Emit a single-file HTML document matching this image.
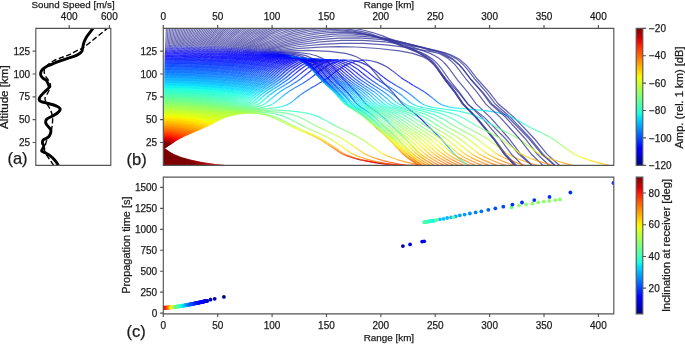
<!DOCTYPE html><html><head><meta charset="utf-8"><style>html,body{margin:0;padding:0;background:#fff;width:685px;height:345px;overflow:hidden}</style></head><body><svg xmlns="http://www.w3.org/2000/svg" width="685" height="345" viewBox="0 0 685 345" style="display:block;will-change:transform;font-family:'Liberation Sans',sans-serif" fill="#1c1c1c"><defs><clipPath id="ca"><rect x="35.8" y="28.3" width="75.0" height="137.0"/></clipPath><clipPath id="cb"><rect x="163.3" y="28.3" width="450.5" height="137.0"/></clipPath><clipPath id="cc"><rect x="163.3" y="177.1" width="450.5" height="136.8"/></clipPath><linearGradient id="gj" x1="0" y1="0" x2="0" y2="1"><stop offset="0.000" stop-color="#800000"/><stop offset="0.025" stop-color="#9c0000"/><stop offset="0.050" stop-color="#b90000"/><stop offset="0.075" stop-color="#d60000"/><stop offset="0.100" stop-color="#f30900"/><stop offset="0.125" stop-color="#ff2100"/><stop offset="0.150" stop-color="#ff3900"/><stop offset="0.175" stop-color="#ff5000"/><stop offset="0.200" stop-color="#ff6800"/><stop offset="0.225" stop-color="#ff8000"/><stop offset="0.250" stop-color="#ff9700"/><stop offset="0.275" stop-color="#ffaf00"/><stop offset="0.300" stop-color="#ffc600"/><stop offset="0.325" stop-color="#ffde00"/><stop offset="0.350" stop-color="#f7f600"/><stop offset="0.375" stop-color="#e2ff15"/><stop offset="0.400" stop-color="#ceff29"/><stop offset="0.425" stop-color="#b9ff3e"/><stop offset="0.450" stop-color="#a5ff52"/><stop offset="0.475" stop-color="#90ff67"/><stop offset="0.500" stop-color="#7bff7b"/><stop offset="0.525" stop-color="#67ff90"/><stop offset="0.550" stop-color="#52ffa5"/><stop offset="0.575" stop-color="#3effb9"/><stop offset="0.600" stop-color="#29ffce"/><stop offset="0.625" stop-color="#15ffe2"/><stop offset="0.650" stop-color="#00e5f7"/><stop offset="0.675" stop-color="#00ccff"/><stop offset="0.700" stop-color="#00b3ff"/><stop offset="0.725" stop-color="#0099ff"/><stop offset="0.750" stop-color="#0080ff"/><stop offset="0.775" stop-color="#0066ff"/><stop offset="0.800" stop-color="#004cff"/><stop offset="0.825" stop-color="#0033ff"/><stop offset="0.850" stop-color="#001aff"/><stop offset="0.875" stop-color="#0000ff"/><stop offset="0.900" stop-color="#0000f3"/><stop offset="0.925" stop-color="#0000d6"/><stop offset="0.950" stop-color="#0000b9"/><stop offset="0.975" stop-color="#00009c"/><stop offset="1.000" stop-color="#000080"/></linearGradient><filter id="bl" x="-20%" y="-20%" width="140%" height="140%"><feGaussianBlur stdDeviation="5"/></filter><mask id="md" maskUnits="userSpaceOnUse" x="0" y="0" width="685" height="345"><path d="M160,55L288,55L305,63L285,80L265,100L255,112L245,118L160,165Z" fill="#fff" filter="url(#bl)"/></mask><mask id="mt" maskUnits="userSpaceOnUse" x="0" y="0" width="685" height="345"><rect width="685" height="345" fill="#fff"/><path d="M150,15L330,15L322,47L160,49Z" fill="#e6e6e6" filter="url(#bl2)"/></mask><filter id="bl2" x="-20%" y="-50%" width="140%" height="200%"><feGaussianBlur stdDeviation="3"/></filter><g id="R"><path stroke="#38389c" d="M292.2,52.2 301.3,52.8 309.7,54.0 316.3,55.7 321.8,58.1 326.8,61.3 331.8,65.6 343.6,79.3M274.3,49.5 297.6,44.9 320.2,41.9 341.7,40.4 362.6,40.3 385.1,41.9 408.8,45.1 436.2,50.6 445.0,52.8 451.9,55.2 459.3,59.2 466.0,64.9 469.9,69.3 477.8,79.5 489.6,92.7 498.2,103.8 514.1,117.4 534.2,138.5 547.2,154.4 559.7,165.5M263.3,48.2 286.8,40.6 307.4,35.6 317.1,33.9 326.6,32.8 335.6,32.3 344.4,32.3 353.4,32.9 362.9,34.0 382.9,38.0 406.2,44.7 430.1,53.4 434.8,55.7 438.6,58.0 442.2,60.9 445.8,64.5 449.6,69.2 457.2,79.6 468.0,92.7 476.0,103.9 490.3,117.4 508.9,138.5 520.8,154.3 532.2,165.5M253.6,47.5 275.7,38.0 294.2,31.7 302.5,29.7 310.9,28.2 319.7,27.2 328.7,26.7 337.8,26.8 347.0,27.5 356.1,28.7 364.9,30.5 373.3,32.8 382.6,35.9 403.5,44.5 416.7,50.8 424.2,54.8 429.2,58.2 433.7,62.5 437.8,67.5 445.8,79.3 455.6,92.2 463.4,103.9 476.4,117.4 493.4,138.5 504.5,154.4 514.8,165.5M245.0,47.2 258.0,39.9 269.4,34.1 279.3,29.9 289.1,26.6M237.5,46.7 256.3,34.5 271.2,26.6M230.8,46.2 245.7,34.6 257.8,26.6M224.0,46.1 236.5,34.6 246.7,26.5M217.7,45.9 228.3,34.6 236.9,26.5M211.8,45.6 220.8,34.5 228.0,26.4M206.0,45.4 213.6,34.6 219.7,26.5M200.4,45.4 212.0,26.5M195.0,45.3 204.6,26.6M189.8,45.0 197.6,26.5M184.6,45.1 190.8,26.6M179.5,45.0 184.2,26.6M174.5,44.9 177.7,26.6M169.5,44.9 171.3,26.4"/><path stroke="#2c2caa" d="M287.2,52.1 292.2,52.2M343.6,79.3 346.2,82.0M271.1,50.2 274.3,49.5M260.5,49.2 263.3,48.2M251.4,48.6 253.6,47.5M243.1,48.3 245.0,47.2M235.8,48.0 237.5,46.7M229.3,47.4 230.8,46.2M222.8,47.2 224.0,46.1M216.6,47.1 217.7,45.9M210.8,46.9 211.8,45.6M205.2,46.7 206.0,45.4M199.8,46.5 200.4,45.4M194.5,46.5 195.0,45.3M189.3,46.5 189.8,45.0M184.2,46.3 184.6,45.1M179.2,46.2 179.5,45.0M174.3,46.2 174.5,44.9M169.4,46.2 169.5,44.9"/><path stroke="#2020bb" d="M282.2,52.3 287.2,52.1M346.2,82.0 348.9,84.9M267.5,51.0 271.1,50.2M257.5,50.3 260.5,49.2M248.8,49.9 251.4,48.6M240.8,49.6 243.1,48.3M233.8,49.3 235.8,48.0M227.7,48.7 229.3,47.4M221.1,48.8 222.8,47.2M215.2,48.6 216.6,47.1M209.7,48.3 210.8,46.9M204.2,48.2 205.2,46.7M198.9,48.1 199.8,46.5M193.7,48.0 194.5,46.5M188.7,47.9 189.3,46.5M183.8,47.8 184.2,46.3M178.9,47.7 179.2,46.2M174.1,47.7 174.3,46.2M169.3,47.7 169.4,46.2"/><path stroke="#1414ce" d="M276.8,52.7 282.2,52.3M348.9,84.9 351.7,87.7M263.4,52.1 267.5,51.0M254.1,51.6 257.5,50.3M245.8,51.4 248.8,49.9M238.2,51.2 240.8,49.6M231.5,51.0 233.8,49.3M225.5,50.5 227.7,48.7M219.3,50.6 221.1,48.8M213.5,50.5 215.2,48.6M208.2,50.2 209.7,48.3M203.0,50.1 204.2,48.2M197.8,50.0 198.9,48.1M192.9,49.8 193.7,48.0M187.9,49.9 188.7,47.9M183.1,49.8 183.8,47.8M178.4,49.8 178.9,47.7M173.8,49.6 174.1,47.7M169.1,49.6 169.3,47.7"/><path stroke="#0808e3" d="M341.4,61.0 349.5,64.1 357.3,68.9M290.6,55.9 298.4,58.7 305.4,63.2M270.7,53.5 276.8,52.7M351.7,87.7 354.8,90.7M258.5,53.5 263.4,52.1M249.9,53.3 254.1,51.6M242.2,53.2 245.8,51.4M235.0,53.2 238.2,51.2M228.7,53.0 231.5,51.0M223.1,52.6 225.5,50.5M217.2,52.7 219.3,50.6M211.6,52.7 213.5,50.5M206.6,52.4 208.2,50.2M201.5,52.3 203.0,50.1M196.5,52.3 197.8,50.0M191.8,52.2 192.9,49.8M187.1,52.1 187.9,49.9M182.4,52.1 183.1,49.8M177.9,52.0 178.4,49.8M173.4,51.9 173.8,49.6M168.9,51.9 169.1,49.6"/><path stroke="#0000fb" d="M307.8,67.9 312.5,64.9 317.5,62.6 322.5,60.9 327.4,59.9M337.7,60.2 341.4,61.0M357.3,68.9 362.5,73.2M298.6,62.5 305.6,59.9M323.7,60.3 332.0,63.7 340.0,69.0M317.1,61.4 323.2,64.8M306.8,59.6 312.3,62.3 317.8,66.1M281.3,54.9 290.6,55.9M305.4,63.2 310.7,67.9M261.1,55.7 270.7,53.5M354.8,90.7 357.5,93.7M251.4,56.2 258.5,53.5M244.5,55.9 249.9,53.3M237.7,55.8 242.2,53.2M231.2,55.9 235.0,53.2M225.4,55.7 228.7,53.0M220.1,55.3 223.1,52.6M214.6,55.4 217.2,52.7M209.4,55.4 211.6,52.7M204.6,55.1 206.6,52.4M199.8,55.0 201.5,52.3M195.1,54.9 196.5,52.3M190.5,54.8 191.8,52.2M186.0,54.8 187.1,52.1M181.7,54.6 182.4,52.1M177.3,54.7 177.9,52.0M172.9,54.7 173.4,51.9M168.7,54.5 168.9,51.9"/><path stroke="#0003ff" d="M302.9,71.7 307.8,67.9M327.4,59.9 329.7,59.7M335.8,59.9 337.7,60.2M362.5,73.2 366.5,76.5M290.1,67.5 298.6,62.5M305.6,59.9 310.8,59.0M320.5,59.5 323.7,60.3M340.0,69.0 344.7,73.1M280.8,65.1 285.2,62.4 289.6,60.4 294.1,59.0 298.5,58.2M311.3,59.2 317.1,61.4M323.2,64.8 330.8,70.8M273.0,63.2 280.9,59.2 288.9,57.3M302.6,58.2 306.8,59.6M317.8,66.1 323.5,71.2M265.0,62.3 269.5,59.7 274.0,57.9 278.7,56.7 283.6,56.1M297.9,58.3 302.0,60.1 306.1,62.6 313.9,69.0M257.8,61.5 262.9,58.5 268.6,56.4 274.7,55.2 281.3,54.9M310.7,67.9 314.2,71.6M251.4,60.7 255.9,57.9 261.1,55.7M357.5,93.7 360.0,96.8M244.7,60.4 251.4,56.2M238.7,59.8 244.5,55.9M232.9,59.5 237.7,55.8M227.3,59.3 231.2,55.9M221.9,59.1 225.4,55.7M217.1,58.5 220.1,55.3M212.0,58.5 214.6,55.4M207.1,58.5 209.4,55.4M202.6,58.3 204.6,55.1M198.1,58.0 199.8,55.0M193.6,58.0 195.1,54.9M189.3,57.9 190.5,54.8M185.0,57.7 186.0,54.8M180.8,57.8 181.7,54.6M176.6,57.7 177.3,54.7M172.5,57.5 172.9,54.7M168.4,57.6 168.7,54.5"/><path stroke="#0018ff" d="M299.3,74.6 302.9,71.7M329.7,59.7 331.1,59.7M334.9,59.8 335.8,59.9M366.5,76.5 369.9,79.1M285.4,71.3 290.1,67.5M310.8,59.0 313.1,58.9M318.7,59.2 320.5,59.5M344.7,73.1 348.6,76.5M275.5,69.1 280.8,65.1M298.5,58.2 301.4,58.0M308.9,58.7 311.3,59.2M330.8,70.8 334.8,74.5M267.4,67.3 273.0,63.2M288.9,57.3 292.8,57.1M300.4,57.7 302.6,58.2M323.5,71.2 327.1,74.8M259.8,66.3 265.0,62.3M283.6,56.1 287.1,56.1M295.1,57.4 297.9,58.3M313.9,69.0 317.9,73.2M252.8,65.5 257.8,61.5M314.2,71.6 316.9,74.8M246.5,64.6 251.4,60.7M360.0,96.8 362.3,99.7M240.5,64.1 244.7,60.4M234.8,63.5 238.7,59.8M229.4,63.1 232.9,59.5M224.1,62.8 227.3,59.3M219.1,62.5 221.9,59.1M214.4,62.0 217.1,58.5M209.7,61.9 212.0,58.5M205.1,61.8 207.1,58.5M200.7,61.5 202.6,58.3M196.5,61.3 198.1,58.0M192.2,61.3 193.6,58.0M188.1,61.1 189.3,57.9M184.1,61.0 185.0,57.7M180.0,60.9 180.8,57.8M176.1,60.8 176.6,57.7M172.1,60.7 172.5,57.5M168.2,60.8 168.4,57.6"/><path stroke="#002eff" d="M296.1,77.3 299.3,74.6M331.1,59.7 331.9,59.6M334.1,59.7 334.9,59.8M369.9,79.1 373.7,81.7M282.2,74.2 285.4,71.3M313.1,58.9 314.3,58.9M317.7,59.1 318.7,59.2M348.6,76.5 351.8,79.2M271.9,72.4 275.5,69.1M301.4,58.0 303.1,58.1M307.5,58.4 308.9,58.7M334.8,74.5 338.2,77.7M263.6,70.8 267.4,67.3M292.8,57.1 294.6,57.1M299.1,57.5 300.4,57.7M327.1,74.8 330.3,78.0M255.9,69.9 259.8,66.3M287.1,56.1 288.6,56.2M293.7,57.0 295.1,57.4M317.9,73.2 321.2,76.7M249.1,69.0 252.8,65.5M316.9,74.8 319.4,77.6M243.0,68.2 246.5,64.6M362.3,99.7 364.5,102.5M237.2,67.6 240.5,64.1M231.7,67.0 234.8,63.5M226.5,66.6 229.4,63.1M221.5,66.2 224.1,62.8M216.7,65.9 219.1,62.5M212.2,65.4 214.4,62.0M207.7,65.3 209.7,61.9M203.3,65.1 205.1,61.8M199.2,64.8 200.7,61.5M195.1,64.6 196.5,61.3M191.0,64.5 192.2,61.3M187.1,64.4 188.1,61.1M183.2,64.2 184.1,61.0M179.3,64.1 180.0,60.9M175.5,64.1 176.1,60.8M171.7,64.0 172.1,60.7M168.0,63.9 168.2,60.8"/><path stroke="#0044ff" d="M293.2,79.5 296.1,77.3M331.9,59.6 332.3,59.6M333.7,59.7 334.1,59.7M373.7,81.7 378.3,84.7M279.0,77.0 282.2,74.2M314.3,58.9 314.9,58.9M316.9,59.0 317.7,59.1M351.8,79.2 355.6,82.0M268.8,75.3 271.9,72.4M303.1,58.1 304.0,58.1M306.7,58.3 307.5,58.4M338.2,77.7 341.4,80.4M260.6,73.8 263.6,70.8M294.6,57.1 295.4,57.1M298.3,57.4 299.1,57.5M330.3,78.0 333.3,80.6M253.0,72.9 255.9,69.9M288.6,56.2 289.8,56.3M292.6,56.8 293.7,57.0M321.2,76.7 324.0,79.5M246.3,72.2 249.1,69.0M319.4,77.6 321.7,80.0M240.2,71.5 243.0,68.2M364.5,102.5 366.7,104.7M234.5,70.8 237.2,67.6M229.2,70.3 231.7,67.0M224.1,69.9 226.5,66.6M219.3,69.5 221.5,66.2M214.7,69.1 216.7,65.9M210.4,68.6 212.2,65.4M206.0,68.5 207.7,65.3M201.8,68.3 203.3,65.1M197.8,68.0 199.2,64.8M193.9,67.8 195.1,64.6M190.0,67.6 191.0,64.5M186.2,67.5 187.1,64.4M182.4,67.4 183.2,64.2M178.7,67.3 179.3,64.1M175.1,67.2 175.5,64.1M171.4,67.1 171.7,64.0M167.8,67.1 168.0,63.9"/><path stroke="#005aff" d="M289.7,81.9 293.2,79.5M332.3,59.6 332.5,59.7M333.5,59.7 333.7,59.7M378.3,84.7 382.6,87.4M276.3,79.2 279.0,77.0M314.9,58.9 315.3,58.9M316.5,59.0 316.9,59.0M355.6,82.0 359.9,85.0M266.1,77.8 268.8,75.3M304.0,58.1 304.6,58.1M306.3,58.3 306.7,58.3M341.4,80.4 345.3,83.4M257.8,76.6 260.6,73.8M295.4,57.1 296.1,57.2M297.6,57.3 298.3,57.4M333.3,80.6 337.0,83.7M250.5,75.7 253.0,72.9M289.8,56.3 290.4,56.4M292.2,56.7 292.6,56.8M324.0,79.5 327.4,82.6M243.8,75.0 246.3,72.2M321.7,80.0 324.5,82.7M237.9,74.3 240.2,71.5M366.7,104.7 369.6,107.0M232.3,73.8 234.5,70.8M227.1,73.2 229.2,70.3M222.1,72.9 224.1,69.9M217.5,72.4 219.3,69.5M213.0,72.1 214.7,69.1M208.7,71.7 210.4,68.6M204.5,71.5 206.0,68.5M200.5,71.4 201.8,68.3M196.6,71.1 197.8,68.0M192.8,70.8 193.9,67.8M189.0,70.7 190.0,67.6M185.4,70.5 186.2,67.5M181.7,70.4 182.4,67.4M178.2,70.3 178.7,67.3M174.6,70.3 175.1,67.2M171.1,70.3 171.4,67.1M167.6,70.2 167.8,67.1"/><path stroke="#006fff" d="M285.7,84.4 289.7,81.9M332.5,59.7 332.7,59.7M333.3,59.7 333.5,59.7M382.6,87.4 388.5,91.0M273.1,81.5 276.3,79.2M315.3,58.9 315.5,58.9M316.3,59.0 316.5,59.0M359.9,85.0 364.0,87.8M263.5,80.0 266.1,77.8M304.6,58.1 304.8,58.1M305.8,58.2 306.3,58.3M345.3,83.4 349.2,86.3M255.3,79.0 257.8,76.6M296.1,57.2 296.3,57.2M297.4,57.3 297.6,57.3M337.0,83.7 340.6,86.6M248.1,78.2 250.5,75.7M290.4,56.4 290.6,56.5M291.7,56.6 292.2,56.7M327.4,82.6 330.9,85.7M241.6,77.6 243.8,75.0M324.5,82.7 327.1,85.3M235.7,77.0 237.9,74.3M369.6,107.0 373.2,109.6M230.2,76.5 232.3,73.8M225.2,76.0 227.1,73.2M220.4,75.6 222.1,72.9M215.8,75.3 217.5,72.4M211.4,75.0 213.0,72.1M207.3,74.5 208.7,71.7M203.2,74.4 204.5,71.5M199.3,74.2 200.5,71.4M195.5,73.9 196.6,71.1M191.8,73.7 192.8,70.8M188.2,73.6 189.0,70.7M184.6,73.4 185.4,70.5M181.1,73.3 181.7,70.4M177.7,73.2 178.2,70.3M174.3,73.1 174.6,70.3M170.9,73.1 171.1,70.3M167.5,73.0 167.6,70.2"/><path stroke="#0085ff" d="M282.1,86.7 285.7,84.4M332.7,59.7 332.9,59.7M333.1,59.7 333.3,59.7M388.5,91.0 393.3,94.5M269.5,84.1 273.1,81.5M315.5,58.9 315.7,58.9M364.0,87.8 369.3,91.4M260.4,82.4 263.5,80.0M304.8,58.1 305.0,58.2M305.6,58.2 305.8,58.2M349.2,86.3 353.7,89.5M252.6,81.3 255.3,79.0M296.3,57.2 296.5,57.2M297.2,57.3 297.4,57.3M340.6,86.6 344.8,89.9M245.7,80.5 248.1,78.2M290.6,56.5 290.9,56.5M291.5,56.6 291.7,56.6M330.9,85.7 334.6,88.8M239.3,79.9 241.6,77.6M327.1,85.3 329.8,87.8M233.6,79.4 235.7,77.0M373.2,109.6 377.6,112.6M228.3,78.9 230.2,76.5M223.4,78.4 225.2,76.0M218.6,78.2 220.4,75.6M214.2,77.8 215.8,75.3M209.9,77.6 211.4,75.0M206.0,77.1 207.3,74.5M202.0,77.0 203.2,74.4M198.2,76.8 199.3,74.2M194.5,76.6 195.5,73.9M190.9,76.4 191.8,73.7M187.4,76.2 188.2,73.6M184.0,76.1 184.6,73.4M180.6,76.0 181.1,73.3M177.2,75.9 177.7,73.2M173.9,75.8 174.3,73.1M170.6,75.8 170.9,73.1M167.4,75.7 167.5,73.0"/><path stroke="#009bff" d="M277.7,89.3 282.1,86.7M393.3,94.5 397.2,97.8M266.3,86.3 269.5,84.1M315.7,58.9 315.9,58.9M316.1,58.9 316.3,59.0M369.3,91.4 373.7,94.9M257.1,84.9 260.4,82.4M305.0,58.2 305.2,58.2M353.7,89.5 358.2,93.1M249.8,83.7 252.6,81.3M296.5,57.2 296.8,57.2M297.0,57.3 297.2,57.3M344.8,89.9 348.8,93.3M243.0,82.9 245.7,80.5M290.9,56.5 291.1,56.5M334.6,88.8 338.5,92.3M236.9,82.3 239.3,79.9M329.8,87.8 332.8,90.5M231.4,81.7 233.6,79.4M377.6,112.6 381.8,116.0M226.3,81.2 228.3,78.9M221.6,80.8 223.4,78.4M216.9,80.5 218.6,78.2M212.7,80.2 214.2,77.8M208.5,79.9 209.9,77.6M204.6,79.6 206.0,77.1M200.8,79.4 202.0,77.0M197.1,79.2 198.2,76.8M193.5,79.1 194.5,76.6M190.1,78.8 190.9,76.4M186.7,78.8 187.4,76.2M183.3,78.7 184.0,76.1M180.0,78.6 180.6,76.0M176.8,78.4 177.2,75.9M173.6,78.4 173.9,75.8M170.4,78.3 170.6,75.8M167.2,78.4 167.4,75.7"/><path stroke="#00b0ff" d="M273.1,92.4 277.7,89.3M397.2,97.8 400.5,100.6M262.6,88.7 266.3,86.3M373.7,94.9 377.3,98.1M254.0,87.2 257.1,84.9M305.4,58.2 305.6,58.2M358.2,93.1 361.9,96.5M246.8,86.0 249.8,83.7M348.8,93.3 352.1,96.6M240.2,85.4 243.0,82.9M291.3,56.6 291.5,56.6M338.5,92.3 341.8,95.7M234.3,84.8 236.9,82.3M332.8,90.5 335.6,93.4M229.1,84.2 231.4,81.7M381.8,116.0 385.4,119.3M224.2,83.6 226.3,81.2M219.6,83.2 221.6,80.8M215.2,82.9 216.9,80.5M211.0,82.6 212.7,80.2M207.0,82.3 208.5,79.9M203.3,81.9 204.6,79.6M199.6,81.8 200.8,79.4M196.0,81.7 197.1,79.2M192.6,81.4 193.5,79.1M189.2,81.3 190.1,78.8M185.9,81.2 186.7,78.8M182.7,81.0 183.3,78.7M179.5,81.0 180.0,78.6M176.3,80.9 176.8,78.4M173.3,80.8 173.6,78.4M170.2,80.8 170.4,78.3M167.1,80.8 167.2,78.4"/><path stroke="#00c6ff" d="M269.3,95.3 273.1,92.4M400.5,100.6 403.3,103.0M258.4,91.7 262.6,88.7M377.3,98.1 380.4,101.0M250.5,89.7 254.0,87.2M361.9,96.5 365.0,99.5M243.9,88.3 246.8,86.0M352.1,96.6 355.1,99.7M237.6,87.6 240.2,85.4M341.8,95.7 344.6,98.8M231.9,87.1 234.3,84.8M335.6,93.4 338.1,96.2M226.9,86.4 229.1,84.2M385.4,119.3 388.3,122.2M222.0,86.0 224.2,83.6M217.6,85.6 219.6,83.2M213.3,85.3 215.2,82.9M209.4,84.9 211.0,82.6M205.5,84.8 207.0,82.3M201.9,84.4 203.3,81.9M198.3,84.2 199.6,81.8M194.8,84.1 196.0,81.7M191.5,83.9 192.6,81.4M188.3,83.7 189.2,81.3M185.1,83.6 185.9,81.2M182.0,83.4 182.7,81.0M178.9,83.4 179.5,81.0M175.9,83.2 176.3,80.9M172.9,83.3 173.3,80.8M169.9,83.2 170.2,80.8M167.0,83.1 167.1,80.8"/><path stroke="#00dcff" d="M266.0,98.1 269.3,95.3M403.3,103.0 406.2,104.7M254.8,94.5 258.4,91.7M315.9,58.9 316.1,58.9M380.4,101.0 383.2,103.3M246.9,92.5 250.5,89.7M305.2,58.2 305.4,58.2M365.0,99.5 367.9,102.3M240.4,91.1 243.9,88.3M355.1,99.7 357.7,102.4M234.6,90.1 237.6,87.6M291.1,56.5 291.3,56.6M344.6,98.8 347.3,101.8M229.3,89.4 231.9,87.1M338.1,96.2 340.4,98.9M224.5,88.8 226.9,86.4M388.3,122.2 391.1,125.0M219.8,88.4 222.0,86.0M215.6,87.9 217.6,85.6M211.5,87.7 213.3,85.3M207.6,87.3 209.4,84.9M204.0,87.1 205.5,84.8M200.5,86.8 201.9,84.4M197.0,86.6 198.3,84.2M193.7,86.4 194.8,84.1M190.5,86.2 191.5,83.9M187.4,86.1 188.3,83.7M184.3,86.0 185.1,83.6M181.3,85.9 182.0,83.4M178.4,85.7 178.9,83.4M175.4,85.7 175.9,83.2M172.6,85.6 172.9,83.3M169.7,85.5 169.9,83.2M166.9,85.5 167.0,83.1"/><path stroke="#0af1ed" d="M263.1,100.6 266.0,98.1M332.9,59.7 333.1,59.7M406.2,104.7 409.5,106.1M251.7,97.2 254.8,94.5M383.2,103.3 386.0,105.0M243.8,95.3 246.9,92.5M367.9,102.3 370.6,104.3M237.5,93.7 240.4,91.1M357.7,102.4 360.3,104.5M231.7,92.8 234.6,90.1M347.3,101.8 349.8,104.1M226.6,92.1 229.3,89.4M340.4,98.9 342.5,101.4M221.9,91.4 224.5,88.8M391.1,125.0 393.9,127.7M217.5,90.9 219.8,88.4M213.5,90.4 215.6,87.9M209.6,90.0 211.5,87.7M205.9,89.8 207.6,87.3M202.4,89.5 204.0,87.1M199.0,89.2 200.5,86.8M195.8,88.9 197.0,86.6M192.6,88.8 193.7,86.4M189.5,88.7 190.5,86.2M186.5,88.5 187.4,86.1M183.5,88.3 184.3,86.0M180.6,88.2 181.3,85.9M177.8,88.1 178.4,85.7M175.0,88.1 175.4,85.7M172.2,88.0 172.6,85.6M169.5,87.9 169.7,85.5M166.7,87.9 166.9,85.5"/><path stroke="#1bffdc" d="M260.6,102.7 263.1,100.6M409.5,106.1 414.3,107.5M248.9,99.9 251.7,97.2M386.0,105.0 389.9,106.8M241.0,97.9 243.8,95.3M370.6,104.3 373.9,106.2M234.7,96.5 237.5,93.7M360.3,104.5 363.8,106.6M229.2,95.4 231.7,92.8M349.8,104.1 353.0,106.4M224.2,94.6 226.6,92.1M342.5,101.4 344.6,103.6M219.7,93.9 221.9,91.4M393.9,127.7 396.9,130.5M215.5,93.4 217.5,90.9M211.5,93.0 213.5,90.4M207.8,92.5 209.6,90.0M204.2,92.2 205.9,89.8M200.8,92.0 202.4,89.5M197.6,91.5 199.0,89.2M194.5,91.3 195.8,88.9M191.4,91.2 192.6,88.8M188.5,91.0 189.5,88.7M185.6,90.9 186.5,88.5M182.7,90.7 183.5,88.3M180.0,90.6 180.6,88.2M177.2,90.5 177.8,88.1M174.5,90.5 175.0,88.1M171.9,90.3 172.2,88.0M169.2,90.3 169.5,87.9M166.6,90.3 166.7,87.9"/><path stroke="#2dffca" d="M306.8,113.1 314.2,115.1 321.0,117.9M258.1,104.3 260.6,102.7M414.3,107.5 435.9,112.2 441.9,113.9 447.0,116.0M246.4,102.2 248.9,99.9M389.9,106.8 397.0,109.1M238.5,100.4 241.0,97.9M373.9,106.2 379.3,108.5M232.2,99.1 234.7,96.5M363.8,106.6 369.4,109.3M226.8,98.0 229.2,95.4M353.0,106.4 358.1,109.2M221.9,97.2 224.2,94.6M344.6,103.6 346.8,105.4M217.6,96.5 219.7,93.9M396.9,130.5 400.1,133.4M213.5,95.9 215.5,93.4M209.7,95.4 211.5,93.0M206.1,95.1 207.8,92.5M202.7,94.6 204.2,92.2M199.4,94.4 200.8,92.0M196.3,94.0 197.6,91.5M193.3,93.8 194.5,91.3M190.3,93.6 191.4,91.2M187.5,93.4 188.5,91.0M184.7,93.2 185.6,90.9M182.0,93.1 182.7,90.7M179.3,92.9 180.0,90.6M176.7,92.9 177.2,90.5M174.1,92.7 174.5,90.5M171.5,92.7 171.9,90.3M169.0,92.6 169.2,90.3M166.5,92.6 166.6,90.3"/><path stroke="#3effb9" d="M289.0,110.8 298.6,111.8 306.8,113.1M321.0,117.9 327.5,121.5M255.6,105.5 258.1,104.3M447.0,116.0 455.1,120.3M244.1,103.8 246.4,102.2M397.0,109.1 409.0,112.9 416.3,116.1M236.1,102.6 238.5,100.4M379.3,108.5 391.3,113.3M230.0,101.4 232.2,99.1M369.4,109.3 378.2,113.6M224.6,100.5 226.8,98.0M358.1,109.2 365.5,113.3M219.8,99.7 221.9,97.2M346.8,105.4 349.5,107.3M215.6,99.0 217.6,96.5M400.1,133.4 403.1,136.3M211.6,98.5 213.5,95.9M207.9,98.0 209.7,95.4M204.4,97.5 206.1,95.1M201.2,97.1 202.7,94.6M198.0,96.8 199.4,94.4M195.0,96.4 196.3,94.0M192.1,96.2 193.3,93.8M189.3,96.1 190.3,93.6M186.6,95.8 187.5,93.4M183.9,95.6 184.7,93.2M181.3,95.5 182.0,93.1M178.7,95.4 179.3,92.9M176.2,95.2 176.7,92.9M173.7,95.2 174.1,92.7M171.2,95.1 171.5,92.7M168.8,95.1 169.0,92.6M166.3,95.1 166.5,92.6"/><path stroke="#50ffa7" d="M277.6,110.2 289.0,110.8M327.5,121.5 332.8,124.4M252.4,106.6 255.6,105.5M455.1,120.3 460.1,123.4M241.6,105.3 244.1,103.8M416.3,116.1 423.2,120.2M233.9,104.3 236.1,102.6M391.3,113.3 400.3,118.4M227.8,103.4 230.0,101.4M378.2,113.6 385.4,118.1M222.5,102.7 224.6,100.5M365.5,113.3 371.8,117.6M217.8,102.1 219.8,99.7M349.5,107.3 352.4,109.1M213.7,101.4 215.6,99.0M403.1,136.3 406.3,139.5M209.9,100.8 211.6,98.5M206.3,100.3 207.9,98.0M202.9,100.0 204.4,97.5M199.8,99.5 201.2,97.1M196.7,99.2 198.0,96.8M193.8,98.9 195.0,96.4M191.0,98.7 192.1,96.2M188.3,98.5 189.3,96.1M185.7,98.2 186.6,95.8M183.1,98.0 183.9,95.6M180.6,97.9 181.3,95.5M178.1,97.7 178.7,95.4M175.7,97.7 176.2,95.2M173.3,97.6 173.7,95.2M170.9,97.5 171.2,95.1M168.6,97.4 168.8,95.1M166.2,97.4 166.3,95.1"/><path stroke="#61ff96" d="M267.8,110.1 277.6,110.2M332.8,124.4 337.6,127.0M248.8,107.6 252.4,106.6M460.1,123.4 464.5,126.1M238.7,106.5 241.6,105.3M423.2,120.2 427.8,123.3M231.5,105.7 233.9,104.3M400.3,118.4 404.9,121.7M225.6,105.0 227.8,103.4M385.4,118.1 389.6,121.3M220.5,104.4 222.5,102.7M371.8,117.6 375.8,121.0M216.0,103.9 217.8,102.1M352.4,109.1 355.6,111.1M211.9,103.4 213.7,101.4M406.3,139.5 408.8,142.5M208.2,103.0 209.9,100.8M204.7,102.6 206.3,100.3M201.5,102.2 202.9,100.0M198.4,101.9 199.8,99.5M195.4,101.6 196.7,99.2M192.7,101.2 193.8,98.9M189.9,101.0 191.0,98.7M187.4,100.8 188.3,98.5M184.8,100.5 185.7,98.2M182.3,100.4 183.1,98.0M179.9,100.3 180.6,97.9M177.5,100.2 178.1,97.7M175.2,100.0 175.7,97.7M172.9,100.0 173.3,97.6M170.6,99.8 170.9,97.5M168.4,99.8 168.6,97.4M166.1,99.8 166.2,97.4"/><path stroke="#73ff84" d="M258.6,110.3 267.8,110.1M337.6,127.0 343.3,129.8M244.9,108.5 248.8,107.6M464.5,126.1 469.5,128.8M235.3,107.8 238.7,106.5M427.8,123.3 432.1,126.1M228.5,107.1 231.5,105.7M404.9,121.7 409.0,124.7M223.0,106.6 225.6,105.0M389.6,121.3 393.4,124.4M218.1,106.1 220.5,104.4M375.8,121.0 379.5,124.1M213.9,105.6 216.0,103.9M355.6,111.1 358.6,113.0M209.9,105.3 211.9,103.4M408.8,142.5 411.3,145.3M206.4,104.9 208.2,103.0M203.0,104.6 204.7,102.6M199.9,104.3 201.5,102.2M197.0,104.0 198.4,101.9M194.2,103.7 195.4,101.6M191.5,103.4 192.7,101.2M188.9,103.3 189.9,101.0M186.3,103.1 187.4,100.8M183.9,102.9 184.8,100.5M181.6,102.7 182.3,100.4M179.3,102.5 179.9,100.3M177.0,102.4 177.5,100.2M174.7,102.3 175.2,100.0M172.5,102.3 172.9,100.0M170.3,102.2 170.6,99.8M168.2,102.1 168.4,99.8M166.0,102.1 166.1,99.8"/><path stroke="#84ff73" d="M249.8,110.8 258.6,110.3M343.3,129.8 349.2,132.6M239.1,109.6 244.9,108.5M469.5,128.8 474.8,131.7M231.1,109.0 235.3,107.8M432.1,126.1 436.6,128.9M225.1,108.5 228.5,107.1M409.0,124.7 413.0,127.4M219.9,108.1 223.0,106.6M393.4,124.4 397.2,127.2M215.4,107.7 218.1,106.1M379.5,124.1 382.9,127.0M211.4,107.4 213.9,105.6M358.6,113.0 361.4,115.0M207.7,107.1 209.9,105.3M411.3,145.3 413.8,148.1M204.3,106.8 206.4,104.9M201.2,106.4 203.0,104.6M198.2,106.2 199.9,104.3M195.4,105.9 197.0,104.0M192.7,105.8 194.2,103.7M190.2,105.6 191.5,103.4M187.7,105.3 188.9,103.3M185.3,105.1 186.3,103.1M183.0,105.1 183.9,102.9M180.7,104.8 181.6,102.7M178.5,104.8 179.3,102.5M176.3,104.6 177.0,102.4M174.2,104.5 174.7,102.3M172.1,104.5 172.5,102.3M170.0,104.5 170.3,102.2M167.9,104.4 168.2,102.1M165.9,104.3 166.0,102.1"/><path stroke="#96ff61" d="M241.7,111.6 249.8,110.8M349.2,132.6 356.1,135.9M233.0,110.9 239.1,109.6M474.8,131.7 480.9,134.9M226.1,110.6 231.1,109.0M436.6,128.9 441.5,131.8M220.7,110.2 225.1,108.5M413.0,127.4 417.5,130.4M216.2,109.8 219.9,108.1M296.8,57.2 297.0,57.3M397.2,127.2 401.2,130.1M212.1,109.5 215.4,107.7M382.9,127.0 386.6,129.9M208.4,109.2 211.4,107.4M361.4,115.0 364.0,117.0M205.2,108.8 207.7,107.1M413.8,148.1 416.3,151.1M201.9,108.6 204.3,106.8M199.1,108.3 201.2,106.4M196.3,108.1 198.2,106.2M193.7,107.9 195.4,105.9M191.1,107.7 192.7,105.8M188.7,107.5 190.2,105.6M186.3,107.5 187.7,105.3M184.2,107.2 185.3,105.1M181.9,107.2 183.0,105.1M179.8,107.0 180.7,104.8M177.7,106.8 178.5,104.8M175.6,106.8 176.3,104.6M173.6,106.7 174.2,104.5M171.6,106.6 172.1,104.5M169.7,106.5 170.0,104.5M167.7,106.5 167.9,104.4M165.7,106.5 165.9,104.3"/><path stroke="#a7ff50" d="M248.8,113.0 257.3,113.5 265.0,114.9 272.0,117.1 279.5,120.6M234.1,112.7 241.7,111.6M356.1,135.9 363.4,140.1M226.8,112.4 233.0,110.9M480.9,134.9 487.0,138.5M220.9,112.2 226.1,110.6M441.5,131.8 447.0,135.0M216.2,112.0 220.7,110.2M417.5,130.4 422.2,133.5M212.3,111.6 216.2,109.8M401.2,130.1 405.5,133.2M208.6,111.4 212.1,109.5M386.6,129.9 390.6,133.0M205.3,111.1 208.4,109.2M364.0,117.0 366.3,119.0M202.4,110.8 205.2,108.8M416.3,151.1 418.5,153.6M199.4,110.6 201.9,108.6M196.7,110.4 199.1,108.3M194.2,110.1 196.3,108.1M191.8,109.9 193.7,107.9M189.4,109.8 191.1,107.7M187.2,109.6 188.7,107.5M185.0,109.4 186.3,107.5M182.9,109.3 184.2,107.2M180.8,109.2 181.9,107.2M178.8,109.1 179.8,107.0M176.9,109.0 177.7,106.8M174.9,108.9 175.6,106.8M173.0,108.9 173.6,106.7M171.1,108.8 171.6,106.6M169.3,108.7 169.7,106.5M167.4,108.7 167.7,106.5M165.6,108.7 165.7,106.5"/><path stroke="#b9ff3e" d="M227.8,116.2 237.8,113.8 248.8,113.0M279.5,120.6 285.1,123.5M223.8,115.3 234.1,112.7M363.4,140.1 367.7,143.2M219.6,114.7 226.8,112.4M487.0,138.5 491.9,142.1M215.4,114.4 220.9,112.2M447.0,135.0 452.5,138.6M211.6,114.0 216.2,112.0M422.2,133.5 427.1,136.7M208.3,113.6 212.3,111.6M405.5,133.2 409.9,136.4M205.2,113.3 208.6,111.4M390.6,133.0 394.7,136.2M202.2,113.1 205.3,111.1M366.3,119.0 368.1,120.6M199.5,112.8 202.4,110.8M418.5,153.6 421.2,156.1M196.9,112.6 199.4,110.6M194.5,112.3 196.7,110.4M192.2,112.1 194.2,110.1M189.9,111.9 191.8,109.9M187.7,111.8 189.4,109.8M185.6,111.6 187.2,109.6M183.6,111.5 185.0,109.4M181.6,111.4 182.9,109.3M179.7,111.3 180.8,109.2M177.8,111.1 178.8,109.1M176.0,111.1 176.9,109.0M174.2,110.9 174.9,108.9M172.4,110.9 173.0,108.9M170.6,110.9 171.1,108.8M168.9,110.8 169.3,108.7M167.2,110.8 167.4,108.7M165.4,110.8 165.6,108.7"/><path stroke="#caff2d" d="M220.5,119.2 227.8,116.2M285.1,123.5 289.8,125.8M216.9,118.2 223.8,115.3M367.7,143.2 371.6,146.0M213.7,117.3 219.6,114.7M491.9,142.1 495.6,145.0M210.5,116.7 215.4,114.4M452.5,138.6 456.9,142.0M207.4,116.3 211.6,114.0M427.1,136.7 431.9,140.4M204.6,115.8 208.3,113.6M409.9,136.4 414.4,140.0M201.9,115.4 205.2,113.3M394.7,136.2 398.7,139.8M199.3,115.2 202.2,113.1M368.1,120.6 369.8,122.2M196.8,114.9 199.5,112.8M421.2,156.1 424.2,158.7M194.5,114.6 196.9,112.6M192.2,114.4 194.5,112.3M190.1,114.2 192.2,112.1M188.1,113.9 189.9,111.9M186.0,113.9 187.7,111.8M184.2,113.6 185.6,111.6M182.2,113.6 183.6,111.5M180.4,113.5 181.6,111.4M178.6,113.3 179.7,111.3M176.9,113.2 177.8,111.1M175.2,113.0 176.0,111.1M173.5,113.1 174.2,110.9M171.8,112.9 172.4,110.9M170.2,112.9 170.6,110.9M168.6,112.8 168.9,110.8M166.9,112.8 167.2,110.8M165.3,112.7 165.4,110.8"/><path stroke="#dcff1b" d="M216.2,121.3 220.5,119.2M289.8,125.8 295.0,128.2M212.8,120.4 216.9,118.2M371.6,146.0 375.9,149.0M209.6,119.7 213.7,117.3M495.6,145.0 499.3,147.7M206.5,119.2 210.5,116.7M456.9,142.0 460.4,145.0M203.7,118.7 207.4,116.3M431.9,140.4 435.3,143.4M201.2,118.1 204.6,115.8M414.4,140.0 417.6,143.1M198.8,117.7 201.9,115.4M398.7,139.8 401.8,142.9M196.4,117.4 199.3,115.2M369.8,122.2 371.4,123.7M194.3,117.0 196.8,114.9M424.2,158.7 427.6,161.4M192.2,116.7 194.5,114.6M190.2,116.4 192.2,114.4M188.2,116.3 190.1,114.2M186.3,116.0 188.1,113.9M184.5,115.9 186.0,113.9M182.7,115.7 184.2,113.6M181.0,115.6 182.2,113.6M179.2,115.5 180.4,113.5M177.6,115.4 178.6,113.3M176.0,115.2 176.9,113.2M174.4,115.1 175.2,113.0M172.8,115.0 173.5,113.1M171.3,115.0 171.8,112.9M169.7,114.9 170.2,112.9M168.2,115.0 168.6,112.8M166.7,114.8 166.9,112.8M165.2,114.9 165.3,112.7"/><path stroke="#edff0a" d="M212.3,123.4 216.2,121.3M295.0,128.2 300.3,130.5M209.3,122.4 212.8,120.4M375.9,149.0 380.0,152.0M206.2,121.8 209.6,119.7M499.3,147.7 503.5,150.9M203.3,121.2 206.5,119.2M460.4,145.0 464.0,147.8M200.8,120.7 203.7,118.7M435.3,143.4 438.6,146.3M198.5,120.2 201.2,118.1M417.6,143.1 420.7,146.0M196.2,119.8 198.8,117.7M401.8,142.9 404.7,145.8M194.0,119.5 196.4,117.4M371.4,123.7 372.7,124.9M192.1,119.2 194.3,117.0M427.6,161.4 431.2,164.1M190.1,118.9 192.2,116.7M188.2,118.7 190.2,116.4M186.4,118.4 188.2,116.3M184.7,118.2 186.3,116.0M183.0,118.0 184.5,115.9M181.3,117.8 182.7,115.7M179.8,117.6 181.0,115.6M178.2,117.5 179.2,115.5M176.6,117.4 177.6,115.4M175.1,117.3 176.0,115.2M173.7,117.2 174.4,115.1M172.2,117.1 172.8,115.0M170.7,117.0 171.3,115.0M169.3,117.0 169.7,114.9M167.9,117.0 168.2,115.0M166.5,116.9 166.7,114.8M165.1,116.9 165.2,114.9"/><path stroke="#ffed00" d="M208.8,125.1 212.3,123.4M300.3,130.5 305.9,132.7M205.8,124.3 209.3,122.4M380.0,152.0 383.0,153.9M203.1,123.7 206.2,121.8M503.5,150.9 506.5,153.2M200.5,123.2 203.3,121.2M464.0,147.8 467.8,150.9M198.1,122.7 200.8,120.7M438.6,146.3 442.2,149.4M195.9,122.2 198.5,120.2M420.7,146.0 424.0,149.0M193.9,121.8 196.2,119.8M404.7,145.8 407.8,148.8M191.9,121.5 194.0,119.5M372.7,124.9 373.7,125.8M190.0,121.2 192.1,119.2M431.2,164.1 433.0,165.4M188.2,120.9 190.1,118.9M186.5,120.6 188.2,118.7M184.8,120.5 186.4,118.4M183.2,120.2 184.7,118.2M181.6,120.1 183.0,118.0M180.1,119.9 181.3,117.8M178.6,119.7 179.8,117.6M177.2,119.5 178.2,117.5M175.7,119.5 176.6,117.4M174.3,119.4 175.1,117.3M172.9,119.3 173.7,117.2M171.6,119.1 172.2,117.1M170.2,119.0 170.7,117.0M168.9,118.9 169.3,117.0M167.6,118.9 167.9,117.0M166.3,118.9 166.5,116.9M164.9,118.9 165.1,116.9"/><path stroke="#ffd800" d="M205.4,126.7 208.8,125.1M305.9,132.7 312.2,135.5M202.7,126.0 205.8,124.3M383.0,153.9 387.0,155.9M200.1,125.5 203.1,123.7M506.5,153.2 510.0,155.2M197.7,125.0 200.5,123.2M467.8,150.9 470.8,153.3M195.5,124.6 198.1,122.7M442.2,149.4 445.4,152.3M193.5,124.2 195.9,122.2M424.0,149.0 427.1,152.0M191.6,123.8 193.9,121.8M407.8,148.8 410.8,151.9M189.7,123.5 191.9,121.5M373.7,125.8 374.6,126.6M381.9,132.9 385.5,136.0M188.1,123.2 190.0,121.2M186.4,122.9 188.2,120.9M184.8,122.6 186.5,120.6M183.3,122.4 184.8,120.5M181.8,122.2 183.2,120.2M180.3,122.0 181.6,120.1M178.9,121.8 180.1,119.9M177.5,121.7 178.6,119.7M176.2,121.5 177.2,119.5M174.9,121.4 175.7,119.5M173.6,121.3 174.3,119.4M172.3,121.2 172.9,119.3M171.0,121.1 171.6,119.1M169.7,121.1 170.2,119.0M168.5,120.9 168.9,118.9M167.3,120.9 167.6,118.9M166.0,121.0 166.3,118.9M164.8,120.9 164.9,118.9"/><path stroke="#ffc400" d="M202.0,128.2 205.4,126.7M312.2,135.5 318.7,138.6M199.6,127.6 202.7,126.0M387.0,155.9 392.0,157.8M197.3,127.1 200.1,125.5M510.0,155.2 514.6,157.4M195.0,126.7 197.7,125.0M470.8,153.3 474.3,155.5M193.0,126.4 195.5,124.6M445.4,152.3 448.3,154.5M191.3,125.9 193.5,124.2M427.1,152.0 429.8,154.3M189.4,125.6 191.6,123.8M410.8,151.9 413.4,154.3M187.8,125.3 189.7,123.5M374.6,126.6 375.2,127.1M378.5,130.0 381.9,132.9M385.5,136.0 391.8,142.2M186.2,125.0 188.1,123.2M184.6,124.8 186.4,122.9M183.2,124.6 184.8,122.6M181.8,124.3 183.3,122.4M180.4,124.1 181.8,122.2M179.1,124.0 180.3,122.0M177.8,123.7 178.9,121.8M176.5,123.6 177.5,121.7M175.3,123.5 176.2,121.5M174.0,123.4 174.9,121.4M172.8,123.3 173.6,121.3M171.6,123.1 172.3,121.2M170.5,123.0 171.0,121.1M169.3,123.0 169.7,121.1M168.1,122.9 168.5,120.9M167.0,122.9 167.3,120.9M165.8,122.9 166.0,121.0M164.7,122.9 164.8,120.9"/><path stroke="#ffb000" d="M198.6,129.7 202.0,128.2M318.7,138.6 324.0,142.0M196.4,129.2 199.6,127.6M392.0,157.8 397.9,159.8M194.4,128.7 197.3,127.1M514.6,157.4 520.2,159.7M192.4,128.4 195.0,126.7M474.3,155.5 478.7,157.9M190.6,128.0 193.0,126.4M448.3,154.5 452.2,156.9M188.9,127.6 191.3,125.9M429.8,154.3 433.3,156.7M187.3,127.4 189.4,125.6M413.4,154.3 416.7,156.8M185.8,127.1 187.8,125.3M375.2,127.1 375.6,127.5M377.6,129.2 378.5,130.0M391.8,142.2 395.4,146.1M184.4,126.8 186.2,125.0M182.9,126.6 184.6,124.8M181.7,126.3 183.2,124.6M180.3,126.2 181.8,124.3M179.1,126.0 180.4,124.1M177.8,125.9 179.1,124.0M176.6,125.6 177.8,123.7M175.5,125.5 176.5,123.6M174.3,125.3 175.3,123.5M173.2,125.3 174.0,123.4M172.1,125.1 172.8,123.3M171.0,125.1 171.6,123.1M169.9,125.0 170.5,123.0M168.8,124.9 169.3,123.0M167.8,124.9 168.1,122.9M166.7,124.8 167.0,122.9M165.7,124.8 165.8,122.9M164.6,124.8 164.7,122.9"/><path stroke="#ff9c00" d="M195.3,131.1 198.6,129.7M324.0,142.0 327.8,144.6M193.3,130.7 196.4,129.2M397.9,159.8 405.3,161.9M191.6,130.2 194.4,128.7M520.2,159.7 527.0,162.2M189.8,129.9 192.4,128.4M478.7,157.9 484.2,160.4M188.1,129.6 190.6,128.0M452.2,156.9 456.8,159.5M186.7,129.3 188.9,127.6M433.3,156.7 437.6,159.4M185.3,129.0 187.3,127.4M416.7,156.8 420.7,159.5M183.8,128.8 185.8,127.1M375.6,127.5 376.0,127.8M377.1,128.8 377.6,129.2M395.4,146.1 399.2,150.1M182.6,128.5 184.4,126.8M181.3,128.3 182.9,126.6M180.1,128.1 181.7,126.3M178.9,127.9 180.3,126.2M177.8,127.7 179.1,126.0M176.7,127.5 177.8,125.9M175.5,127.5 176.6,125.6M174.5,127.3 175.5,125.5M173.4,127.2 174.3,125.3M172.4,127.1 173.2,125.3M171.4,127.0 172.1,125.1M170.4,126.9 171.0,125.1M169.4,126.8 169.9,125.0M168.4,126.8 168.8,124.9M167.4,126.6 167.8,124.9M166.4,126.7 166.7,124.8M165.5,126.6 165.7,124.8M164.5,126.7 164.6,124.8"/><path stroke="#ff8800" d="M192.1,132.4 195.3,131.1M327.8,144.6 331.6,147.0M190.4,132.0 193.3,130.7M405.3,161.9 413.7,163.9M188.8,131.7 191.6,130.2M527.0,162.2 535.3,164.8M187.2,131.4 189.8,129.9M484.2,160.4 490.7,163.1M185.9,131.1 188.1,129.6M456.8,159.5 462.4,162.2M184.5,130.8 186.7,129.3M437.6,159.4 442.5,162.2M183.2,130.6 185.3,129.0M420.7,159.5 425.3,162.5M182.0,130.4 183.8,128.8M376.0,127.8 376.1,127.9M376.8,128.5 377.1,128.8M399.2,150.1 402.1,153.3M180.8,130.2 182.6,128.5M179.7,129.9 181.3,128.3M178.6,129.8 180.1,128.1M177.5,129.6 178.9,127.9M176.5,129.4 177.8,127.7M175.4,129.3 176.7,127.5M174.5,129.2 175.5,127.5M173.5,129.1 174.5,127.3M172.6,128.9 173.4,127.2M171.6,128.9 172.4,127.1M170.7,128.7 171.4,127.0M169.8,128.6 170.4,126.9M168.9,128.6 169.4,126.8M167.9,128.6 168.4,126.8M167.1,128.4 167.4,126.6M166.2,128.4 166.4,126.7M165.3,128.4 165.5,126.6M164.4,128.4 164.5,126.7"/><path stroke="#ff7400" d="M189.0,133.7 192.1,132.4M331.6,147.0 335.8,149.7M187.6,133.3 190.4,132.0M413.7,163.9 420.9,165.4M186.2,133.0 188.8,131.7M535.3,164.8 537.6,165.4M184.9,132.8 187.2,131.4M490.7,163.1 496.8,165.4M183.6,132.5 185.9,131.1M462.4,162.2 468.8,165.1M182.4,132.4 184.5,130.8M442.5,162.2 448.0,165.1M181.2,132.1 183.2,130.6M425.3,162.5 430.3,165.5M180.1,132.0 182.0,130.4M376.1,127.9 376.2,128.0M376.6,128.4 376.8,128.5M402.1,153.3 405.9,156.5M179.1,131.7 180.8,130.2M178.1,131.6 179.7,129.9M177.2,131.3 178.6,129.8M176.2,131.2 177.5,129.6M175.3,131.0 176.5,129.4M174.4,130.9 175.4,129.3M173.4,130.8 174.5,129.2M172.5,130.7 173.5,129.1M171.7,130.6 172.6,128.9M170.8,130.6 171.6,128.9M170.0,130.5 170.7,128.7M169.2,130.4 169.8,128.6M168.3,130.3 168.9,128.6M167.5,130.2 167.9,128.6M166.7,130.2 167.1,128.4M165.9,130.1 166.2,128.4M165.1,130.2 165.3,128.4M164.3,130.1 164.4,128.4"/><path stroke="#ff6000" d="M186.0,135.0 189.0,133.7M335.8,149.7 339.4,152.2M184.9,134.6 187.6,133.3M183.7,134.4 186.2,133.0M182.5,134.2 184.9,132.8M181.4,134.0 183.6,132.5M468.8,165.1 469.4,165.4M180.3,133.8 182.4,132.4M448.0,165.1 448.8,165.5M179.4,133.6 181.2,132.1M178.5,133.4 180.1,132.0M376.2,128.0 376.3,128.1M376.5,128.3 376.6,128.4M405.9,156.5 410.9,160.3M177.5,133.2 179.1,131.7M176.6,133.1 178.1,131.6M175.8,132.9 177.2,131.3M174.9,132.7 176.2,131.2M174.1,132.6 175.3,131.0M173.3,132.5 174.4,130.9M172.4,132.4 173.4,130.8M171.7,132.2 172.5,130.7M170.8,132.2 171.7,130.6M170.1,132.1 170.8,130.6M169.3,132.1 170.0,130.5M168.6,132.0 169.2,130.4M167.8,132.0 168.3,130.3M167.1,131.8 167.5,130.2M166.4,131.9 166.7,130.2M165.7,131.8 165.9,130.1M164.9,131.7 165.1,130.2M164.2,131.8 164.3,130.1"/><path stroke="#ff4c00" d="M183.3,136.2 186.0,135.0M339.4,152.2 342.1,153.8M182.3,135.9 184.9,134.6M181.2,135.7 183.7,134.4M180.3,135.5 182.5,134.2M179.3,135.4 181.4,134.0M178.4,135.2 180.3,133.8M177.6,135.0 179.4,133.6M176.7,134.9 178.5,133.4M376.3,128.1 376.4,128.2M410.9,160.3 416.4,164.1M176.0,134.6 177.5,133.2M175.2,134.5 176.6,133.1M174.3,134.4 175.8,132.9M173.7,134.2 174.9,132.7M172.9,134.1 174.1,132.6M172.2,134.0 173.3,132.5M171.5,133.9 172.4,132.4M170.8,133.8 171.7,132.2M170.1,133.8 170.8,132.2M169.4,133.7 170.1,132.1M168.7,133.6 169.3,132.1M168.1,133.5 168.6,132.0M167.4,133.5 167.8,132.0M166.7,133.5 167.1,131.8M166.1,133.4 166.4,131.9M165.4,133.3 165.7,131.8M164.8,133.4 164.9,131.7M164.1,133.3 164.2,131.8"/><path stroke="#ff3800" d="M180.7,137.4 183.3,136.2M342.1,153.8 345.2,155.2M404.0,165.0 416.3,165.4M180.0,137.1 182.3,135.9M179.1,137.0 181.2,135.7M178.2,136.8 180.3,135.5M177.4,136.7 179.3,135.4M176.7,136.4 178.4,135.2M175.9,136.3 177.6,135.0M175.2,136.1 176.7,134.9M416.4,164.1 418.5,165.5M174.5,136.0 176.0,134.6M173.8,135.9 175.2,134.5M173.2,135.8 174.3,134.4M172.5,135.7 173.7,134.2M171.9,135.5 172.9,134.1M171.2,135.5 172.2,134.0M170.6,135.4 171.5,133.9M169.9,135.3 170.8,133.8M169.3,135.2 170.1,133.8M168.7,135.1 169.4,133.7M168.1,135.1 168.7,133.6M167.6,135.0 168.1,133.5M166.9,135.0 167.4,133.5M166.3,135.0 166.7,133.5M165.8,134.9 166.1,133.4M165.2,134.8 165.4,133.3M164.6,134.8 164.8,133.4M164.0,134.9 164.1,133.3"/><path stroke="#ff2400" d="M178.3,138.7 180.7,137.4M345.2,155.2 348.3,156.4M388.5,164.0 404.0,165.0M177.7,138.4 180.0,137.1M177.0,138.2 179.1,137.0M176.3,138.1 178.2,136.8M175.7,137.9 177.4,136.7M174.9,137.8 176.7,136.4M174.3,137.7 175.9,136.3M173.7,137.5 175.2,136.1M173.2,137.3 174.5,136.0M172.5,137.2 173.8,135.9M172.0,137.1 173.2,135.8M171.4,137.0 172.5,135.7M170.8,136.9 171.9,135.5M170.3,136.8 171.2,135.5M169.7,136.7 170.6,135.4M169.2,136.6 169.9,135.3M168.6,136.6 169.3,135.2M168.1,136.6 168.7,135.1M167.6,136.4 168.1,135.1M167.0,136.4 167.6,135.0M166.5,136.4 166.9,135.0M166.0,136.3 166.3,135.0M165.5,136.3 165.8,134.9M165.0,136.3 165.2,134.8M164.5,136.3 164.6,134.8M163.9,136.3 164.0,134.9"/><path stroke="#fb0f00" d="M176.1,140.0 178.3,138.7M348.3,156.4 351.0,157.3M374.5,162.4 388.5,164.0M175.5,139.8 177.7,138.4M175.0,139.6 177.0,138.2M174.5,139.4 176.3,138.1M173.9,139.2 175.7,137.9M173.5,139.0 174.9,137.8M172.9,138.9 174.3,137.7M172.4,138.7 173.7,137.5M376.4,128.2 376.5,128.3M171.8,138.7 173.2,137.3M171.4,138.5 172.5,137.2M170.9,138.4 172.0,137.1M170.4,138.3 171.4,137.0M169.9,138.2 170.8,136.9M169.4,138.1 170.3,136.8M168.9,138.0 169.7,136.7M168.5,138.0 169.2,136.6M168.0,138.0 168.6,136.6M167.5,137.8 168.1,136.6M167.0,137.8 167.6,136.4M166.6,137.7 167.0,136.4M166.1,137.7 166.5,136.4M165.7,137.7 166.0,136.3M165.2,137.6 165.5,136.3M164.8,137.7 165.0,136.3M164.3,137.6 164.5,136.3M163.9,137.6 163.9,136.3"/><path stroke="#e20000" d="M174.2,141.2 176.1,140.0M351.0,157.3 353.5,158.1M367.0,161.2 374.5,162.4M173.8,141.0 175.5,139.8M173.3,140.8 175.0,139.6M172.9,140.6 174.5,139.4M172.5,140.5 173.9,139.2M172.0,140.3 173.5,139.0M171.6,140.1 172.9,138.9M171.2,140.0 172.4,138.7M170.7,139.9 171.8,138.7M170.3,139.8 171.4,138.5M169.9,139.7 170.9,138.4M169.4,139.6 170.4,138.3M169.0,139.5 169.9,138.2M168.6,139.4 169.4,138.1M168.2,139.3 168.9,138.0M167.8,139.2 168.5,138.0M167.4,139.2 168.0,138.0M167.0,139.2 167.5,137.8M166.6,139.1 167.0,137.8M166.2,139.0 166.6,137.7M165.8,139.0 166.1,137.7M165.4,139.0 165.7,137.7M165.0,138.9 165.2,137.6M164.6,138.9 164.8,137.7M164.2,138.8 164.3,137.6M163.8,138.9 163.9,137.6"/><path stroke="#c90000" d="M172.7,142.3 174.2,141.2M353.5,158.1 355.2,158.5M363.3,160.4 367.0,161.2M172.3,142.1 173.8,141.0M171.9,141.9 173.3,140.8M171.5,141.8 172.9,140.6M171.1,141.6 172.5,140.5M170.8,141.5 172.0,140.3M170.4,141.4 171.6,140.1M170.1,141.2 171.2,140.0M169.7,141.1 170.7,139.9M169.3,141.0 170.3,139.8M169.0,140.8 169.9,139.7M168.6,140.8 169.4,139.6M168.2,140.7 169.0,139.5M167.9,140.6 168.6,139.4M167.5,140.6 168.2,139.3M167.2,140.5 167.8,139.2M166.9,140.3 167.4,139.2M166.5,140.4 167.0,139.2M166.1,140.3 166.6,139.1M165.8,140.2 166.2,139.0M165.5,140.1 165.8,139.0M165.1,140.2 165.4,139.0M164.8,140.1 165.0,138.9M164.4,140.1 164.6,138.9M164.1,140.1 164.2,138.8M163.7,140.1 163.8,138.9M215.6,164.5 224.1,165.4"/><path stroke="#b10000" d="M171.2,143.3 172.7,142.3M355.2,158.5 356.4,158.8M361.4,160.0 363.3,160.4M171.0,143.0 172.3,142.1M170.6,142.9 171.9,141.9M170.3,142.8 171.5,141.8M170.0,142.6 171.1,141.6M169.7,142.5 170.8,141.5M169.4,142.4 170.4,141.4M169.1,142.2 170.1,141.2M168.8,142.2 169.7,141.1M168.5,142.0 169.3,141.0M168.1,142.0 169.0,140.8M167.9,141.8 168.6,140.8M167.5,141.8 168.2,140.7M167.3,141.7 167.9,140.6M167.0,141.6 167.5,140.6M166.6,141.6 167.2,140.5M166.4,141.5 166.9,140.3M166.1,141.4 166.5,140.4M165.8,141.3 166.1,140.3M165.4,141.4 165.8,140.2M165.2,141.3 165.5,140.1M164.9,141.3 165.1,140.2M164.6,141.2 164.8,140.1M164.3,141.2 164.4,140.1M164.0,141.2 164.1,140.1M163.7,141.2 163.7,140.1M200.5,162.3 215.6,164.5"/><path stroke="#980000" d="M170.0,144.1 171.2,143.3M356.4,158.8 357.2,159.1M360.3,159.8 361.4,160.0M169.8,143.9 171.0,143.0M169.5,143.8 170.6,142.9M169.3,143.6 170.3,142.8M169.0,143.6 170.0,142.6M168.7,143.4 169.7,142.5M168.4,143.3 169.4,142.4M168.2,143.2 169.1,142.2M167.9,143.1 168.8,142.2M167.7,143.0 168.5,142.0M167.5,142.9 168.1,142.0M167.2,142.9 167.9,141.8M166.9,142.8 167.5,141.8M166.7,142.7 167.3,141.7M166.4,142.6 167.0,141.6M166.1,142.6 166.6,141.6M165.9,142.5 166.4,141.5M165.7,142.5 166.1,141.4M165.4,142.4 165.8,141.3M165.2,142.3 165.4,141.4M164.9,142.3 165.2,141.3M164.6,142.4 164.9,141.3M164.4,142.3 164.6,141.2M164.1,142.3 164.3,141.2M163.9,142.3 164.0,141.2M163.6,142.3 163.7,141.2M188.9,159.8 200.5,162.3M191.9,161.8 206.5,165.4"/><path stroke="#800000" d="M163.3,148.4 170.0,144.1M357.2,159.1 360.3,159.8M163.3,148.4 169.8,143.9M163.3,148.4 169.5,143.8M163.3,148.4 169.3,143.6M163.3,148.4 169.0,143.6M163.3,148.4 168.7,143.4M163.3,148.4 168.4,143.3M163.3,148.4 168.2,143.2M163.3,148.4 167.9,143.1M163.3,148.4 167.7,143.0M163.3,148.4 167.5,142.9M163.3,148.4 167.2,142.9M163.3,148.4 166.9,142.8M163.3,148.4 166.7,142.7M163.3,148.4 166.4,142.6M163.3,148.4 166.1,142.6M163.3,148.4 165.9,142.5M163.3,148.4 165.7,142.5M163.3,148.4 165.4,142.4M163.3,148.4 165.2,142.3M163.3,148.4 164.9,142.3M163.3,148.4 164.6,142.4M163.3,148.4 164.4,142.3M163.3,148.4 164.1,142.3M163.3,148.4 163.9,142.3M163.3,148.4 163.6,142.3M163.3,148.4 169.6,152.7 173.9,155.0 180.6,157.5 188.9,159.8M163.3,148.4 169.4,152.9 174.4,155.6 182.1,158.7 191.9,161.8M163.3,148.4 169.6,153.3 176.0,156.8 186.0,161.0 199.0,165.4M163.3,148.4 169.0,153.2 174.4,156.5 183.0,160.7 194.4,165.5M163.3,148.4 168.5,153.0 173.1,156.3 180.6,160.5 190.8,165.4M163.3,148.4 168.1,153.0 172.2,156.1 188.0,165.5M163.3,148.4 167.7,153.0 171.4,156.0 185.6,165.4M163.3,148.4 167.3,152.9 170.7,156.0 183.6,165.5M163.3,148.4 170.1,155.9 181.9,165.5M163.3,148.4 169.5,155.8 180.2,165.4M163.3,148.4 169.0,155.8 178.8,165.5M163.3,148.4 168.5,155.7 177.4,165.4M163.3,148.4 168.0,155.6 176.2,165.4M163.3,148.4 167.6,155.7 175.1,165.5M163.3,148.4 167.3,155.7 174.0,165.5M163.3,148.4 166.8,155.5 172.9,165.5M163.3,148.4 166.5,155.5 171.9,165.4M163.3,148.4 166.1,155.5 170.9,165.4M163.3,148.4 165.8,155.6 170.0,165.5M163.3,148.4 169.1,165.5M163.3,148.4 168.3,165.5M163.3,148.4 167.4,165.5M163.3,148.4 166.6,165.5M163.3,148.4 165.7,165.5M163.3,148.4 164.9,165.5M163.3,148.4 164.1,165.4"/><path stroke="#38389c" d="M285.1,51.1 307.5,50.4 329.6,51.3 345.5,53.4 351.9,55.1 356.9,57.0 363.1,60.6 369.2,65.9 380.6,79.5 393.3,92.9 401.5,103.1 407.7,108.4M271.0,49.2 294.9,43.7 317.5,39.9 338.2,38.1 358.5,37.8 380.0,39.4 402.8,42.9 430.1,49.0 441.4,52.1 449.0,54.8 456.7,58.9 463.5,64.9 467.4,69.3 475.2,79.5 486.7,92.7 495.2,103.9 510.6,117.4 530.4,138.5 543.2,154.4 555.2,165.4M260.1,48.3 283.5,40.0 303.7,34.5 313.0,32.8 321.7,31.6 330.3,31.0 338.9,30.9 347.5,31.5 356.3,32.6 365.8,34.3 375.6,36.7 397.7,43.6 421.6,52.8 426.8,55.4 430.6,57.7 434.2,60.6 438.0,64.4 441.8,69.1 449.2,79.6 459.7,92.6 467.7,103.9 481.7,117.4 499.8,138.5 511.6,154.4 522.6,165.4M251.5,47.4 269.3,39.0 284.5,33.0 297.4,29.2 311.2,26.6M243.0,47.1 255.2,39.9 265.8,34.3 274.9,30.0 284.1,26.6M235.9,46.5 253.3,34.6 267.6,26.6M229.0,46.2 243.2,34.6 254.9,26.5M222.3,46.1 234.3,34.7 244.0,26.6M216.2,45.8 226.3,34.6 234.5,26.6M210.3,45.6 218.9,34.5 225.8,26.5M204.6,45.5 217.7,26.5M199.1,45.3 210.2,26.4M193.8,45.1 202.9,26.4M188.5,45.1 195.9,26.4M183.3,45.0 189.2,26.4M178.3,45.0 182.5,26.6M173.3,44.8 176.1,26.6M168.3,44.8 169.7,26.5"/><path stroke="#2c2caa" d="M345.3,65.2 350.2,63.0 355.1,61.4M372.0,61.0 377.2,62.4 382.5,64.6 387.5,67.3 392.5,70.9M296.1,56.4 303.1,59.5 309.5,64.0M281.2,51.5 285.1,51.1M407.7,108.4 411.8,111.3M268.1,49.9 271.0,49.2M257.5,49.3 260.1,48.3M249.5,48.4 251.5,47.4M241.0,48.4 243.0,47.1M234.2,47.7 235.9,46.5M227.5,47.4 229.0,46.2M221.2,47.2 222.3,46.1M215.1,47.0 216.2,45.8M209.4,46.8 210.3,45.6M203.7,46.8 204.6,45.5M198.4,46.5 199.1,45.3M193.1,46.5 193.8,45.1M188.0,46.3 188.5,45.1M183.0,46.3 183.3,45.0M178.0,46.2 178.3,45.0M173.1,46.1 173.3,44.8M168.2,46.1 168.3,44.8"/><path stroke="#2020bb" d="M337.6,70.1 345.3,65.2M355.1,61.4 360.2,60.5M369.0,60.5 372.0,61.0M392.5,70.9 397.0,74.4M290.8,55.2 296.1,56.4M309.5,64.0 314.6,68.8M276.9,51.9 281.2,51.5M411.8,111.3 416.1,114.5M264.6,50.9 268.1,49.9M254.8,50.3 257.5,49.3M246.9,49.7 249.5,48.4M238.9,49.6 241.0,48.4M232.3,49.1 234.2,47.7M226.0,48.8 227.5,47.4M219.7,48.7 221.2,47.2M213.8,48.6 215.1,47.0M208.2,48.5 209.4,46.8M202.8,48.3 203.7,46.8M197.6,48.0 198.4,46.5M192.4,48.1 193.1,46.5M187.4,48.0 188.0,46.3M182.6,47.7 183.0,46.3M177.7,47.7 178.0,46.2M172.8,47.8 173.1,46.1M168.1,47.6 168.2,46.1"/><path stroke="#1414ce" d="M333.4,73.4 337.6,70.1M360.2,60.5 362.1,60.3M367.5,60.3 369.0,60.5M397.0,74.4 400.8,77.4M286.4,54.6 290.8,55.2M314.6,68.8 318.0,72.7M272.0,52.6 276.9,51.9M416.1,114.5 419.9,117.9M260.8,52.0 264.6,50.9M251.4,51.7 254.8,50.3M244.1,51.1 246.9,49.7M236.3,51.3 238.9,49.6M230.0,50.8 232.3,49.1M223.9,50.6 226.0,48.8M217.9,50.5 219.7,48.7M212.2,50.5 213.8,48.6M206.8,50.3 208.2,48.5M201.6,50.2 202.8,48.3M196.6,50.0 197.6,48.0M191.6,49.9 192.4,48.1M186.7,49.8 187.4,48.0M181.9,49.8 182.6,47.7M177.3,49.6 177.7,47.7M172.6,49.6 172.8,47.8M167.9,49.5 168.1,47.6"/><path stroke="#0808e3" d="M329.7,76.4 333.4,73.4M362.1,60.3 363.2,60.2M366.5,60.3 367.5,60.3M400.8,77.4 404.2,79.8M338.4,61.6 343.9,63.9 349.3,67.1M281.8,54.4 286.4,54.6M318.0,72.7 320.7,75.8M266.3,53.6 272.0,52.6M419.9,117.9 422.9,120.9M255.9,53.5 260.8,52.0M247.3,53.6 251.4,51.7M240.6,53.1 244.1,51.1M233.2,53.3 236.3,51.3M227.3,53.0 230.0,50.8M221.5,52.8 223.9,50.6M215.7,52.7 217.9,50.5M210.3,52.7 212.2,50.5M205.3,52.4 206.8,50.3M200.2,52.4 201.6,50.2M195.3,52.3 196.6,50.0M190.5,52.2 191.6,49.9M185.9,52.0 186.7,49.8M181.3,52.0 181.9,49.8M176.8,51.9 177.3,49.6M172.2,51.9 172.6,49.6M167.8,51.8 167.9,49.5"/><path stroke="#0000fb" d="M326.5,78.8 329.7,76.4M363.2,60.2 364.0,60.2M365.9,60.2 366.5,60.3M404.2,79.8 408.7,82.6M304.7,66.3 313.0,62.1 321.2,59.8M333.4,60.2 338.4,61.6M349.3,67.1 355.6,72.0M297.4,61.3 300.8,60.2M321.9,60.6 328.7,63.5 335.1,67.7M305.8,59.8 310.5,62.3 315.1,65.5M272.1,55.0 281.8,54.4M320.7,75.8 323.2,78.7M257.4,56.3 266.3,53.6M422.9,120.9 425.7,123.8M249.4,56.3 255.9,53.5M242.1,56.3 247.3,53.6M236.1,55.8 240.6,53.1M229.6,55.9 233.2,53.3M224.2,55.5 227.3,53.0M218.7,55.3 221.5,52.8M213.4,55.3 215.7,52.7M208.3,55.2 210.3,52.7M203.4,55.0 205.3,52.4M198.6,54.9 200.2,52.4M194.0,54.9 195.3,52.3M189.5,54.7 190.5,52.2M184.9,54.8 185.9,52.0M180.6,54.6 181.3,52.0M176.2,54.7 176.8,51.9M171.9,54.6 172.2,51.9M167.6,54.7 167.8,51.8"/><path stroke="#0003ff" d="M323.1,81.0 326.5,78.8M364.0,60.2 364.4,60.2M365.6,60.2 365.9,60.2M408.7,82.6 413.4,85.5M298.9,70.5 304.7,66.3M321.2,59.8 324.2,59.5M331.1,59.8 333.4,60.2M355.6,72.0 359.8,75.5M287.6,66.8 292.5,63.7 297.4,61.3M300.8,60.2 307.5,58.8M318.0,59.5 321.9,60.6M335.1,67.7 340.6,72.4M278.4,64.8 282.9,62.1 287.5,60.0 292.0,58.7 296.6,58.0M310.7,59.5 314.9,61.2 319.1,63.4 327.3,69.5M270.6,63.2 274.9,60.7 279.3,58.8 283.9,57.6 288.6,56.9M301.3,58.2 305.8,59.8M315.1,65.5 321.2,71.0M263.2,62.0 267.6,59.5 272.2,57.6 277.3,56.4 282.3,55.8M298.3,58.8 304.8,62.5 311.1,67.6M256.0,61.4 259.8,59.1 263.6,57.3 267.8,55.9 272.1,55.0M323.2,78.7 325.7,81.3M249.5,60.7 253.2,58.3 257.4,56.3M425.7,123.8 428.4,126.5M243.1,60.3 249.4,56.3M237.0,60.0 242.1,56.3M231.5,59.5 236.1,55.8M225.8,59.4 229.6,55.9M220.8,58.8 224.2,55.5M215.8,58.6 218.7,55.3M210.8,58.5 213.4,55.3M206.0,58.4 208.3,55.2M201.4,58.2 203.4,55.0M196.9,58.2 198.6,54.9M192.5,58.0 194.0,54.9M188.2,57.8 189.5,54.7M184.0,57.7 184.9,54.8M179.7,57.8 180.6,54.6M175.6,57.7 176.2,54.7M171.5,57.6 171.9,54.6M167.4,57.5 167.6,54.7"/><path stroke="#0018ff" d="M318.8,83.6 323.1,81.0M364.4,60.2 364.6,60.2M365.2,60.2 365.6,60.2M413.4,85.5 417.9,88.0M295.2,73.6 298.9,70.5M324.2,59.5 325.6,59.5M329.9,59.6 331.1,59.8M359.8,75.5 363.2,78.3M282.8,70.6 287.6,66.8M307.5,58.8 310.0,58.7M316.1,59.1 318.0,59.5M340.6,72.4 344.4,75.8M273.2,68.8 278.4,64.8M296.6,58.0 299.7,57.8M308.0,58.8 310.7,59.5M327.3,69.5 331.6,73.6M265.2,67.2 270.6,63.2M288.6,56.9 291.9,56.8M299.1,57.7 301.3,58.2M321.2,71.0 324.8,74.6M257.9,66.1 263.2,62.0M282.3,55.8 285.9,55.9M295.0,57.6 298.3,58.8M311.1,67.6 315.6,72.2M251.1,65.3 256.0,61.4M325.7,81.3 328.7,84.2M244.9,64.5 249.5,60.7M428.4,126.5 431.3,129.3M238.9,64.1 243.1,60.3M233.2,63.7 237.0,60.0M228.1,63.0 231.5,59.5M222.7,62.9 225.8,59.4M217.9,62.4 220.8,58.8M213.1,62.1 215.8,58.6M208.5,61.9 210.8,58.5M204.0,61.7 206.0,58.4M199.7,61.5 201.4,58.2M195.4,61.4 196.9,58.2M191.2,61.2 192.5,58.0M187.1,61.1 188.2,57.8M183.0,60.9 184.0,57.7M179.0,60.9 179.7,57.8M175.1,60.9 175.6,57.7M171.1,60.8 171.5,57.6M167.2,60.7 167.4,57.5"/><path stroke="#002eff" d="M314.8,86.0 318.8,83.6M417.9,88.0 424.2,91.7M291.9,76.4 295.2,73.6M325.6,59.5 326.6,59.5M329.1,59.6 329.9,59.6M363.2,78.3 366.8,80.8M279.4,73.6 282.8,70.6M310.0,58.7 311.2,58.7M315.1,59.0 316.1,59.1M344.4,75.8 347.8,78.7M269.5,72.1 273.2,68.8M299.7,57.8 301.4,57.9M306.4,58.4 308.0,58.8M331.6,73.6 335.1,77.0M261.3,70.8 265.2,67.2M291.9,56.8 293.5,56.9M297.8,57.4 299.1,57.7M324.8,74.6 327.9,77.8M254.2,69.6 257.9,66.1M285.9,55.9 288.0,56.1M293.2,57.1 295.0,57.6M315.6,72.2 318.9,75.8M247.5,68.9 251.1,65.3M328.7,84.2 331.5,86.9M241.4,68.1 244.9,64.5M431.3,129.3 434.3,132.2M235.6,67.6 238.9,64.1M230.2,67.1 233.2,63.7M225.2,66.5 228.1,63.0M220.2,66.2 222.7,62.9M215.6,65.7 217.9,62.4M211.0,65.4 213.1,62.1M206.6,65.2 208.5,61.9M202.3,65.1 204.0,61.7M198.1,64.8 199.7,61.5M194.0,64.6 195.4,61.4M190.0,64.4 191.2,61.2M186.1,64.3 187.1,61.1M182.2,64.2 183.0,60.9M178.4,64.2 179.0,60.9M174.6,64.0 175.1,60.9M170.8,64.0 171.1,60.8M167.1,63.9 167.2,60.7"/><path stroke="#0044ff" d="M310.4,88.4 314.8,86.0M364.6,60.2 364.8,60.2M365.0,60.2 365.2,60.2M424.2,91.7 429.0,95.2M288.9,78.8 291.9,76.4M326.6,59.5 327.0,59.5M328.5,59.5 329.1,59.6M366.8,80.8 371.2,83.8M276.2,76.5 279.4,73.6M311.2,58.7 312.0,58.7M314.3,58.9 315.1,59.0M347.8,78.7 351.3,81.4M266.5,75.0 269.5,72.1M301.4,57.9 302.5,57.9M305.4,58.3 306.4,58.4M335.1,77.0 338.2,79.7M258.5,73.7 261.3,70.8M293.5,56.9 294.4,57.0M297.0,57.3 297.8,57.4M327.9,77.8 331.0,80.6M251.3,72.7 254.2,69.6M288.0,56.1 289.1,56.2M292.4,56.8 293.2,57.1M318.9,75.8 321.9,78.9M244.7,72.1 247.5,68.9M331.5,86.9 334.7,89.9M238.7,71.3 241.4,68.1M434.3,132.2 437.5,135.2M233.0,70.9 235.6,67.6M227.8,70.3 230.2,67.1M222.9,69.7 225.2,66.5M218.1,69.5 220.2,66.2M213.6,68.9 215.6,65.7M209.2,68.6 211.0,65.4M204.9,68.4 206.6,65.2M200.8,68.3 202.3,65.1M196.8,68.0 198.1,64.8M192.9,67.8 194.0,64.6M189.0,67.7 190.0,64.4M185.2,67.5 186.1,64.3M181.5,67.4 182.2,64.2M177.8,67.2 178.4,64.2M174.1,67.2 174.6,64.0M170.5,67.1 170.8,64.0M166.9,67.2 167.1,63.9"/><path stroke="#005aff" d="M305.0,91.7 310.4,88.4M429.0,95.2 433.0,98.4M285.8,80.9 288.9,78.8M327.0,59.5 327.4,59.5M328.3,59.5 328.5,59.5M371.2,83.8 375.5,86.6M273.5,78.8 276.2,76.5M312.0,58.7 312.5,58.7M313.9,58.8 314.3,58.9M351.3,81.4 355.6,84.4M263.7,77.6 266.5,75.0M302.5,57.9 303.1,58.0M305.0,58.2 305.4,58.3M338.2,79.7 342.0,82.7M255.7,76.5 258.5,73.7M294.4,57.0 294.8,57.0M296.5,57.2 297.0,57.3M331.0,80.6 334.6,83.6M248.7,75.6 251.3,72.7M289.1,56.2 289.5,56.3M291.7,56.7 292.4,56.8M321.9,78.9 325.0,81.9M242.2,74.9 244.7,72.1M334.7,89.9 337.7,92.9M236.4,74.2 238.7,71.3M437.5,135.2 440.5,138.2M230.9,73.8 233.0,70.9M225.8,73.3 227.8,70.3M221.0,72.7 222.9,69.7M216.3,72.4 218.1,69.5M211.9,72.0 213.6,68.9M207.6,71.7 209.2,68.6M203.5,71.5 204.9,68.4M199.5,71.2 200.8,68.3M195.6,71.1 196.8,68.0M191.8,70.9 192.9,67.8M188.1,70.7 189.0,67.7M184.5,70.5 185.2,67.5M180.8,70.4 181.5,67.4M177.3,70.3 177.8,67.2M173.8,70.2 174.1,67.2M170.3,70.2 170.5,67.1M166.8,70.2 166.9,67.2"/><path stroke="#006fff" d="M300.6,94.8 305.0,91.7M433.0,98.4 436.3,101.2M282.1,83.5 285.8,80.9M327.4,59.5 327.6,59.5M328.2,59.5 328.3,59.5M375.5,86.6 380.9,89.9M270.6,81.0 273.5,78.8M312.5,58.7 312.7,58.7M313.7,58.8 313.9,58.8M355.6,84.4 359.6,87.2M261.2,79.9 263.7,77.6M303.1,58.0 303.3,58.0M304.6,58.1 305.0,58.2M342.0,82.7 346.0,85.8M253.3,78.9 255.7,76.5M294.8,57.0 295.2,57.1M296.1,57.2 296.5,57.2M334.6,83.6 338.2,86.6M246.3,78.1 248.7,75.6M289.5,56.3 290.0,56.3M291.3,56.6 291.7,56.7M325.0,81.9 328.5,85.1M240.0,77.5 242.2,74.9M337.7,92.9 340.4,95.9M234.3,76.9 236.4,74.2M440.5,138.2 443.3,141.3M228.9,76.5 230.9,73.8M223.9,76.0 225.8,73.3M219.2,75.5 221.0,72.7M214.6,75.3 216.3,72.4M210.4,74.8 211.9,72.0M206.2,74.5 207.6,71.7M202.2,74.3 203.5,71.5M198.3,74.1 199.5,71.2M194.6,73.9 195.6,71.1M190.9,73.7 191.8,70.9M187.3,73.6 188.1,70.7M183.8,73.4 184.5,70.5M180.3,73.3 180.8,70.4M176.8,73.1 177.3,70.3M173.4,73.2 173.8,70.2M170.0,73.0 170.3,70.2M166.7,73.0 166.8,70.2"/><path stroke="#0085ff" d="M296.9,97.7 300.6,94.8M436.3,101.2 439.1,103.3M278.4,85.9 282.1,83.5M328.0,59.5 328.2,59.5M380.9,89.9 386.0,93.5M267.2,83.5 270.6,81.0M312.7,58.7 312.9,58.7M313.5,58.8 313.7,58.8M359.6,87.2 364.8,90.8M258.2,82.2 261.2,79.9M303.3,58.0 303.8,58.0M304.4,58.1 304.6,58.1M346.0,85.8 350.2,88.8M250.7,81.1 253.3,78.9M295.2,57.1 295.4,57.1M295.9,57.1 296.1,57.2M338.2,86.6 342.3,89.8M244.1,80.3 246.3,78.1M290.0,56.3 290.2,56.4M291.1,56.5 291.3,56.6M328.5,85.1 332.0,88.1M237.9,79.8 240.0,77.5M340.4,95.9 342.8,98.9M232.3,79.3 234.3,76.9M443.3,141.3 445.7,144.2M227.0,78.9 228.9,76.5M222.1,78.5 223.9,76.0M217.5,78.0 219.2,75.5M213.1,77.8 214.6,75.3M208.9,77.5 210.4,74.8M204.9,77.1 206.2,74.5M201.0,77.0 202.2,74.3M197.2,76.8 198.3,74.1M193.6,76.6 194.6,73.9M190.0,76.4 190.9,73.7M186.6,76.2 187.3,73.6M183.1,76.0 183.8,73.4M179.7,76.0 180.3,73.3M176.4,75.9 176.8,73.1M173.1,75.8 173.4,73.2M169.8,75.7 170.0,73.0M166.6,75.7 166.7,73.0"/><path stroke="#009bff" d="M293.8,100.4 296.9,97.7M364.8,60.2 365.0,60.2M439.1,103.3 441.8,104.7M274.6,88.2 278.4,85.9M327.6,59.5 327.8,59.5M386.0,93.5 390.0,96.8M263.8,85.9 267.2,83.5M312.9,58.7 313.1,58.8M313.3,58.8 313.5,58.8M364.8,90.8 369.3,94.3M255.0,84.7 258.2,82.2M304.2,58.1 304.4,58.1M350.2,88.8 354.8,92.5M247.9,83.5 250.7,81.1M342.3,89.8 346.3,93.3M241.4,82.7 244.1,80.3M290.2,56.4 290.4,56.4M290.9,56.5 291.1,56.5M332.0,88.1 336.0,91.6M235.5,82.1 237.9,79.8M342.8,98.9 345.2,101.7M230.1,81.6 232.3,79.3M445.7,144.2 448.2,147.0M225.0,81.2 227.0,78.9M220.3,80.8 222.1,78.5M215.9,80.4 217.5,78.0M211.6,80.1 213.1,77.8M207.6,79.8 208.9,77.5M203.6,79.6 204.9,77.1M199.9,79.4 201.0,77.0M196.2,79.2 197.2,76.8M192.7,79.0 193.6,76.6M189.2,78.9 190.0,76.4M185.8,78.8 186.6,76.2M182.5,78.6 183.1,76.0M179.2,78.5 179.7,76.0M176.0,78.4 176.4,75.9M172.8,78.3 173.1,75.8M169.6,78.4 169.8,75.7M166.5,78.3 166.6,75.7"/><path stroke="#00b0ff" d="M291.0,102.6 293.8,100.4M441.8,104.7 445.0,105.9M269.9,91.2 274.6,88.2M327.8,59.5 328.0,59.5M390.0,96.8 393.5,99.9M260.4,88.2 263.8,85.9M369.3,94.3 372.9,97.6M252.1,86.9 255.0,84.7M303.8,58.0 304.0,58.1M354.8,92.5 358.5,95.8M245.0,86.0 247.9,83.5M295.4,57.1 295.7,57.1M346.3,93.3 349.6,96.6M238.7,85.2 241.4,82.7M336.0,91.6 339.4,95.0M233.0,84.6 235.5,82.1M345.2,101.7 347.3,104.0M227.9,84.0 230.1,81.6M448.2,147.0 450.7,149.9M222.9,83.6 225.0,81.2M218.4,83.2 220.3,80.8M214.1,82.9 215.9,80.4M210.0,82.5 211.6,80.1M206.1,82.2 207.6,79.8M202.3,82.0 203.6,79.6M198.7,81.7 199.9,79.4M195.1,81.6 196.2,79.2M191.7,81.4 192.7,79.0M188.3,81.3 189.2,78.9M185.1,81.1 185.8,78.8M181.9,81.0 182.5,78.6M178.7,81.0 179.2,78.5M175.6,80.8 176.0,78.4M172.5,80.9 172.8,78.3M169.4,80.8 169.6,78.4M166.3,80.7 166.5,78.3"/><path stroke="#00c6ff" d="M288.5,104.1 291.0,102.6M445.0,105.9 449.1,107.0M266.0,94.1 269.9,91.2M393.5,99.9 396.5,102.5M256.3,91.0 260.4,88.2M372.9,97.6 376.1,100.6M248.6,89.4 252.1,86.9M358.5,95.8 361.7,99.0M242.2,88.2 245.0,86.0M295.7,57.1 295.9,57.1M349.6,96.6 352.5,99.7M236.1,87.4 238.7,85.2M290.4,56.4 290.9,56.5M339.4,95.0 342.2,98.2M230.6,86.9 233.0,84.6M347.3,104.0 349.9,106.1M225.6,86.4 227.9,84.0M450.7,149.9 453.0,152.7M220.9,86.0 222.9,83.6M216.5,85.6 218.4,83.2M212.3,85.2 214.1,82.9M208.3,85.0 210.0,82.5M204.6,84.7 206.1,82.2M200.9,84.4 202.3,82.0M197.5,84.1 198.7,81.7M194.0,84.1 195.1,81.6M190.7,83.8 191.7,81.4M187.5,83.7 188.3,81.3M184.3,83.5 185.1,81.1M181.2,83.4 181.9,81.0M178.2,83.3 178.7,81.0M175.2,83.3 175.6,80.8M172.2,83.2 172.5,80.9M169.2,83.1 169.4,80.8M166.2,83.1 166.3,80.7"/><path stroke="#00dcff" d="M285.8,105.3 288.5,104.1M449.1,107.0 453.5,107.8M485.1,110.7 495.4,112.2 502.9,113.9 509.7,116.3 515.7,119.2M262.6,96.9 266.0,94.1M396.5,102.5 399.2,104.3M252.8,93.8 256.3,91.0M376.1,100.6 378.8,103.0M245.2,92.1 248.6,89.4M304.0,58.1 304.2,58.1M361.7,99.0 364.7,101.9M238.9,90.9 242.2,88.2M352.5,99.7 355.1,102.4M233.2,90.0 236.1,87.4M342.2,98.2 344.9,101.2M228.0,89.3 230.6,86.9M349.9,106.1 353.3,108.3M223.3,88.6 225.6,86.4M453.0,152.7 455.4,155.2M218.7,88.3 220.9,86.0M214.5,87.9 216.5,85.6M210.5,87.6 212.3,85.2M206.7,87.3 208.3,85.0M203.1,87.0 204.6,84.7M199.6,86.7 200.9,84.4M196.2,86.6 197.5,84.1M192.9,86.4 194.0,84.1M189.8,86.1 190.7,83.8M186.6,86.1 187.5,83.7M183.6,85.9 184.3,83.5M180.6,85.9 181.2,83.4M177.6,85.7 178.2,83.3M174.7,85.6 175.2,83.3M171.9,85.6 172.2,83.2M169.0,85.6 169.2,83.1M166.1,85.6 166.2,83.1"/><path stroke="#0af1ed" d="M282.6,106.4 285.8,105.3M453.5,107.8 459.2,108.4M468.9,109.1 485.1,110.7M515.7,119.2 521.1,122.3M259.6,99.6 262.6,96.9M399.2,104.3 402.4,105.8M249.6,96.6 252.8,93.8M378.8,103.0 381.6,104.8M242.0,94.9 245.2,92.1M364.7,101.9 367.2,104.0M235.9,93.5 238.9,90.9M355.1,102.4 357.8,104.6M230.4,92.6 233.2,90.0M344.9,101.2 347.3,103.7M225.4,91.9 228.0,89.3M353.3,108.3 357.9,111.2M220.9,91.2 223.3,88.6M455.4,155.2 458.2,157.7M216.4,90.9 218.7,88.3M212.4,90.4 214.5,87.9M208.7,90.0 210.5,87.6M205.0,89.7 206.7,87.3M201.5,89.4 203.1,87.0M198.2,89.1 199.6,86.7M194.9,88.9 196.2,86.6M191.8,88.8 192.9,86.4M188.7,88.6 189.8,86.1M185.7,88.4 186.6,86.1M182.8,88.3 183.6,85.9M179.9,88.2 180.6,85.9M177.1,88.1 177.6,85.7M174.3,88.0 174.7,85.6M171.5,88.0 171.9,85.6M168.8,87.9 169.0,85.6M166.0,87.9 166.1,85.6"/><path stroke="#1bffdc" d="M279.0,107.2 282.6,106.4M459.2,108.4 468.9,109.1M521.1,122.3 525.9,125.0M256.9,101.9 259.6,99.6M402.4,105.8 406.8,107.3M246.8,99.2 249.6,96.6M313.1,58.8 313.3,58.8M381.6,104.8 385.3,106.6M239.3,97.6 242.0,94.9M367.2,104.0 370.5,106.0M233.2,96.2 235.9,93.5M357.8,104.6 361.2,106.7M227.8,95.3 230.4,92.6M347.3,103.7 350.2,105.9M223.0,94.5 225.4,91.9M357.9,111.2 362.5,114.4M218.6,93.7 220.9,91.2M458.2,157.7 461.5,160.5M214.4,93.4 216.4,90.9M210.5,92.9 212.4,90.4M206.9,92.5 208.7,90.0M203.4,92.1 205.0,89.7M200.0,91.8 201.5,89.4M196.8,91.6 198.2,89.1M193.7,91.3 194.9,88.9M190.7,91.1 191.8,88.8M187.7,90.9 188.7,88.6M184.8,90.8 185.7,88.4M182.0,90.7 182.8,88.3M179.3,90.6 179.9,88.2M176.5,90.5 177.1,88.1M173.9,90.4 174.3,88.0M171.2,90.4 171.5,88.0M168.6,90.3 168.8,87.9M165.9,90.3 166.0,87.9"/><path stroke="#2dffca" d="M275.5,107.8 279.0,107.2M525.9,125.0 530.8,127.7M254.6,103.6 256.9,101.9M406.8,107.3 422.8,111.1M244.2,101.6 246.8,99.2M385.3,106.6 391.6,108.8M236.7,100.1 239.3,97.6M370.5,106.0 375.4,108.2M230.7,98.8 233.2,96.2M361.2,106.7 367.0,109.6M225.5,97.8 227.8,95.3M350.2,105.9 354.8,108.6M220.8,97.0 223.0,94.5M362.5,114.4 366.8,117.8M216.5,96.3 218.6,93.7M461.5,160.5 465.0,163.2M212.4,95.9 214.4,93.4M208.7,95.4 210.5,92.9M205.2,94.9 206.9,92.5M201.8,94.6 203.4,92.1M198.6,94.3 200.0,91.8M195.5,94.0 196.8,91.6M192.5,93.8 193.7,91.3M189.6,93.6 190.7,91.1M186.8,93.3 187.7,90.9M184.0,93.2 184.8,90.8M181.3,93.1 182.0,90.7M178.7,92.9 179.3,90.6M176.0,92.9 176.5,90.5M173.5,92.8 173.9,90.4M170.9,92.8 171.2,90.4M168.4,92.7 168.6,90.3M165.8,92.6 165.9,90.3"/><path stroke="#3effb9" d="M271.9,108.2 275.5,107.8M530.8,127.7 536.2,130.4M252.1,105.0 254.6,103.6M422.8,111.1 434.2,114.6 443.3,119.1M241.9,103.5 244.2,101.6M391.6,108.8 402.6,112.5 409.3,115.3M234.5,102.3 236.7,100.1M375.4,108.2 386.5,112.8M228.5,101.2 230.7,98.8M367.0,109.6 375.5,113.9M223.4,100.3 225.5,97.8M354.8,108.6 361.8,112.6M218.8,99.5 220.8,97.0M366.8,117.8 370.1,120.8M214.6,98.8 216.5,96.3M465.0,163.2 467.8,165.4M210.6,98.4 212.4,95.9M207.1,97.8 208.7,95.4M203.6,97.4 205.2,94.9M200.4,97.1 201.8,94.6M197.3,96.6 198.6,94.3M194.3,96.4 195.5,94.0M191.4,96.2 192.5,93.8M188.6,96.0 189.6,93.6M185.9,95.8 186.8,93.3M183.2,95.6 184.0,93.2M180.6,95.4 181.3,93.1M178.1,95.3 178.7,92.9M175.5,95.3 176.0,92.9M173.1,95.2 173.5,92.8M170.6,95.1 170.9,92.8M168.2,95.0 168.4,92.7M165.7,95.0 165.8,92.6"/><path stroke="#50ffa7" d="M267.7,108.6 271.9,108.2M536.2,130.4 542.2,133.3M249.0,106.3 252.1,105.0M443.3,119.1 448.3,122.2M239.5,105.0 241.9,103.5M409.3,115.3 416.7,119.7M232.3,104.1 234.5,102.3M386.5,112.8 395.8,118.0M226.5,103.2 228.5,101.2M375.5,113.9 382.2,118.3M221.3,102.5 223.4,100.3M361.8,112.6 368.3,116.9M216.8,101.9 218.8,99.5M370.1,120.8 373.0,123.6M212.7,101.2 214.6,98.8M208.9,100.7 210.6,98.4M205.5,100.2 207.1,97.8M202.1,99.9 203.6,97.4M199.0,99.4 200.4,97.1M196.0,99.2 197.3,96.6M193.1,98.9 194.3,96.4M190.3,98.6 191.4,96.2M187.6,98.4 188.6,96.0M185.0,98.2 185.9,95.8M182.5,98.0 183.2,95.6M180.0,97.8 180.6,95.4M177.5,97.7 178.1,95.3M175.1,97.6 175.5,95.3M172.7,97.5 173.1,95.2M170.3,97.4 170.6,95.1M168.0,97.4 168.2,95.0M165.6,97.4 165.7,95.0"/><path stroke="#61ff96" d="M261.4,109.1 267.7,108.6M542.2,133.3 548.8,136.6M245.7,107.3 249.0,106.3M448.3,122.2 452.9,125.1M236.7,106.3 239.5,105.0M416.7,119.7 421.3,122.8M229.9,105.5 232.3,104.1M395.8,118.0 400.4,121.4M224.2,104.9 226.5,103.2M382.2,118.3 386.3,121.6M219.3,104.3 221.3,102.5M368.3,116.9 372.5,120.5M214.9,103.8 216.8,101.9M373.0,123.6 375.9,126.3M211.0,103.3 212.7,101.2M207.3,102.9 208.9,100.7M203.9,102.5 205.5,100.2M200.6,102.2 202.1,99.9M197.6,101.8 199.0,99.4M194.7,101.5 196.0,99.2M192.0,101.2 193.1,98.9M189.3,101.0 190.3,98.6M186.7,100.8 187.6,98.4M184.2,100.5 185.0,98.2M181.7,100.4 182.5,98.0M179.3,100.2 180.0,97.8M177.0,100.1 177.5,97.7M174.6,99.9 175.1,97.6M172.3,99.9 172.7,97.5M170.1,99.8 170.3,97.4M167.8,99.8 168.0,97.4M165.5,99.8 165.6,97.4"/><path stroke="#73ff84" d="M254.1,109.6 261.4,109.1M548.8,136.6 555.3,140.6M242.1,108.3 245.7,107.3M452.9,125.1 457.4,127.8M233.5,107.6 236.7,106.3M421.3,122.8 425.5,125.7M226.9,107.0 229.9,105.5M400.4,121.4 404.4,124.4M221.7,106.4 224.2,104.9M386.3,121.6 390.0,124.5M217.1,106.0 219.3,104.3M372.5,120.5 376.1,123.5M212.9,105.5 214.9,103.8M375.9,126.3 379.0,129.0M209.0,105.2 211.0,103.3M205.5,104.9 207.3,102.9M202.3,104.5 203.9,102.5M199.2,104.2 200.6,102.2M196.2,103.9 197.6,101.8M193.5,103.7 194.7,101.5M190.8,103.5 192.0,101.2M188.2,103.2 189.3,101.0M185.7,103.1 186.7,100.8M183.3,102.9 184.2,100.5M181.0,102.7 181.7,100.4M178.7,102.5 179.3,100.2M176.4,102.4 177.0,100.1M174.2,102.4 174.6,99.9M172.0,102.2 172.3,99.9M169.8,102.1 170.1,99.8M167.6,102.1 167.8,99.8M165.5,102.1 165.5,99.8"/><path stroke="#84ff73" d="M263.7,113.7 272.1,115.8 279.7,118.9M246.5,110.4 254.1,109.6M555.3,140.6 559.3,143.6M236.9,109.4 242.1,108.3M457.4,127.8 462.5,130.6M229.6,108.9 233.5,107.6M425.5,125.7 429.9,128.5M223.7,108.4 226.9,107.0M404.4,124.4 408.4,127.2M218.7,108.0 221.7,106.4M390.0,124.5 393.7,127.4M214.4,107.6 217.1,106.0M376.1,123.5 379.4,126.4M210.4,107.3 212.9,105.5M379.0,129.0 382.1,131.8M206.8,107.0 209.0,105.2M203.4,106.7 205.5,104.9M200.4,106.4 202.3,104.5M197.4,106.2 199.2,104.2M194.8,105.9 196.2,103.9M192.1,105.7 193.5,103.7M189.5,105.6 190.8,103.5M187.1,105.3 188.2,103.2M184.7,105.2 185.7,103.1M182.4,105.0 183.3,102.9M180.2,104.8 181.0,102.7M178.0,104.7 178.7,102.5M175.8,104.7 176.4,102.4M173.7,104.6 174.2,102.4M171.6,104.5 172.0,102.2M169.5,104.4 169.8,102.1M167.4,104.4 167.6,102.1M165.4,104.3 165.5,102.1"/><path stroke="#96ff61" d="M254.6,112.8 263.7,113.7M279.7,118.9 285.9,122.1M239.0,111.4 246.5,110.4M559.3,143.6 563.1,146.3M230.8,110.9 236.9,109.4M462.5,130.6 468.2,133.7M224.6,110.5 229.6,108.9M429.9,128.5 434.7,131.4M219.4,110.1 223.7,108.4M408.4,127.2 412.8,130.2M215.2,109.7 218.7,108.0M393.7,127.4 397.6,130.3M211.2,109.4 214.4,107.6M379.4,126.4 383.1,129.4M207.6,109.1 210.4,107.3M382.1,131.8 385.3,134.6M204.4,108.7 206.8,107.0M201.1,108.6 203.4,106.7M198.3,108.3 200.4,106.4M195.7,108.0 197.4,106.2M193.0,107.9 194.8,105.9M190.5,107.7 192.1,105.7M188.1,107.6 189.5,105.6M185.8,107.4 187.1,105.3M183.5,107.3 184.7,105.2M181.4,107.0 182.4,105.0M179.3,107.0 180.2,104.8M177.2,106.9 178.0,104.7M175.1,106.8 175.8,104.7M173.1,106.7 173.7,104.6M171.1,106.6 171.6,104.5M169.1,106.6 169.5,104.4M167.2,106.6 167.4,104.4M165.2,106.5 165.4,104.3"/><path stroke="#a7ff50" d="M244.9,112.7 254.6,112.8M285.9,122.1 291.2,124.9M231.8,112.7 239.0,111.4M563.1,146.3 567.4,149.4M225.0,112.4 230.8,110.9M468.2,133.7 474.2,137.1M219.7,112.2 224.6,110.5M434.7,131.4 439.9,134.6M215.1,111.9 219.4,110.1M412.8,130.2 417.4,133.2M211.4,111.5 215.2,109.7M397.6,130.3 401.8,133.4M207.8,111.3 211.2,109.4M383.1,129.4 387.0,132.5M204.6,111.0 207.6,109.1M385.3,134.6 388.7,137.6M201.6,110.7 204.4,108.7M198.8,110.5 201.1,108.6M196.1,110.3 198.3,108.3M193.5,110.1 195.7,108.0M191.1,109.9 193.0,107.9M188.8,109.7 190.5,107.7M186.6,109.6 188.1,107.6M184.5,109.3 185.8,107.4M182.3,109.3 183.5,107.3M180.3,109.2 181.4,107.0M178.3,109.1 179.3,107.0M176.4,109.0 177.2,106.9M174.5,108.8 175.1,106.8M172.6,108.8 173.1,106.7M170.7,108.8 171.1,106.6M168.8,108.7 169.1,106.6M167.0,108.7 167.2,106.6M165.1,108.7 165.2,106.5"/><path stroke="#b9ff3e" d="M227.7,115.6 235.9,113.7 244.9,112.7M291.2,124.9 296.3,127.3M222.6,115.2 231.8,112.7M567.4,149.4 571.1,152.1M218.4,114.7 225.0,112.4M474.2,137.1 479.7,140.9M214.5,114.2 219.7,112.2M439.9,134.6 445.2,138.0M210.7,113.9 215.1,111.9M417.4,133.2 422.1,136.4M207.6,113.5 211.4,111.5M401.8,133.4 406.2,136.7M204.4,113.3 207.8,111.3M387.0,132.5 390.9,135.7M201.6,113.0 204.6,111.0M388.7,137.6 391.8,140.8M198.9,112.7 201.6,110.7M196.3,112.5 198.8,110.5M193.9,112.3 196.1,110.3M191.6,112.1 193.5,110.1M189.3,112.0 191.1,109.9M187.2,111.7 188.8,109.7M185.1,111.7 186.6,109.6M183.1,111.5 184.5,109.3M181.2,111.3 182.3,109.3M179.2,111.3 180.3,109.2M177.4,111.2 178.3,109.1M175.6,111.0 176.4,109.0M173.7,111.0 174.5,108.8M172.0,111.0 172.6,108.8M170.2,110.8 170.7,108.8M168.5,110.7 168.8,108.7M166.7,110.7 167.0,108.7M165.0,110.8 165.1,108.7"/><path stroke="#caff2d" d="M219.9,118.7 227.7,115.6M296.3,127.3 302.1,130.0M216.1,117.9 222.6,115.2M571.1,152.1 574.1,154.0M212.9,117.2 218.4,114.7M479.7,140.9 483.5,143.9M209.6,116.7 214.5,114.2M445.2,138.0 449.9,141.6M206.5,116.2 210.7,113.9M422.1,136.4 426.9,140.2M203.9,115.7 207.6,113.5M406.2,136.7 410.5,140.3M201.2,115.4 204.4,113.3M390.9,135.7 394.9,139.2M198.5,115.2 201.6,113.0M391.8,140.8 394.3,143.6M196.2,114.8 198.9,112.7M193.9,114.6 196.3,112.5M191.7,114.4 193.9,112.3M189.6,114.1 191.6,112.1M187.5,114.0 189.3,112.0M185.6,113.8 187.2,111.7M183.6,113.7 185.1,111.7M181.8,113.5 183.1,111.5M179.9,113.5 181.2,111.3M178.2,113.3 179.2,111.3M176.5,113.1 177.4,111.2M174.8,113.1 175.6,111.0M173.1,113.0 173.7,111.0M171.4,113.0 172.0,111.0M169.8,112.8 170.2,110.8M168.2,112.8 168.5,110.7M166.5,112.8 166.7,110.7M164.9,112.9 165.0,110.8"/><path stroke="#dcff1b" d="M215.7,120.9 219.9,118.7M302.1,130.0 308.4,132.6M211.9,120.2 216.1,117.9M574.1,154.0 578.1,156.0M208.8,119.5 212.9,117.2M483.5,143.9 487.1,146.7M205.7,119.0 209.6,116.7M449.9,141.6 453.3,144.5M203.0,118.6 206.5,116.2M426.9,140.2 430.4,143.3M200.5,118.1 203.9,115.7M410.5,140.3 413.7,143.3M198.2,117.6 201.2,115.4M394.9,139.2 398.1,142.4M195.9,117.3 198.5,115.2M394.3,143.6 396.8,146.3M193.8,116.9 196.2,114.8M191.7,116.7 193.9,114.6M189.7,116.4 191.7,114.4M187.7,116.3 189.6,114.1M185.8,116.1 187.5,114.0M184.0,115.8 185.6,113.8M182.2,115.8 183.6,113.7M180.5,115.6 181.8,113.5M178.9,115.4 179.9,113.5M177.2,115.3 178.2,113.3M175.6,115.2 176.5,113.1M174.0,115.1 174.8,113.1M172.4,115.1 173.1,113.0M170.9,114.9 171.4,113.0M169.3,115.0 169.8,112.8M167.8,114.9 168.2,112.8M166.3,114.8 166.5,112.8M164.8,114.9 164.9,112.9"/><path stroke="#edff0a" d="M211.8,122.9 215.7,120.9M308.4,132.6 315.6,135.8M208.4,122.3 211.9,120.2M578.1,156.0 583.1,158.1M205.5,121.6 208.8,119.5M487.1,146.7 491.2,149.7M202.7,121.1 205.7,119.0M453.3,144.5 456.8,147.4M200.2,120.6 203.0,118.6M430.4,143.3 433.5,146.1M197.9,120.1 200.5,118.1M413.7,143.3 416.7,146.2M195.7,119.7 198.2,117.6M398.1,142.4 401.0,145.3M193.5,119.5 195.9,117.3M396.8,146.3 399.5,149.1M191.5,119.1 193.8,116.9M189.6,118.9 191.7,116.7M187.8,118.6 189.7,116.4M186.0,118.4 187.7,116.3M184.3,118.1 185.8,116.1M182.6,117.9 184.0,115.8M180.9,117.8 182.2,115.8M179.3,117.6 180.5,115.6M177.8,117.5 178.9,115.4M176.3,117.3 177.2,115.3M174.7,117.3 175.6,115.2M173.3,117.2 174.0,115.1M171.8,117.0 172.4,115.1M170.4,117.1 170.9,114.9M168.9,117.0 169.3,115.0M167.5,117.0 167.8,114.9M166.1,116.8 166.3,114.8M164.7,116.9 164.8,114.9"/><path stroke="#ffed00" d="M208.4,124.7 211.8,122.9M315.6,135.8 323.4,140.0M205.1,124.2 208.4,122.3M583.1,158.1 589.4,160.2M202.3,123.6 205.5,121.6M491.2,149.7 494.6,152.5M199.8,123.1 202.7,121.1M456.8,147.4 460.6,150.5M197.5,122.6 200.2,120.6M433.5,146.1 437.1,149.2M195.4,122.1 197.9,120.1M416.7,146.2 419.9,149.2M193.3,121.8 195.7,119.7M401.0,145.3 403.9,148.3M191.3,121.5 193.5,119.5M399.5,149.1 402.1,152.0M189.6,121.1 191.5,119.1M187.7,120.9 189.6,118.9M186.1,120.6 187.8,118.6M184.4,120.4 186.0,118.4M182.8,120.2 184.3,118.1M181.3,119.9 182.6,117.9M179.7,119.9 180.9,117.8M178.3,119.6 179.3,117.6M176.8,119.5 177.8,117.5M175.4,119.4 176.3,117.3M174.0,119.3 174.7,117.3M172.6,119.2 173.3,117.2M171.3,119.1 171.8,117.0M169.9,119.1 170.4,117.1M168.6,119.0 168.9,117.0M167.2,118.9 167.5,117.0M165.9,118.9 166.1,116.8M164.6,118.9 164.7,116.9"/><path stroke="#ffd800" d="M205.0,126.4 208.4,124.7M323.4,140.0 327.9,143.1M202.0,125.9 205.1,124.2M589.4,160.2 596.8,162.4M199.5,125.4 202.3,123.6M494.6,152.5 497.7,154.5M197.2,124.9 199.8,123.1M460.6,150.5 463.6,153.0M195.0,124.5 197.5,122.6M437.1,149.2 440.3,152.1M193.0,124.1 195.4,122.1M419.9,149.2 422.9,152.1M191.2,123.7 193.3,121.8M403.9,148.3 406.9,151.4M189.3,123.4 191.3,121.5M402.1,152.0 404.3,154.3M187.7,123.1 189.6,121.1M186.0,122.8 187.7,120.9M184.4,122.5 186.1,120.6M182.9,122.3 184.4,120.4M181.4,122.2 182.8,120.2M180.0,122.0 181.3,119.9M178.6,121.8 179.7,119.9M177.2,121.7 178.3,119.6M175.8,121.5 176.8,119.5M174.5,121.4 175.4,119.4M173.2,121.3 174.0,119.3M172.0,121.1 172.6,119.2M170.7,121.2 171.3,119.1M169.4,121.1 169.9,119.1M168.2,121.0 168.6,119.0M167.0,120.9 167.2,118.9M165.7,120.9 165.9,118.9M164.5,120.9 164.6,118.9"/><path stroke="#ffc400" d="M201.6,128.0 205.0,126.4M327.9,143.1 331.9,145.8M199.0,127.5 202.0,125.9M596.8,162.4 605.8,164.6M196.7,127.0 199.5,125.4M497.7,154.5 501.8,156.7M194.5,126.6 197.2,124.9M463.6,153.0 467.0,155.3M192.5,126.3 195.0,124.5M440.3,152.1 443.2,154.3M190.8,125.9 193.0,124.1M422.9,152.1 425.7,154.5M189.0,125.5 191.2,123.7M406.9,151.4 409.5,153.9M187.3,125.3 189.3,123.4M404.3,154.3 407.1,156.7M185.8,124.9 187.7,123.1M184.3,124.7 186.0,122.8M182.8,124.5 184.4,122.5M181.5,124.2 182.9,122.3M180.0,124.1 181.4,122.2M178.8,123.8 180.0,122.0M177.5,123.7 178.6,121.8M176.1,123.7 177.2,121.7M174.9,123.5 175.8,121.5M173.7,123.3 174.5,121.4M172.5,123.2 173.2,121.3M171.4,123.1 172.0,121.1M170.1,123.1 170.7,121.2M169.0,123.0 169.4,121.1M167.8,123.0 168.2,121.0M166.7,122.9 167.0,120.9M165.6,122.9 165.7,120.9M164.4,122.9 164.5,120.9"/><path stroke="#ffb000" d="M198.2,129.5 201.6,128.0M331.9,145.8 336.3,148.6M195.9,129.1 199.0,127.5M605.8,164.6 609.2,165.4M193.8,128.6 196.7,127.0M501.8,156.7 506.9,159.0M191.9,128.3 194.5,126.6M467.0,155.3 471.1,157.6M190.1,127.9 192.5,126.3M443.2,154.3 446.9,156.8M188.6,127.5 190.8,125.9M425.7,154.5 429.3,157.0M186.9,127.3 189.0,125.5M409.5,153.9 412.7,156.5M185.4,127.0 187.3,125.3M407.1,156.7 410.4,159.2M184.1,126.7 185.8,124.9M182.6,126.6 184.3,124.7M181.3,126.3 182.8,124.5M180.1,126.0 181.5,124.2M178.8,125.9 180.0,124.1M177.6,125.7 178.8,123.8M176.3,125.7 177.5,123.7M175.2,125.5 176.1,123.7M174.0,125.4 174.9,123.5M172.9,125.2 173.7,123.3M171.8,125.1 172.5,123.2M170.7,125.0 171.4,123.1M169.6,124.9 170.1,123.1M168.6,124.9 169.0,123.0M167.5,124.9 167.8,123.0M166.4,124.9 166.7,122.9M165.4,124.8 165.6,122.9M164.3,124.7 164.4,122.9"/><path stroke="#ff9c00" d="M195.0,130.9 198.2,129.5M336.3,148.6 340.7,151.7M192.9,130.5 195.9,129.1M191.0,130.2 193.8,128.6M506.9,159.0 513.3,161.4M189.3,129.8 191.9,128.3M471.1,157.6 476.4,160.1M187.8,129.5 190.1,127.9M446.9,156.8 451.5,159.4M186.4,129.2 188.6,127.5M429.3,157.0 433.5,159.7M184.9,128.9 186.9,127.3M412.7,156.5 416.6,159.2M183.5,128.7 185.4,127.0M410.4,159.2 413.9,161.8M182.2,128.5 184.1,126.7M180.9,128.3 182.6,126.6M179.8,128.1 181.3,126.3M178.6,127.9 180.1,126.0M177.4,127.7 178.8,125.9M176.4,127.5 177.6,125.7M175.3,127.4 176.3,125.7M174.2,127.2 175.2,125.5M173.2,127.2 174.0,125.4M172.1,127.1 172.9,125.2M171.1,127.0 171.8,125.1M170.1,126.9 170.7,125.0M169.1,126.8 169.6,124.9M168.1,126.8 168.6,124.9M167.2,126.7 167.5,124.9M166.2,126.6 166.4,124.9M165.2,126.7 165.4,124.8M164.3,126.6 164.3,124.7"/><path stroke="#ff8800" d="M191.9,132.2 195.0,130.9M340.7,151.7 343.6,153.5M190.0,131.9 192.9,130.5M188.4,131.6 191.0,130.2M513.3,161.4 521.0,164.1M186.9,131.3 189.3,129.8M476.4,160.1 482.7,162.8M185.4,131.1 187.8,129.5M451.5,159.4 457.0,162.2M184.2,130.7 186.4,129.2M433.5,159.7 438.3,162.5M182.9,130.5 184.9,128.9M416.6,159.2 420.9,162.0M181.7,130.3 183.5,128.7M413.9,161.8 417.6,164.4M180.6,130.0 182.2,128.5M179.4,129.9 180.9,128.3M178.3,129.7 179.8,128.1M177.2,129.6 178.6,127.9M176.2,129.4 177.4,127.7M175.2,129.2 176.4,127.5M174.2,129.1 175.3,127.4M173.3,129.0 174.2,127.2M172.3,128.9 173.2,127.2M171.4,128.8 172.1,127.1M170.5,128.7 171.1,127.0M169.5,128.6 170.1,126.9M168.6,128.5 169.1,126.8M167.7,128.5 168.1,126.8M166.8,128.5 167.2,126.7M165.9,128.4 166.2,126.6M165.1,128.3 165.2,126.7M164.2,128.4 164.3,126.6"/><path stroke="#ff7400" d="M188.7,133.6 191.9,132.2M343.6,153.5 347.2,155.3M187.2,133.3 190.0,131.9M185.8,133.0 188.4,131.6M521.0,164.1 525.2,165.4M184.4,132.8 186.9,131.3M482.7,162.8 489.2,165.5M183.2,132.6 185.4,131.1M457.0,162.2 463.1,165.1M182.1,132.3 184.2,130.7M438.3,162.5 443.8,165.4M180.9,132.1 182.9,130.5M420.9,162.0 425.8,165.1M179.9,131.8 181.7,130.3M417.6,164.4 419.1,165.4M178.9,131.6 180.6,130.0M177.8,131.5 179.4,129.9M176.9,131.3 178.3,129.7M175.9,131.2 177.2,129.6M175.0,131.1 176.2,129.4M174.1,130.9 175.2,129.2M173.2,130.8 174.2,129.1M172.3,130.6 173.3,129.0M171.5,130.6 172.3,128.9M170.6,130.5 171.4,128.8M169.8,130.4 170.5,128.7M169.0,130.3 169.5,128.6M168.1,130.3 168.6,128.5M167.3,130.3 167.7,128.5M166.5,130.2 166.8,128.5M165.7,130.2 165.9,128.4M164.9,130.2 165.1,128.3M164.1,130.1 164.2,128.4"/><path stroke="#ff6000" d="M185.9,134.8 188.7,133.6M347.2,155.3 351.6,156.9M184.5,134.6 187.2,133.3M183.3,134.4 185.8,133.0M182.1,134.2 184.4,132.8M181.1,133.9 183.2,132.6M463.1,165.1 463.7,165.4M180.2,133.7 182.1,132.3M179.1,133.5 180.9,132.1M425.8,165.1 426.4,165.4M178.2,133.3 179.9,131.8M177.3,133.2 178.9,131.6M176.3,133.1 177.8,131.5M175.5,132.9 176.9,131.3M174.7,132.7 175.9,131.2M173.8,132.6 175.0,131.1M173.0,132.5 174.1,130.9M172.3,132.3 173.2,130.8M171.4,132.3 172.3,130.6M170.7,132.2 171.5,130.6M169.9,132.1 170.6,130.5M169.2,132.0 169.8,130.4M168.4,132.0 169.0,130.3M167.7,131.9 168.1,130.3M166.9,131.8 167.3,130.3M166.2,131.8 166.5,130.2M165.5,131.7 165.7,130.2M164.7,131.8 164.9,130.2M164.0,131.8 164.1,130.1"/><path stroke="#ff4c00" d="M183.2,136.0 185.9,134.8M351.6,156.9 356.3,158.5M182.1,135.8 184.5,134.6M181.0,135.7 183.3,134.4M180.0,135.5 182.1,134.2M179.0,135.3 181.1,133.9M178.2,135.1 180.2,133.7M177.3,135.0 179.1,133.5M176.6,134.7 178.2,133.3M175.7,134.6 177.3,133.2M175.0,134.5 176.3,133.1M174.2,134.3 175.5,132.9M173.4,134.2 174.7,132.7M172.7,134.1 173.8,132.6M172.0,134.0 173.0,132.5M171.3,134.0 172.3,132.3M170.6,133.8 171.4,132.3M169.9,133.7 170.7,132.2M169.2,133.7 169.9,132.1M168.5,133.6 169.2,132.0M167.9,133.6 168.4,132.0M167.2,133.4 167.7,131.9M166.6,133.5 166.9,131.8M165.9,133.4 166.2,131.8M165.2,133.4 165.5,131.7M164.6,133.4 164.7,131.8M163.9,133.3 164.0,131.8"/><path stroke="#ff3800" d="M180.7,137.3 183.2,136.0M356.3,158.5 361.3,159.8M179.6,137.2 182.1,135.8M178.8,136.9 181.0,135.7M178.1,136.7 180.0,135.5M177.3,136.6 179.0,135.3M176.5,136.4 178.2,135.1M175.7,136.3 177.3,135.0M175.0,136.2 176.6,134.7M174.3,136.0 175.7,134.6M173.6,135.9 175.0,134.5M172.9,135.8 174.2,134.3M172.3,135.6 173.4,134.2M171.6,135.6 172.7,134.1M171.0,135.4 172.0,134.0M170.4,135.3 171.3,134.0M169.8,135.2 170.6,133.8M169.2,135.1 169.9,133.7M168.6,135.1 169.2,133.7M168.0,135.1 168.5,133.6M167.4,135.1 167.9,133.6M166.8,134.9 167.2,133.4M166.2,135.0 166.6,133.5M165.6,134.9 165.9,133.4M165.0,134.8 165.2,133.4M164.5,134.9 164.6,133.4M163.9,134.9 163.9,133.3"/><path stroke="#ff2400" d="M178.2,138.6 180.7,137.3M361.3,159.8 366.0,160.9M177.5,138.4 179.6,137.2M176.8,138.2 178.8,136.9M176.1,138.1 178.1,136.7M175.5,137.9 177.3,136.6M174.8,137.7 176.5,136.4M174.2,137.6 175.7,136.3M173.6,137.5 175.0,136.2M173.0,137.4 174.3,136.0M172.4,137.2 173.6,135.9M171.8,137.1 172.9,135.8M171.3,137.0 172.3,135.6M170.7,136.9 171.6,135.6M170.1,136.9 171.0,135.4M169.5,136.8 170.4,135.3M169.1,136.6 169.8,135.2M168.5,136.5 169.2,135.1M168.0,136.5 168.6,135.1M167.4,136.5 168.0,135.1M166.9,136.4 167.4,135.1M166.4,136.4 166.8,134.9M165.9,136.3 166.2,135.0M165.4,136.2 165.6,134.9M164.8,136.3 165.0,134.8M164.3,136.3 164.5,134.9M163.8,136.2 163.9,134.9"/><path stroke="#fb0f00" d="M175.9,140.0 178.2,138.6M366.0,160.9 369.9,161.7M392.6,165.0 396.9,165.4M175.4,139.7 177.5,138.4M174.9,139.5 176.8,138.2M174.3,139.4 176.1,138.1M173.8,139.1 175.5,137.9M173.3,139.0 174.8,137.7M172.8,138.8 174.2,137.6M172.2,138.8 173.6,137.5M171.8,138.6 173.0,137.4M171.3,138.5 172.4,137.2M170.7,138.4 171.8,137.1M170.2,138.3 171.3,137.0M169.7,138.2 170.7,136.9M169.3,138.2 170.1,136.9M168.8,138.0 169.5,136.8M168.3,137.9 169.1,136.6M167.9,137.9 168.5,136.5M167.4,137.8 168.0,136.5M166.9,137.8 167.4,136.5M166.5,137.7 166.9,136.4M166.0,137.7 166.4,136.4M165.6,137.6 165.9,136.3M165.1,137.6 165.4,136.2M164.7,137.7 164.8,136.3M164.2,137.6 164.3,136.3M163.8,137.6 163.8,136.2"/><path stroke="#e20000" d="M174.2,141.1 175.9,140.0M369.9,161.7 372.7,162.2M386.7,164.3 392.6,165.0M173.6,141.0 175.4,139.7M173.2,140.8 174.9,139.5M172.8,140.6 174.3,139.4M172.3,140.5 173.8,139.1M171.8,140.3 173.3,139.0M171.4,140.2 172.8,138.8M171.0,140.0 172.2,138.8M170.6,139.9 171.8,138.6M170.1,139.8 171.3,138.5M169.8,139.6 170.7,138.4M169.3,139.5 170.2,138.3M168.9,139.5 169.7,138.2M168.5,139.3 169.3,138.2M168.1,139.3 168.8,138.0M167.7,139.3 168.3,137.9M167.3,139.1 167.9,137.9M166.9,139.2 167.4,137.8M166.5,139.1 166.9,137.8M166.1,139.0 166.5,137.7M165.7,139.0 166.0,137.7M165.3,138.9 165.6,137.6M164.9,138.9 165.1,137.6M164.5,138.8 164.7,137.7M164.1,138.9 164.2,137.6M163.7,138.9 163.8,137.6"/><path stroke="#c90000" d="M172.6,142.2 174.2,141.1M372.7,162.2 374.9,162.6M383.4,163.9 386.7,164.3M172.2,142.0 173.6,141.0M171.8,141.8 173.2,140.8M171.5,141.7 172.8,140.6M171.1,141.6 172.3,140.5M170.7,141.4 171.8,140.3M170.3,141.3 171.4,140.2M169.9,141.2 171.0,140.0M169.6,141.0 170.6,139.9M169.2,140.9 170.1,139.8M168.8,140.9 169.8,139.6M168.5,140.7 169.3,139.5M168.1,140.7 168.9,139.5M167.8,140.6 168.5,139.3M167.4,140.5 168.1,139.3M167.1,140.4 167.7,139.3M166.8,140.3 167.3,139.1M166.4,140.3 166.9,139.2M166.1,140.3 166.5,139.1M165.7,140.2 166.1,139.0M165.4,140.2 165.7,139.0M165.0,140.2 165.3,138.9M164.7,140.1 164.9,138.9M164.3,140.1 164.5,138.8M164.0,140.1 164.1,138.9M163.6,140.1 163.7,138.9"/><path stroke="#b10000" d="M171.1,143.2 172.6,142.2M374.9,162.6 376.3,162.8M381.4,163.6 383.4,163.9M170.8,143.1 172.2,142.0M170.6,142.8 171.8,141.8M170.2,142.7 171.5,141.7M169.9,142.6 171.1,141.6M169.6,142.4 170.7,141.4M169.3,142.3 170.3,141.3M169.0,142.2 169.9,141.2M168.7,142.1 169.6,141.0M168.4,142.0 169.2,140.9M168.1,141.9 168.8,140.9M167.8,141.8 168.5,140.7M167.5,141.8 168.1,140.7M167.2,141.7 167.8,140.6M166.9,141.6 167.4,140.5M166.6,141.6 167.1,140.4M166.3,141.5 166.8,140.3M166.0,141.4 166.4,140.3M165.7,141.4 166.1,140.3M165.4,141.4 165.7,140.2M165.1,141.3 165.4,140.2M164.8,141.3 165.0,140.2M164.5,141.2 164.7,140.1M164.2,141.2 164.3,140.1M163.9,141.2 164.0,140.1M163.6,141.2 163.6,140.1M202.6,163.1 217.0,165.4"/><path stroke="#980000" d="M169.9,144.1 171.1,143.2M376.3,162.8 377.2,163.0M380.3,163.4 381.4,163.6M169.6,143.9 170.8,143.1M169.4,143.8 170.6,142.8M169.2,143.6 170.2,142.7M168.9,143.5 169.9,142.6M168.7,143.4 169.6,142.4M168.4,143.3 169.3,142.3M168.2,143.1 169.0,142.2M167.9,143.1 168.7,142.1M167.6,143.0 168.4,142.0M167.4,142.9 168.1,141.9M167.1,142.9 167.8,141.8M166.9,142.7 167.5,141.8M166.6,142.6 167.2,141.7M166.4,142.6 166.9,141.6M166.1,142.6 166.6,141.6M165.8,142.5 166.3,141.5M165.6,142.4 166.0,141.4M165.3,142.4 165.7,141.4M165.1,142.3 165.4,141.4M164.8,142.4 165.1,141.3M164.6,142.4 164.8,141.3M164.3,142.3 164.5,141.2M164.1,142.3 164.2,141.2M163.8,142.3 163.9,141.2M163.6,142.3 163.6,141.2M189.3,160.2 202.6,163.1M194.2,162.8 204.2,165.4"/><path stroke="#800000" d="M163.3,148.4 169.9,144.1M377.2,163.0 380.3,163.4M163.3,148.4 169.6,143.9M163.3,148.4 169.4,143.8M163.3,148.4 169.2,143.6M163.3,148.4 168.9,143.5M163.3,148.4 168.7,143.4M163.3,148.4 168.4,143.3M163.3,148.4 168.2,143.1M163.3,148.4 167.9,143.1M163.3,148.4 167.6,143.0M163.3,148.4 167.4,142.9M163.3,148.4 167.1,142.9M163.3,148.4 166.9,142.7M163.3,148.4 166.6,142.6M163.3,148.4 166.4,142.6M163.3,148.4 166.1,142.6M163.3,148.4 165.8,142.5M163.3,148.4 165.6,142.4M163.3,148.4 165.3,142.4M163.3,148.4 165.1,142.3M163.3,148.4 164.8,142.4M163.3,148.4 164.6,142.4M163.3,148.4 164.3,142.3M163.3,148.4 164.1,142.3M163.3,148.4 163.8,142.3M163.3,148.4 163.6,142.3M163.3,148.4 169.5,152.8 174.0,155.1 180.9,157.8 189.3,160.2M163.3,148.4 169.5,153.0 175.0,156.0 183.3,159.4 194.2,162.8M163.3,148.4 169.3,153.2 175.5,156.7 185.1,160.9 197.7,165.4M163.3,148.4 168.8,153.1 174.0,156.5 182.2,160.6 193.4,165.4M163.3,148.4 168.4,153.1 172.9,156.3 180.2,160.5 190.0,165.4M163.3,148.4 167.9,153.0 172.0,156.1 187.4,165.4M163.3,148.4 167.7,153.0 171.2,156.0 185.1,165.4M163.3,148.4 170.5,155.9 183.2,165.5M163.3,148.4 169.9,155.9 181.4,165.5M163.3,148.4 169.4,155.8 179.9,165.5M163.3,148.4 168.8,155.7 178.5,165.5M163.3,148.4 168.3,155.6 177.1,165.4M163.3,148.4 168.0,155.7 175.9,165.4M163.3,148.4 167.5,155.6 174.8,165.5M163.3,148.4 167.1,155.6 173.7,165.5M163.3,148.4 166.8,155.6 172.6,165.4M163.3,148.4 166.4,155.6 171.7,165.5M163.3,148.4 166.0,155.5 170.7,165.5M163.3,148.4 165.7,155.5 169.8,165.5M163.3,148.4 168.9,165.5M163.3,148.4 168.0,165.4M163.3,148.4 167.2,165.4M163.3,148.4 166.4,165.6M163.3,148.4 165.5,165.5M163.3,148.4 164.7,165.4M163.3,148.4 163.9,165.4"/><path stroke="#38389c" d="M301.9,56.4 307.9,59.2 313.7,63.1M281.0,50.5 300.3,48.4 320.0,47.1 338.1,46.6 355.9,47.0 378.4,48.5 399.4,50.9 412.7,53.4 422.4,56.6 428.6,60.1 434.5,65.2 446.5,79.6 458.7,92.7 467.6,103.9 484.3,117.4 505.3,138.5 518.9,154.4 531.8,165.4M269.0,48.6 293.1,42.3 315.0,38.2 335.3,36.0 355.1,35.8 375.5,37.4 397.1,41.1 422.8,47.4 436.6,51.5 444.7,54.4 448.8,56.4 452.6,58.7 459.5,64.8 463.3,69.3 470.9,79.5 482.3,92.7 490.5,103.8 505.6,117.3 525.0,138.5 537.4,154.3 549.3,165.5M257.9,48.0 281.2,39.1 301.1,33.3 309.9,31.5 318.5,30.3 327.2,29.7 335.6,29.6 344.4,30.1 353.0,31.2 361.6,32.9 370.9,35.2 392.0,42.1 416.3,52.0 422.1,54.9 426.1,57.4 429.9,60.5 433.7,64.3 437.5,69.1 444.8,79.6 455.1,92.6 462.8,103.8 476.6,117.5 494.3,138.5 505.8,154.3 516.6,165.5M249.1,47.4 264.8,39.5 278.3,33.7 289.8,29.6 301.9,26.6M241.1,47.0 262.4,34.4 270.9,30.1 279.4,26.6M234.1,46.4 250.6,34.6 264.2,26.6M227.4,46.1 241.0,34.6 252.0,26.6M220.9,45.9 232.2,34.7 241.6,26.6M214.6,45.9 224.3,34.7 232.3,26.5M208.9,45.6 217.1,34.6 223.8,26.5M203.2,45.4 215.7,26.6M197.7,45.3 208.3,26.5M192.4,45.1 201.1,26.6M187.2,45.0 194.2,26.4M182.1,45.0 187.5,26.5M177.0,44.8 180.9,26.5M172.0,44.9 174.5,26.4M167.0,44.8 168.1,26.4"/><path stroke="#2c2caa" d="M295.7,54.9 301.9,56.4M313.7,63.1 319.1,68.2M277.3,51.0 281.0,50.5M265.9,49.5 269.0,48.6M255.4,49.0 257.9,48.0M247.0,48.5 249.1,47.4M239.2,48.2 241.1,47.0M232.5,47.7 234.1,46.4M226.0,47.3 227.4,46.1M219.6,47.2 220.9,45.9M213.6,47.1 214.6,45.9M207.9,46.8 208.9,45.6M202.4,46.7 203.2,45.4M197.1,46.5 197.7,45.3M191.9,46.3 192.4,45.1M186.8,46.2 187.2,45.0M181.7,46.2 182.1,45.0M176.7,46.3 177.0,44.8M171.8,46.1 172.0,44.9M167.0,46.0 167.0,44.8"/><path stroke="#2020bb" d="M289.3,54.0 295.7,54.9M319.1,68.2 322.5,72.1M273.3,51.6 277.3,51.0M262.8,50.5 265.9,49.5M252.7,50.2 255.4,49.0M244.4,49.9 247.0,48.5M237.2,49.5 239.2,48.2M230.8,49.0 232.5,47.7M224.4,48.7 226.0,47.3M218.2,48.7 219.6,47.2M212.2,48.7 213.6,47.1M206.9,48.3 207.9,46.8M201.5,48.2 202.4,46.7M196.3,48.0 197.1,46.5M191.2,47.9 191.9,46.3M186.2,47.9 186.8,46.2M181.3,47.9 181.7,46.2M176.5,47.8 176.7,46.3M171.7,47.6 171.8,46.1M166.9,47.8 167.0,46.0"/><path stroke="#1414ce" d="M328.2,65.2 333.8,62.7 339.2,61.0M355.2,60.8 360.6,62.4 365.8,64.6 370.7,67.4 375.7,71.0M282.8,53.8 289.3,54.0M322.5,72.1 325.3,75.3M268.7,52.4 273.3,51.6M259.0,51.7 262.8,50.5M249.4,51.6 252.7,50.2M241.7,51.4 244.4,49.9M234.7,51.2 237.2,49.5M228.5,50.7 230.8,49.0M222.3,50.6 224.4,48.7M216.6,50.3 218.2,48.7M210.8,50.4 212.2,48.7M205.6,50.1 206.9,48.3M200.3,50.1 201.5,48.2M195.3,50.0 196.3,48.0M190.4,49.9 191.2,47.9M185.6,49.7 186.2,47.9M180.8,49.8 181.3,47.9M176.1,49.6 176.5,47.8M171.4,49.5 171.7,47.6M166.8,49.7 166.9,47.8"/><path stroke="#0808e3" d="M320.8,70.0 328.2,65.2M339.2,61.0 343.7,60.2M352.4,60.3 355.2,60.8M375.7,71.0 380.1,74.5M337.3,62.8 340.7,64.5M276.2,54.0 282.8,53.8M325.3,75.3 327.8,78.2M263.2,53.6 268.7,52.4M254.4,53.2 259.0,51.7M245.5,53.4 249.4,51.6M238.2,53.4 241.7,51.4M231.8,53.2 234.7,51.2M225.8,52.9 228.5,50.7M220.2,52.6 222.3,50.6M214.4,52.6 216.6,50.3M209.0,52.7 210.8,50.4M203.9,52.5 205.6,50.1M199.0,52.3 200.3,50.1M194.1,52.3 195.3,50.0M189.4,52.1 190.4,49.9M184.7,52.1 185.6,49.7M180.2,52.0 180.8,49.8M175.6,51.9 176.1,49.6M171.1,51.8 171.4,49.5M166.6,52.0 166.8,49.7"/><path stroke="#0000fb" d="M316.7,73.2 320.8,70.0M343.7,60.2 345.6,60.1M350.7,60.1 352.4,60.3M380.1,74.5 383.9,77.6M302.0,65.0 308.8,61.8 315.6,59.8M329.8,60.2 337.3,62.8M340.7,64.5 345.3,67.4 349.9,71.0M320.1,60.8 325.5,63.3 330.8,66.7M304.5,60.0 312.5,64.9M264.0,56.3 269.6,54.9 276.2,54.0M327.8,78.2 330.2,80.8M255.1,56.3 263.2,53.6M248.3,55.9 254.4,53.2M240.6,56.2 245.5,53.4M234.1,56.1 238.2,53.4M228.1,56.0 231.8,53.2M222.8,55.5 225.8,52.9M217.3,55.4 220.2,52.6M212.1,55.2 214.4,52.6M207.0,55.2 209.0,52.7M202.1,55.1 203.9,52.5M197.5,54.9 199.0,52.3M192.8,54.9 194.1,52.3M188.3,54.8 189.4,52.1M183.9,54.7 184.7,52.1M179.5,54.6 180.2,52.0M175.1,54.6 175.6,51.9M170.8,54.7 171.1,51.8M166.5,54.6 166.6,52.0"/><path stroke="#0003ff" d="M313.0,76.2 316.7,73.2M345.6,60.1 346.8,60.0M349.9,60.1 350.7,60.1M383.9,77.6 387.2,80.0M295.7,69.4 302.0,65.0M315.6,59.8 319.2,59.4M327.1,59.7 329.8,60.2M349.9,71.0 354.1,74.6M285.4,66.0 290.2,63.1 294.9,60.9 299.5,59.5 304.2,58.6M315.6,59.4 320.1,60.8M330.8,66.7 337.0,71.8M276.5,64.2 280.9,61.7 285.2,59.7 289.6,58.4 294.2,57.7M309.6,59.6 317.1,63.3 324.4,68.6M268.4,63.0 273.0,60.4 277.4,58.5 282.3,57.2 287.3,56.6M299.8,58.2 304.5,60.0M312.5,64.9 318.9,70.6M261.3,61.9 266.1,59.1 271.3,57.1 276.7,55.9 282.5,55.5M254.2,61.3 259.0,58.4 264.0,56.3M330.2,80.8 333.1,83.7M247.8,60.6 255.1,56.3M241.9,59.9 248.3,55.9M235.5,59.9 240.6,56.2M229.9,59.6 234.1,56.1M224.5,59.3 228.1,56.0M219.5,58.9 222.8,55.5M214.6,58.5 217.3,55.4M209.7,58.3 212.1,55.2M204.8,58.4 207.0,55.2M200.3,58.1 202.1,55.1M195.8,58.0 197.5,54.9M191.4,57.9 192.8,54.9M187.1,57.9 188.3,54.8M182.9,57.8 183.9,54.7M178.7,57.6 179.5,54.6M174.6,57.6 175.1,54.6M170.5,57.5 170.8,54.7M166.4,57.7 166.5,54.6"/><path stroke="#0018ff" d="M309.9,78.6 313.0,76.2M346.8,60.0 347.4,60.0M349.3,60.1 349.9,60.1M387.2,80.0 391.7,82.8M291.6,72.7 295.7,69.4M319.2,59.4 321.0,59.3M325.7,59.5 327.1,59.7M354.1,74.6 357.7,77.7M280.3,70.0 285.4,66.0M304.2,58.6 306.9,58.5M313.4,59.0 315.6,59.4M337.0,71.8 340.8,75.2M271.2,68.2 276.5,64.2M294.2,57.7 297.6,57.6M306.6,58.7 309.6,59.6M324.4,68.6 328.9,72.9M263.2,67.0 268.4,63.0M287.3,56.6 290.2,56.6M297.5,57.6 299.8,58.2M318.9,70.6 322.5,74.3M256.1,65.9 261.3,61.9M282.5,55.5 286.9,55.8M299.5,59.7 305.2,63.4 310.8,68.1M249.5,65.2 254.2,61.3M333.1,83.7 335.9,86.5M243.3,64.5 247.8,60.6M237.6,63.8 241.9,59.9M231.8,63.5 235.5,59.9M226.5,63.2 229.9,59.6M221.5,62.7 224.5,59.3M216.7,62.3 219.5,58.9M212.0,61.9 214.6,58.5M207.4,61.8 209.7,58.3M202.9,61.7 204.8,58.4M198.6,61.4 200.3,58.1M194.4,61.3 195.8,58.0M190.1,61.2 191.4,57.9M186.1,61.1 187.1,57.9M182.0,60.9 182.9,57.8M178.0,60.9 178.7,57.6M174.1,60.8 174.6,57.6M170.2,60.7 170.5,57.5M166.2,60.7 166.4,57.7"/><path stroke="#002eff" d="M306.7,80.8 309.9,78.6M347.4,60.0 347.8,60.0M348.9,60.0 349.3,60.1M391.7,82.8 396.4,85.7M288.2,75.7 291.6,72.7M321.0,59.3 322.0,59.3M324.8,59.4 325.7,59.5M357.7,77.7 361.0,80.2M276.8,73.1 280.3,70.0M306.9,58.5 308.1,58.5M312.2,58.8 313.4,59.0M340.8,75.2 344.2,78.3M267.4,71.7 271.2,68.2M297.6,57.6 299.5,57.6M304.8,58.3 306.6,58.7M328.9,72.9 332.5,76.4M259.4,70.5 263.2,67.0M290.2,56.6 291.7,56.7M296.3,57.3 297.5,57.6M322.5,74.3 325.7,77.6M252.4,69.5 256.1,65.9M286.9,55.8 289.3,56.2M296.7,58.4 299.5,59.7M310.8,68.1 315.3,73.0M245.9,68.7 249.5,65.2M335.9,86.5 338.9,89.3M239.9,68.0 243.3,64.5M234.5,67.2 237.6,63.8M228.9,67.0 231.8,63.5M223.9,66.5 226.5,63.2M219.0,66.2 221.5,62.7M214.4,65.7 216.7,62.3M210.0,65.3 212.0,61.9M205.6,65.1 207.4,61.8M201.2,65.0 202.9,61.7M197.1,64.7 198.6,61.4M193.0,64.6 194.4,61.3M189.1,64.4 190.1,61.2M185.1,64.3 186.1,61.1M181.3,64.1 182.0,60.9M177.4,64.2 178.0,60.9M173.6,64.0 174.1,60.8M169.9,64.0 170.2,60.7M166.1,64.0 166.2,60.7"/><path stroke="#0044ff" d="M302.6,83.4 306.7,80.8M347.8,60.0 348.0,60.0M348.7,60.0 348.9,60.0M396.4,85.7 401.0,88.3M285.2,78.2 288.2,75.7M322.0,59.3 322.6,59.3M324.2,59.4 324.8,59.4M361.0,80.2 365.4,83.1M273.7,76.0 276.8,73.1M308.1,58.5 309.0,58.5M311.4,58.7 312.2,58.8M344.2,78.3 347.5,80.9M264.5,74.6 267.4,71.7M299.5,57.6 300.6,57.7M303.7,58.1 304.8,58.3M332.5,76.4 335.6,79.3M256.5,73.6 259.4,70.5M291.7,56.7 292.6,56.8M295.4,57.1 296.3,57.3M325.7,77.6 328.6,80.3M249.5,72.6 252.4,69.5M289.3,56.2 290.9,56.5M295.2,57.8 296.7,58.4M315.3,73.0 318.6,76.6M243.1,71.9 245.9,68.7M338.9,89.3 341.9,92.4M237.3,71.2 239.9,68.0M231.8,70.5 234.5,67.2M226.5,70.2 228.9,67.0M221.6,69.8 223.9,66.5M216.9,69.4 219.0,66.2M212.5,68.9 214.4,65.7M208.2,68.5 210.0,65.3M203.9,68.3 205.6,65.1M199.8,68.2 201.2,65.0M195.8,67.9 197.1,64.7M191.9,67.7 193.0,64.6M188.0,67.6 189.1,64.4M184.3,67.4 185.1,64.3M180.6,67.3 181.3,64.1M176.9,67.3 177.4,64.2M173.2,67.2 173.6,64.0M169.6,67.2 169.9,64.0M166.0,67.2 166.1,64.0"/><path stroke="#005aff" d="M298.5,85.8 302.6,83.4M348.0,60.0 348.2,60.0M348.5,60.0 348.7,60.0M401.0,88.3 407.2,92.2M282.4,80.3 285.2,78.2M322.6,59.3 322.8,59.3M324.0,59.3 324.2,59.4M365.4,83.1 369.7,86.0M271.0,78.4 273.7,76.0M309.0,58.5 309.6,58.5M311.0,58.6 311.4,58.7M347.5,80.9 351.7,84.0M261.7,77.2 264.5,74.6M300.6,57.7 301.2,57.8M303.1,58.0 303.7,58.1M335.6,79.3 339.2,82.2M253.8,76.3 256.5,73.6M292.6,56.8 293.3,56.8M294.8,57.0 295.4,57.1M328.6,80.3 332.2,83.4M247.0,75.4 249.5,72.6M290.9,56.5 291.7,56.7M294.2,57.4 295.2,57.8M318.6,76.6 321.5,79.7M240.7,74.8 243.1,71.9M341.9,92.4 344.6,95.4M234.9,74.2 237.3,71.2M229.7,73.4 231.8,70.5M224.5,73.2 226.5,70.2M219.7,72.7 221.6,69.8M215.2,72.4 216.9,69.4M210.8,72.0 212.5,68.9M206.6,71.6 208.2,68.5M202.6,71.3 203.9,68.3M198.5,71.2 199.8,68.2M194.7,70.9 195.8,67.9M190.9,70.8 191.9,67.7M187.2,70.6 188.0,67.6M183.6,70.5 184.3,67.4M179.9,70.4 180.6,67.3M176.4,70.3 176.9,67.3M172.9,70.3 173.2,67.2M169.4,70.2 169.6,67.2M165.9,70.2 166.0,67.2"/><path stroke="#006fff" d="M294.5,88.1 298.5,85.8M348.3,60.0 348.5,60.0M407.2,92.2 411.8,95.5M278.8,82.7 282.4,80.3M322.8,59.3 323.0,59.3M323.8,59.3 324.0,59.3M369.7,86.0 374.5,89.0M268.2,80.6 271.0,78.4M309.6,58.5 309.8,58.5M310.8,58.6 311.0,58.6M351.7,84.0 355.7,86.8M259.2,79.5 261.7,77.2M301.2,57.8 301.7,57.8M302.9,58.0 303.1,58.0M339.2,82.2 343.1,85.3M251.4,78.7 253.8,76.3M293.3,56.8 293.5,56.9M294.6,57.0 294.8,57.0M332.2,83.4 335.7,86.4M244.7,78.0 247.0,75.4M291.7,56.7 292.1,56.8M293.8,57.3 294.2,57.4M321.5,79.7 325.0,83.0M238.5,77.4 240.7,74.8M344.6,95.4 347.1,98.4M232.9,76.8 234.9,74.2M227.7,76.2 229.7,73.4M222.6,75.9 224.5,73.2M218.0,75.5 219.7,72.7M213.5,75.2 215.2,72.4M209.3,74.8 210.8,72.0M205.2,74.4 206.6,71.6M201.3,74.2 202.6,71.3M197.4,74.0 198.5,71.2M193.7,73.8 194.7,70.9M190.0,73.6 190.9,70.8M186.4,73.5 187.2,70.6M182.9,73.4 183.6,70.5M179.4,73.2 179.9,70.4M176.0,73.2 176.4,70.3M172.6,73.1 172.9,70.3M169.2,73.1 169.4,70.2M165.8,73.0 165.9,70.2"/><path stroke="#0085ff" d="M289.3,91.3 294.5,88.1M411.8,95.5 415.6,98.7M275.1,85.2 278.8,82.7M323.0,59.3 323.2,59.3M323.6,59.3 323.8,59.3M374.5,89.0 379.8,92.7M264.8,83.1 268.2,80.6M309.8,58.5 310.0,58.5M310.6,58.6 310.8,58.6M355.7,86.8 360.7,90.2M256.3,81.8 259.2,79.5M301.7,57.8 301.9,57.8M302.5,57.9 302.9,58.0M343.1,85.3 347.1,88.3M249.0,81.0 251.4,78.7M293.5,56.9 293.7,56.9M294.4,57.0 294.6,57.0M335.7,86.4 339.7,89.6M242.4,80.3 244.7,78.0M292.1,56.8 292.6,56.9M293.4,57.2 293.8,57.3M325.0,83.0 328.5,86.2M236.4,79.7 238.5,77.4M347.1,98.4 349.4,101.2M230.9,79.2 232.9,76.8M225.8,78.7 227.7,76.2M220.9,78.4 222.6,75.9M216.4,78.1 218.0,75.5M212.0,77.8 213.5,75.2M207.9,77.3 209.3,74.8M204.0,77.1 205.2,74.4M200.1,76.8 201.3,74.2M196.3,76.7 197.4,74.0M192.7,76.5 193.7,73.8M189.1,76.4 190.0,73.6M185.7,76.1 186.4,73.5M182.3,76.0 182.9,73.4M178.9,76.0 179.4,73.2M175.6,75.8 176.0,73.2M172.3,75.8 172.6,73.1M169.0,75.8 169.2,73.1M165.7,75.7 165.8,73.0"/><path stroke="#009bff" d="M285.0,94.3 289.3,91.3M348.2,60.0 348.3,60.0M415.6,98.7 418.9,101.5M271.7,87.4 275.1,85.2M379.8,92.7 384.0,96.1M261.5,85.5 264.8,83.1M310.0,58.5 310.2,58.6M310.4,58.6 310.6,58.6M360.7,90.2 365.2,93.8M253.3,84.3 256.3,81.8M301.9,57.8 302.1,57.9M347.1,88.3 351.8,91.9M246.1,83.4 249.0,81.0M293.7,56.9 293.9,56.9M294.1,56.9 294.4,57.0M339.7,89.6 343.6,93.2M239.9,82.6 242.4,80.3M293.2,57.1 293.4,57.2M328.5,86.2 332.4,89.6M234.1,82.0 236.4,79.7M349.4,101.2 351.5,103.6M228.7,81.6 230.9,79.2M223.9,81.0 225.8,78.7M219.1,80.8 220.9,78.4M214.7,80.5 216.4,78.1M210.6,80.1 212.0,77.8M206.6,79.8 207.9,77.3M202.7,79.5 204.0,77.1M199.0,79.3 200.1,76.8M195.3,79.2 196.3,76.7M191.8,79.0 192.7,76.5M188.4,78.8 189.1,76.4M185.0,78.7 185.7,76.1M181.7,78.6 182.3,76.0M178.4,78.5 178.9,76.0M175.2,78.5 175.6,75.8M172.0,78.4 172.3,75.8M168.8,78.3 169.0,75.8M165.7,78.3 165.7,75.7"/><path stroke="#00b0ff" d="M281.4,97.2 285.0,94.3M418.9,101.5 421.6,103.5M267.2,90.2 271.7,87.4M323.2,59.3 323.6,59.3M384.0,96.1 387.5,99.3M258.3,87.7 261.5,85.5M365.2,93.8 368.8,97.1M250.3,86.6 253.3,84.3M302.3,57.9 302.5,57.9M351.8,91.9 355.5,95.4M243.3,85.8 246.1,83.4M343.6,93.2 347.0,96.5M237.3,85.0 239.9,82.6M292.6,56.9 292.8,57.0M332.4,89.6 336.2,93.3M231.7,84.4 234.1,82.0M351.5,103.6 353.9,105.7M226.5,84.0 228.7,81.6M221.8,83.5 223.9,81.0M217.2,83.2 219.1,80.8M213.0,82.8 214.7,80.5M209.0,82.5 210.6,80.1M205.2,82.1 206.6,79.8M201.4,81.9 202.7,79.5M197.8,81.7 199.0,79.3M194.3,81.5 195.3,79.2M190.9,81.3 191.8,79.0M187.5,81.3 188.4,78.8M184.3,81.1 185.0,78.7M181.1,81.0 181.7,78.6M177.9,80.9 178.4,78.5M174.8,80.8 175.2,78.5M171.7,80.8 172.0,78.4M168.6,80.7 168.8,78.3M165.6,80.7 165.7,78.3"/><path stroke="#00c6ff" d="M278.2,99.9 281.4,97.2M421.6,103.5 424.4,105.0M263.2,93.1 267.2,90.2M387.5,99.3 390.5,101.9M254.4,90.4 258.3,87.7M368.8,97.1 372.0,100.1M247.0,89.0 250.3,86.6M355.5,95.4 358.8,98.6M240.5,88.1 243.3,85.8M347.0,96.5 349.8,99.6M234.6,87.4 237.3,85.0M293.0,57.1 293.2,57.1M336.2,93.3 339.4,96.7M229.3,86.7 231.7,84.4M353.9,105.7 357.2,108.0M224.3,86.3 226.5,84.0M219.8,85.8 221.8,83.5M215.3,85.6 217.2,83.2M211.2,85.3 213.0,82.8M207.4,84.9 209.0,82.5M203.7,84.6 205.2,82.1M200.1,84.3 201.4,81.9M196.6,84.1 197.8,81.7M193.2,84.0 194.3,81.5M189.9,83.8 190.9,81.3M186.7,83.7 187.5,81.3M183.6,83.5 184.3,81.1M180.5,83.4 181.1,81.0M177.4,83.3 177.9,80.9M174.4,83.3 174.8,80.8M171.4,83.1 171.7,80.8M168.5,83.2 168.6,80.7M165.5,83.1 165.6,80.7"/><path stroke="#00dcff" d="M275.4,102.2 278.2,99.9M424.4,105.0 428.0,106.3M259.7,96.0 263.2,93.1M390.5,101.9 393.3,103.9M250.8,93.2 254.4,90.4M372.0,100.1 374.8,102.7M243.6,91.7 247.0,89.0M358.8,98.6 361.6,101.5M237.3,90.7 240.5,88.1M349.8,99.6 352.5,102.4M231.9,89.8 234.6,87.4M292.8,57.0 293.0,57.1M339.4,96.7 342.1,99.8M226.8,89.2 229.3,86.7M357.2,108.0 361.5,110.8M222.0,88.6 224.3,86.3M217.7,88.2 219.8,85.8M213.4,87.9 215.3,85.6M209.5,87.5 211.2,85.3M205.8,87.2 207.4,84.9M202.2,86.9 203.7,84.6M198.8,86.7 200.1,84.3M195.4,86.4 196.6,84.1M192.1,86.3 193.2,84.0M188.9,86.2 189.9,83.8M185.8,86.1 186.7,83.7M182.8,85.9 183.6,83.5M179.8,85.9 180.5,83.4M176.9,85.8 177.4,83.3M174.0,85.7 174.4,83.3M171.1,85.6 171.4,83.1M168.3,85.6 168.5,83.2M165.4,85.6 165.5,83.1"/><path stroke="#0af1ed" d="M273.0,103.8 275.4,102.2M428.0,106.3 432.3,107.4M256.7,98.7 259.7,96.0M393.3,103.9 396.3,105.5M247.7,96.0 250.8,93.2M374.8,102.7 377.6,104.7M240.5,94.4 243.6,91.7M302.1,57.9 302.3,57.9M361.6,101.5 364.2,103.7M234.4,93.4 237.3,90.7M293.9,56.9 294.1,56.9M352.5,102.4 355.0,104.5M229.1,92.4 231.9,89.8M342.1,99.8 344.6,102.6M224.2,91.8 226.8,89.2M361.5,110.8 366.0,113.9M219.7,91.1 222.0,88.6M215.5,90.6 217.7,88.2M211.4,90.4 213.4,87.9M207.7,89.9 209.5,87.5M204.1,89.7 205.8,87.2M200.7,89.3 202.2,86.9M197.4,89.0 198.8,86.7M194.2,88.8 195.4,86.4M191.0,88.7 192.1,86.3M188.0,88.5 188.9,86.2M185.0,88.4 185.8,86.1M182.1,88.3 182.8,85.9M179.2,88.2 179.8,85.9M176.4,88.0 176.9,85.8M173.6,88.1 174.0,85.7M170.8,87.9 171.1,85.6M168.1,88.0 168.3,85.6M165.3,87.9 165.4,85.6"/><path stroke="#1bffdc" d="M270.4,105.1 273.0,103.8M432.3,107.4 438.9,108.4M446.1,109.4 458.5,111.2 468.3,113.4 475.7,115.8 482.4,119.1M253.9,101.2 256.7,98.7M396.3,105.5 400.5,107.1M244.8,98.7 247.7,96.0M377.6,104.7 381.1,106.4M237.8,97.1 240.5,94.4M364.2,103.7 367.3,105.7M231.8,96.0 234.4,93.4M355.0,104.5 358.4,106.7M226.5,95.1 229.1,92.4M344.6,102.6 347.3,105.0M221.8,94.3 224.2,91.8M366.0,113.9 370.2,117.2M217.5,93.7 219.7,91.1M213.5,93.2 215.5,90.6M209.6,92.8 211.4,90.4M205.9,92.5 207.7,89.9M202.5,92.2 204.1,89.7M199.2,91.8 200.7,89.3M196.0,91.5 197.4,89.0M193.0,91.2 194.2,88.8M189.9,91.1 191.0,88.7M187.0,90.9 188.0,88.5M184.1,90.8 185.0,88.4M181.3,90.7 182.1,88.3M178.6,90.6 179.2,88.2M175.9,90.4 176.4,88.0M173.2,90.4 173.6,88.1M170.5,90.3 170.8,87.9M167.9,90.2 168.1,88.0M165.3,90.3 165.3,87.9"/><path stroke="#2dffca" d="M267.3,106.2 270.4,105.1M438.9,108.4 446.1,109.4M482.4,119.1 487.8,122.2M251.5,103.1 253.9,101.2M400.5,107.1 411.4,110.0M242.3,101.1 244.8,98.7M381.1,106.4 387.1,108.7M235.2,99.6 237.8,97.1M367.3,105.7 371.9,108.0M229.4,98.5 231.8,96.0M358.4,106.7 363.9,109.5M224.3,97.6 226.5,95.1M347.3,105.0 351.1,107.5M219.7,96.8 221.8,94.3M370.2,117.2 373.4,120.3M215.4,96.3 217.5,93.7M211.5,95.7 213.5,93.2M207.8,95.3 209.6,92.8M204.3,94.9 205.9,92.5M201.0,94.6 202.5,92.2M197.8,94.2 199.2,91.8M194.8,93.9 196.0,91.5M191.8,93.7 193.0,91.2M188.9,93.5 189.9,91.1M186.1,93.3 187.0,90.9M183.4,93.1 184.1,90.8M180.6,93.0 181.3,90.7M178.0,92.9 178.6,90.6M175.4,92.8 175.9,90.4M172.8,92.7 173.2,90.4M170.3,92.7 170.5,90.3M167.7,92.7 167.9,90.2M165.2,92.7 165.3,90.3"/><path stroke="#3effb9" d="M263.9,107.1 267.3,106.2M487.8,122.2 492.5,125.0M249.0,104.7 251.5,103.1M411.4,110.0 424.4,113.8 433.6,118.2M240.0,103.1 242.3,101.1M387.1,108.7 397.0,112.2 403.1,114.8M232.9,102.0 235.2,99.6M371.9,108.0 381.5,112.1M227.1,101.0 229.4,98.5M363.9,109.5 372.1,113.8M222.1,100.1 224.3,97.6M351.1,107.5 357.4,111.2M217.6,99.4 219.7,96.8M373.4,120.3 376.4,123.1M213.5,98.8 215.4,96.3M209.7,98.2 211.5,95.7M206.1,97.8 207.8,95.3M202.8,97.3 204.3,94.9M199.6,97.0 201.0,94.6M196.5,96.6 197.8,94.2M193.6,96.3 194.8,93.9M190.7,96.1 191.8,93.7M187.9,95.9 188.9,93.5M185.2,95.7 186.1,93.3M182.6,95.6 183.4,93.1M180.0,95.4 180.6,93.0M177.4,95.3 178.0,92.9M174.9,95.2 175.4,92.8M172.4,95.1 172.8,92.7M170.0,95.0 170.3,92.7M167.6,95.0 167.7,92.7M165.1,95.0 165.2,92.7"/><path stroke="#50ffa7" d="M274.4,113.7 282.4,115.9 289.8,119.0M260.2,107.9 263.9,107.1M492.5,125.0 497.2,127.6M246.4,105.9 249.0,104.7M433.6,118.2 438.9,121.5M237.6,104.7 240.0,103.1M310.2,58.6 310.4,58.6M403.1,114.8 411.0,119.4M230.7,103.8 232.9,102.0M381.5,112.1 390.8,117.1M225.0,103.1 227.1,101.0M372.1,113.8 378.5,118.1M220.1,102.3 222.1,100.1M357.4,111.2 364.3,115.6M215.8,101.7 217.6,99.4M376.4,123.1 379.2,125.8M211.7,101.1 213.5,98.8M208.1,100.5 209.7,98.2M204.6,100.2 206.1,97.8M201.3,99.8 202.8,97.3M198.2,99.4 199.6,97.0M195.3,99.0 196.5,96.6M192.4,98.8 193.6,96.3M189.7,98.5 190.7,96.1M187.0,98.4 187.9,95.9M184.4,98.2 185.2,95.7M181.8,97.9 182.6,95.6M179.3,97.8 180.0,95.4M176.9,97.7 177.4,95.3M174.5,97.6 174.9,95.2M172.1,97.5 172.4,95.1M169.7,97.5 170.0,95.0M167.4,97.5 167.6,95.0M165.0,97.4 165.1,95.0"/><path stroke="#61ff96" d="M266.5,112.6 274.4,113.7M289.8,119.0 296.0,122.3M256.3,108.4 260.2,107.9M497.2,127.6 502.6,130.4M243.0,107.1 246.4,105.9M438.9,121.5 443.4,124.5M235.1,106.0 237.6,104.7M411.0,119.4 415.5,122.6M228.5,105.3 230.7,103.8M390.8,117.1 395.8,120.7M222.9,104.8 225.0,103.1M378.5,118.1 382.5,121.4M218.2,104.2 220.1,102.3M364.3,115.6 369.1,119.5M213.8,103.7 215.8,101.7M379.2,125.8 382.2,128.6M210.0,103.3 211.7,101.1M206.5,102.8 208.1,100.5M203.0,102.5 204.6,100.2M199.8,102.1 201.3,99.8M196.9,101.8 198.2,99.4M194.0,101.5 195.3,99.0M191.3,101.1 192.4,98.8M188.6,100.9 189.7,98.5M186.1,100.6 187.0,98.4M183.6,100.5 184.4,98.2M181.1,100.3 181.8,97.9M178.7,100.1 179.3,97.8M176.4,100.1 176.9,97.7M174.0,100.0 174.5,97.6M171.8,99.8 172.1,97.5M169.5,99.8 169.7,97.5M167.2,99.7 167.4,97.5M165.0,99.8 165.0,97.4"/><path stroke="#73ff84" d="M260.3,112.2 266.5,112.6M296.0,122.3 301.2,125.1M250.6,109.2 256.3,108.4M502.6,130.4 508.5,133.3M239.5,108.1 243.0,107.1M443.4,124.5 447.9,127.2M232.0,107.3 235.1,106.0M415.5,122.6 419.6,125.4M225.6,106.9 228.5,105.3M395.8,120.7 399.9,123.8M220.4,106.4 222.9,104.8M382.5,121.4 386.2,124.4M215.9,105.9 218.2,104.2M369.1,119.5 372.7,122.6M211.9,105.5 213.8,103.7M382.2,128.6 385.3,131.3M208.2,105.1 210.0,103.3M204.7,104.7 206.5,102.8M201.4,104.5 203.0,102.5M198.4,104.1 199.8,102.1M195.5,103.9 196.9,101.8M192.8,103.6 194.0,101.5M190.2,103.4 191.3,101.1M187.6,103.1 188.6,100.9M185.1,103.0 186.1,100.6M182.7,102.8 183.6,100.5M180.4,102.7 181.1,100.3M178.1,102.5 178.7,100.1M175.8,102.4 176.4,100.1M173.6,102.3 174.0,100.0M171.4,102.3 171.8,99.8M169.2,102.2 169.5,99.8M167.1,102.2 167.2,99.7M164.9,102.1 165.0,99.8"/><path stroke="#84ff73" d="M254.5,112.0 260.3,112.2M301.2,125.1 306.6,127.7M243.8,110.1 250.6,109.2M508.5,133.3 514.9,136.7M234.7,109.3 239.5,108.1M447.9,127.2 452.8,130.0M228.1,108.7 232.0,107.3M419.6,125.4 424.0,128.3M222.4,108.3 225.6,106.9M399.9,123.8 403.6,126.6M217.5,107.9 220.4,106.4M386.2,124.4 389.8,127.2M213.4,107.5 215.9,105.9M372.7,122.6 376.1,125.6M209.5,107.2 211.9,105.5M385.3,131.3 388.4,134.1M206.0,106.9 208.2,105.1M202.7,106.6 204.7,104.7M199.7,106.3 201.4,104.5M196.7,106.1 198.4,104.1M194.1,105.8 195.5,103.9M191.4,105.7 192.8,103.6M188.9,105.5 190.2,103.4M186.5,105.3 187.6,103.1M184.2,105.0 185.1,103.0M181.8,105.0 182.7,102.8M179.6,104.8 180.4,102.7M177.4,104.7 178.1,102.5M175.3,104.6 175.8,102.4M173.2,104.5 173.6,102.3M171.0,104.5 171.4,102.3M169.0,104.4 169.2,102.2M166.9,104.4 167.1,102.2M164.8,104.4 164.9,102.1"/><path stroke="#96ff61" d="M248.2,112.1 254.5,112.0M306.6,127.7 312.5,130.5M236.6,111.3 243.8,110.1M514.9,136.7 521.3,140.6M229.0,110.8 234.7,109.3M452.8,130.0 458.3,133.0M223.5,110.3 228.1,108.7M424.0,128.3 428.7,131.2M218.4,110.0 222.4,108.3M403.6,126.6 407.8,129.5M214.1,109.6 217.5,107.9M389.8,127.2 393.8,130.2M210.2,109.3 213.4,107.5M376.1,125.6 379.6,128.6M206.8,109.0 209.5,107.2M388.4,134.1 391.6,137.0M203.6,108.7 206.0,106.9M200.5,108.5 202.7,106.6M197.5,108.3 199.7,106.3M194.9,108.1 196.7,106.1M192.3,107.9 194.1,105.8M189.9,107.6 191.4,105.7M187.5,107.5 188.9,105.5M185.2,107.3 186.5,105.3M183.1,107.1 184.2,105.0M180.9,107.0 181.8,105.0M178.7,107.0 179.6,104.8M176.7,106.9 177.4,104.7M174.6,106.7 175.3,104.6M172.6,106.7 173.2,104.5M170.6,106.7 171.0,104.5M168.7,106.6 169.0,104.4M166.7,106.6 166.9,104.4M164.8,106.5 164.8,104.4"/><path stroke="#a7ff50" d="M239.6,112.8 248.2,112.1M312.5,130.5 319.4,133.5M229.8,112.6 236.6,111.3M521.3,140.6 525.3,143.6M223.4,112.4 229.0,110.8M458.3,133.0 464.0,136.3M218.8,112.0 223.5,110.3M428.7,131.2 433.6,134.3M214.2,111.8 218.4,110.0M407.8,129.5 412.2,132.5M210.3,111.5 214.1,109.6M393.8,130.2 397.8,133.2M206.9,111.3 210.2,109.3M379.6,128.6 383.3,131.6M203.8,110.9 206.8,109.0M391.6,137.0 394.8,140.2M200.8,110.7 203.6,108.7M198.1,110.4 200.5,108.5M195.4,110.2 197.5,108.3M192.9,110.1 194.9,108.1M190.5,109.9 192.3,107.9M188.3,109.6 189.9,107.6M186.0,109.5 187.5,107.5M184.0,109.3 185.2,107.3M181.8,109.3 183.1,107.1M179.9,109.1 180.9,107.0M177.8,109.1 178.7,107.0M175.9,108.9 176.7,106.9M174.0,108.9 174.6,106.7M172.1,108.8 172.6,106.7M170.2,108.7 170.6,106.7M168.4,108.6 168.7,106.6M166.5,108.6 166.7,106.6M164.7,108.7 164.8,106.5"/><path stroke="#b9ff3e" d="M226.2,115.6 232.5,113.9 239.6,112.8M319.4,133.5 327.1,137.1M221.5,115.0 229.8,112.6M525.3,143.6 528.9,146.3M217.2,114.6 223.4,112.4M464.0,136.3 469.9,140.2M213.7,114.1 218.8,112.0M433.6,134.3 438.9,137.7M210.0,113.8 214.2,111.8M412.2,132.5 417.0,135.8M206.7,113.5 210.3,111.5M397.8,133.2 402.1,136.5M203.7,113.2 206.9,111.3M383.3,131.6 387.3,134.9M200.8,112.9 203.8,110.9M394.8,140.2 397.3,143.0M198.1,112.7 200.8,110.7M195.7,112.4 198.1,110.4M193.3,112.2 195.4,110.2M191.0,112.1 192.9,110.1M188.8,111.9 190.5,109.9M186.6,111.7 188.3,109.6M184.6,111.6 186.0,109.5M182.6,111.4 184.0,109.3M180.7,111.3 181.8,109.3M178.8,111.1 179.9,109.1M176.9,111.0 177.8,109.1M175.1,111.0 175.9,108.9M173.3,110.9 174.0,108.9M171.5,110.9 172.1,108.8M169.8,110.8 170.2,108.7M168.1,110.7 168.4,108.6M166.3,110.7 166.5,108.6M164.6,110.8 164.7,108.7"/><path stroke="#caff2d" d="M218.9,118.6 226.2,115.6M327.1,137.1 334.0,141.3M215.2,117.8 221.5,115.0M528.9,146.3 533.3,149.5M212.0,117.1 217.2,114.6M469.9,140.2 473.7,143.3M209.0,116.4 213.7,114.1M438.9,137.7 443.6,141.3M206.0,116.0 210.0,113.8M417.0,135.8 421.7,139.4M203.2,115.6 206.7,113.5M402.1,136.5 406.2,140.0M200.4,115.4 203.7,113.2M387.3,134.9 391.1,138.2M198.0,115.1 200.8,112.9M397.3,143.0 399.8,145.8M195.6,114.8 198.1,112.7M193.3,114.6 195.7,112.4M191.1,114.4 193.3,112.2M189.0,114.1 191.0,112.1M187.1,113.9 188.8,111.9M185.1,113.7 186.6,111.7M183.2,113.6 184.6,111.6M181.3,113.5 182.6,111.4M179.6,113.3 180.7,111.3M177.8,113.2 178.8,111.1M176.0,113.1 176.9,111.0M174.3,113.1 175.1,111.0M172.6,113.1 173.3,110.9M171.0,112.9 171.5,110.9M169.4,112.9 169.8,110.8M167.7,112.9 168.1,110.7M166.1,112.8 166.3,110.7M164.5,112.9 164.6,110.8"/><path stroke="#dcff1b" d="M214.6,120.8 218.9,118.6M334.0,141.3 338.3,144.3M211.2,120.0 215.2,117.8M533.3,149.5 536.9,152.2M207.9,119.4 212.0,117.1M473.7,143.3 477.2,146.0M205.1,118.8 209.0,116.4M443.6,141.3 447.0,144.3M202.4,118.4 206.0,116.0M421.7,139.4 425.3,142.6M199.9,117.9 203.2,115.6M406.2,140.0 409.5,143.2M197.6,117.5 200.4,115.4M391.1,138.2 394.6,141.6M195.4,117.2 198.0,115.1M399.8,145.8 402.4,148.6M193.2,116.9 195.6,114.8M191.1,116.7 193.3,114.6M189.1,116.4 191.1,114.4M187.2,116.2 189.0,114.1M185.4,116.0 187.1,113.9M183.6,115.8 185.1,113.7M181.8,115.6 183.2,113.6M180.1,115.5 181.3,113.5M178.4,115.4 179.6,113.3M176.8,115.3 177.8,113.2M175.2,115.1 176.0,113.1M173.6,115.0 174.3,113.1M172.1,115.0 172.6,113.1M170.5,115.0 171.0,112.9M169.0,114.9 169.4,112.9M167.4,114.9 167.7,112.9M165.9,114.9 166.1,112.8M164.4,114.9 164.5,112.9"/><path stroke="#edff0a" d="M210.9,122.8 214.6,120.8M338.3,144.3 342.3,147.0M207.7,122.1 211.2,120.0M536.9,152.2 540.0,154.2M204.6,121.6 207.9,119.4M477.2,146.0 481.1,149.1M202.2,120.9 205.1,118.8M447.0,144.3 450.4,147.1M199.6,120.5 202.4,118.4M425.3,142.6 428.4,145.5M197.2,120.1 199.9,117.9M409.5,143.2 412.4,146.0M195.1,119.7 197.6,117.5M394.6,141.6 397.4,144.6M193.0,119.3 195.4,117.2M402.4,148.6 405.0,151.6M191.0,119.1 193.2,116.9M189.1,118.8 191.1,116.7M187.2,118.6 189.1,116.4M185.5,118.3 187.2,116.2M183.8,118.1 185.4,116.0M182.2,117.9 183.6,115.8M180.5,117.8 181.8,115.6M178.9,117.6 180.1,115.5M177.4,117.4 178.4,115.4M175.9,117.3 176.8,115.3M174.4,117.2 175.2,115.1M172.9,117.1 173.6,115.0M171.4,117.1 172.1,115.0M170.0,117.0 170.5,115.0M168.6,116.9 169.0,114.9M167.2,116.9 167.4,114.9M165.8,116.8 165.9,114.9M164.4,116.9 164.4,114.9"/><path stroke="#ffed00" d="M207.4,124.6 210.9,122.8M342.3,147.0 347.0,150.2M204.4,124.0 207.7,122.1M540.0,154.2 544.0,156.2M201.6,123.5 204.6,121.6M481.1,149.1 484.7,152.0M199.4,122.9 202.2,120.9M450.4,147.1 454.2,150.3M197.0,122.4 199.6,120.5M428.4,145.5 431.8,148.5M194.8,122.1 197.2,120.1M412.4,146.0 415.6,149.0M192.8,121.7 195.1,119.7M397.4,144.6 400.3,147.5M190.9,121.4 193.0,119.3M405.0,151.6 407.2,153.9M189.1,121.1 191.0,119.1M187.3,120.8 189.1,118.8M185.6,120.6 187.2,118.6M184.0,120.3 185.5,118.3M182.4,120.2 183.8,118.1M180.9,119.9 182.2,117.9M179.4,119.7 180.5,117.8M177.9,119.6 178.9,117.6M176.5,119.4 177.4,117.4M175.0,119.4 175.9,117.3M173.6,119.3 174.4,117.2M172.3,119.1 172.9,117.1M170.9,119.1 171.4,117.1M169.6,119.0 170.0,117.0M168.2,119.0 168.6,116.9M166.9,119.0 167.2,116.9M165.6,118.9 165.8,116.8M164.3,118.8 164.4,116.9"/><path stroke="#ffd800" d="M204.2,126.3 207.4,124.6M347.0,150.2 350.6,152.7M201.4,125.7 204.4,124.0M544.0,156.2 549.1,158.3M198.8,125.3 201.6,123.5M484.7,152.0 487.6,154.1M196.7,124.7 199.4,122.9M454.2,150.3 457.3,152.9M194.5,124.3 197.0,122.4M431.8,148.5 435.2,151.6M192.5,124.0 194.8,122.1M415.6,149.0 418.6,152.1M190.6,123.7 192.8,121.7M400.3,147.5 403.4,150.7M188.9,123.3 190.9,121.4M407.2,153.9 410.0,156.4M187.2,123.1 189.1,121.1M185.6,122.7 187.3,120.8M184.0,122.6 185.6,120.6M182.5,122.3 184.0,120.3M181.0,122.1 182.4,120.2M179.6,121.9 180.9,119.9M178.2,121.8 179.4,119.7M176.9,121.6 177.9,119.6M175.5,121.4 176.5,119.4M174.2,121.3 175.0,119.4M172.9,121.2 173.6,119.3M171.6,121.2 172.3,119.1M170.4,121.1 170.9,119.1M169.1,121.0 169.6,119.0M167.9,121.0 168.2,119.0M166.7,121.0 166.9,119.0M165.4,120.9 165.6,118.9M164.2,120.9 164.3,118.8"/><path stroke="#ffc400" d="M200.8,127.9 204.2,126.3M350.6,152.7 353.9,154.6M198.5,127.3 201.4,125.7M549.1,158.3 555.4,160.5M196.0,127.0 198.8,125.3M487.6,154.1 491.5,156.2M194.1,126.4 196.7,124.7M457.3,152.9 460.5,155.1M192.1,126.1 194.5,124.3M435.2,151.6 438.0,154.0M190.3,125.8 192.5,124.0M418.6,152.1 421.3,154.4M188.5,125.5 190.6,123.7M403.4,150.7 405.9,153.3M187.0,125.2 188.9,123.3M410.0,156.4 413.0,158.8M185.4,124.9 187.2,123.1M183.9,124.7 185.6,122.7M182.5,124.5 184.0,122.6M181.1,124.2 182.5,122.3M179.7,124.1 181.0,122.1M178.4,123.8 179.6,121.9M177.1,123.7 178.2,121.8M175.9,123.6 176.9,121.6M174.6,123.4 175.5,121.4M173.4,123.3 174.2,121.3M172.2,123.2 172.9,121.2M171.0,123.1 171.6,121.2M169.9,123.1 170.4,121.1M168.7,123.0 169.1,121.0M167.6,123.0 167.9,121.0M166.4,122.9 166.7,121.0M165.3,122.9 165.4,120.9M164.1,122.9 164.2,120.9"/><path stroke="#ffb000" d="M197.6,129.4 200.8,127.9M353.9,154.6 358.1,156.4M195.4,128.9 198.5,127.3M555.4,160.5 563.1,162.9M193.3,128.5 196.0,127.0M491.5,156.2 496.4,158.6M191.5,128.1 194.1,126.4M460.5,155.1 464.6,157.5M189.7,127.8 192.1,126.1M438.0,154.0 441.5,156.3M188.1,127.5 190.3,125.8M421.3,154.4 424.7,156.9M186.6,127.2 188.5,125.5M405.9,153.3 409.0,155.9M185.1,126.9 187.0,125.2M413.0,158.8 416.5,161.5M183.6,126.7 185.4,124.9M182.3,126.4 183.9,124.7M181.0,126.2 182.5,124.5M179.7,126.0 181.1,124.2M178.5,125.9 179.7,124.1M177.2,125.7 178.4,123.8M176.1,125.5 177.1,123.7M174.9,125.4 175.9,123.6M173.8,125.3 174.6,123.4M172.6,125.2 173.4,123.3M171.5,125.1 172.2,123.2M170.5,125.0 171.0,123.1M169.4,124.9 169.9,123.1M168.3,124.8 168.7,123.0M167.2,124.8 167.6,123.0M166.2,124.9 166.4,122.9M165.1,124.8 165.3,122.9M164.1,124.7 164.1,122.9"/><path stroke="#ff9c00" d="M194.4,130.8 197.6,129.4M358.1,156.4 363.6,158.3M192.4,130.4 195.4,128.9M563.1,162.9 572.7,165.4M190.6,130.1 193.3,128.5M496.4,158.6 502.5,161.1M189.0,129.7 191.5,128.1M464.6,157.5 469.6,160.0M187.5,129.4 189.7,127.8M441.5,156.3 445.9,159.0M185.9,129.2 188.1,127.5M424.7,156.9 428.9,159.6M184.5,128.9 186.6,127.2M409.0,155.9 412.6,158.6M183.2,128.6 185.1,126.9M416.5,161.5 420.1,164.1M181.9,128.4 183.6,126.7M180.7,128.1 182.3,126.4M179.5,128.0 181.0,126.2M178.3,127.9 179.7,126.0M177.2,127.6 178.5,125.9M176.1,127.4 177.2,125.7M175.0,127.4 176.1,125.5M173.9,127.3 174.9,125.4M172.9,127.1 173.8,125.3M171.9,127.0 172.6,125.2M170.9,126.9 171.5,125.1M169.9,126.8 170.5,125.0M168.9,126.7 169.4,124.9M167.9,126.7 168.3,124.8M166.9,126.7 167.2,124.8M166.0,126.6 166.2,124.9M165.0,126.7 165.1,124.8M164.0,126.6 164.1,124.7"/><path stroke="#ff8800" d="M191.4,132.1 194.4,130.8M363.6,158.3 370.0,160.1M189.7,131.8 192.4,130.4M187.9,131.6 190.6,130.1M502.5,161.1 509.6,163.7M186.6,131.2 189.0,129.7M469.6,160.0 475.7,162.8M185.1,131.0 187.5,129.4M445.9,159.0 451.1,161.8M183.8,130.8 185.9,129.2M428.9,159.6 433.7,162.4M182.6,130.5 184.5,128.9M412.6,158.6 416.8,161.5M181.4,130.3 183.2,128.6M420.1,164.1 422.1,165.5M180.2,130.1 181.9,128.4M179.1,129.9 180.7,128.1M178.0,129.7 179.5,128.0M177.0,129.5 178.3,127.9M175.9,129.4 177.2,127.6M174.9,129.3 176.1,127.4M174.0,129.1 175.0,127.4M173.0,128.9 173.9,127.3M172.1,128.9 172.9,127.1M171.2,128.7 171.9,127.0M170.2,128.8 170.9,126.9M169.3,128.7 169.9,126.8M168.4,128.5 168.9,126.7M167.5,128.5 167.9,126.7M166.6,128.5 166.9,126.7M165.7,128.4 166.0,126.6M164.8,128.5 165.0,126.7M164.0,128.4 164.0,126.6"/><path stroke="#ff7400" d="M188.3,133.5 191.4,132.1M370.0,160.1 377.3,161.8M186.9,133.2 189.7,131.8M185.4,133.0 187.9,131.6M509.6,163.7 514.7,165.4M184.2,132.7 186.6,131.2M475.7,162.8 482.0,165.4M183.0,132.4 185.1,131.0M451.1,161.8 456.8,164.6M181.8,132.2 183.8,130.8M433.7,162.4 439.1,165.5M180.7,132.0 182.6,130.5M416.8,161.5 421.5,164.5M179.7,131.8 181.4,130.3M178.6,131.6 180.2,130.1M177.6,131.4 179.1,129.9M176.6,131.3 178.0,129.7M175.7,131.1 177.0,129.5M174.8,131.0 175.9,129.4M173.9,130.8 174.9,129.3M173.0,130.8 174.0,129.1M172.1,130.7 173.0,128.9M171.3,130.6 172.1,128.9M170.4,130.4 171.2,128.7M169.6,130.3 170.2,128.8M168.8,130.3 169.3,128.7M167.9,130.3 168.4,128.5M167.1,130.3 167.5,128.5M166.3,130.1 166.6,128.5M165.5,130.2 165.7,128.4M164.7,130.1 164.8,128.5M163.9,130.1 164.0,128.4"/><path stroke="#ff6000" d="M185.5,134.8 188.3,133.5M377.3,161.8 385.4,163.4M184.2,134.5 186.9,133.2M183.1,134.3 185.4,133.0M182.0,134.0 184.2,132.7M180.8,133.9 183.0,132.4M456.8,164.6 458.6,165.5M179.8,133.7 181.8,132.2M178.9,133.5 180.7,132.0M421.5,164.5 423.0,165.4M177.9,133.3 179.7,131.8M177.0,133.2 178.6,131.6M176.2,133.0 177.6,131.4M175.2,132.9 176.6,131.3M174.4,132.8 175.7,131.1M173.6,132.6 174.8,131.0M172.8,132.4 173.9,130.8M172.0,132.4 173.0,130.8M171.3,132.2 172.1,130.7M170.5,132.1 171.3,130.6M169.7,132.0 170.4,130.4M169.0,132.0 169.6,130.3M168.2,131.9 168.8,130.3M167.5,131.9 167.9,130.3M166.7,131.9 167.1,130.3M166.0,131.8 166.3,130.1M165.3,131.7 165.5,130.2M164.6,131.8 164.7,130.1M163.8,131.8 163.9,130.1"/><path stroke="#ff4c00" d="M182.8,136.0 185.5,134.8M385.4,163.4 394.2,164.8M181.7,135.9 184.2,134.5M180.7,135.6 183.1,134.3M179.8,135.4 182.0,134.0M178.9,135.2 180.8,133.9M177.9,135.1 179.8,133.7M177.2,134.9 178.9,133.5M176.3,134.7 177.9,133.3M175.6,134.6 177.0,133.2M174.7,134.5 176.2,133.0M174.0,134.4 175.2,132.9M173.3,134.1 174.4,132.8M172.5,134.1 173.6,132.6M171.9,133.9 172.8,132.4M171.1,133.9 172.0,132.4M170.4,133.8 171.3,132.2M169.7,133.7 170.5,132.1M169.1,133.6 169.7,132.0M168.4,133.6 169.0,132.0M167.7,133.5 168.2,131.9M167.1,133.4 167.5,131.9M166.4,133.4 166.7,131.9M165.7,133.3 166.0,131.8M165.1,133.4 165.3,131.7M164.4,133.4 164.6,131.8M163.8,133.3 163.8,131.8"/><path stroke="#ff3800" d="M180.4,137.2 182.8,136.0M394.2,164.8 398.2,165.4M179.5,137.0 181.7,135.9M178.6,136.9 180.7,135.6M177.8,136.7 179.8,135.4M177.0,136.6 178.9,135.2M176.3,136.4 177.9,135.1M175.6,136.2 177.2,134.9M174.9,136.1 176.3,134.7M174.1,136.0 175.6,134.6M173.5,135.8 174.7,134.5M172.8,135.7 174.0,134.4M172.1,135.7 173.3,134.1M171.5,135.5 172.5,134.1M170.9,135.4 171.9,133.9M170.2,135.4 171.1,133.9M169.6,135.3 170.4,133.8M169.0,135.2 169.7,133.7M168.4,135.0 169.1,133.6M167.8,135.0 168.4,133.6M167.2,135.0 167.7,133.5M166.7,134.9 167.1,133.4M166.1,134.9 166.4,133.4M165.5,134.9 165.7,133.3M164.9,134.8 165.1,133.4M164.3,134.9 164.4,133.4M163.7,134.9 163.8,133.3"/><path stroke="#ff2400" d="M178.0,138.5 180.4,137.2M177.3,138.4 179.5,137.0M176.6,138.2 178.6,136.9M176.0,138.0 177.8,136.7M175.4,137.8 177.0,136.6M174.6,137.7 176.3,136.4M174.0,137.6 175.6,136.2M173.5,137.4 174.9,136.1M172.8,137.3 174.1,136.0M172.2,137.2 173.5,135.8M171.7,137.1 172.8,135.7M171.1,136.9 172.1,135.7M170.5,136.9 171.5,135.5M170.0,136.8 170.9,135.4M169.4,136.7 170.2,135.4M168.9,136.7 169.6,135.3M168.4,136.5 169.0,135.2M167.8,136.5 168.4,135.0M167.3,136.5 167.8,135.0M166.8,136.3 167.2,135.0M166.3,136.4 166.7,134.9M165.8,136.3 166.1,134.9M165.2,136.4 165.5,134.9M164.7,136.3 164.9,134.8M164.2,136.3 164.3,134.9M163.7,136.2 163.7,134.9"/><path stroke="#fb0f00" d="M175.8,139.9 178.0,138.5M175.2,139.7 177.3,138.4M174.8,139.4 176.6,138.2M174.2,139.3 176.0,138.0M173.6,139.2 175.4,137.8M173.2,139.0 174.6,137.7M172.6,138.9 174.0,137.6M172.1,138.7 173.5,137.4M171.7,138.5 172.8,137.3M171.1,138.5 172.2,137.2M170.6,138.4 171.7,137.1M170.1,138.3 171.1,136.9M169.6,138.2 170.5,136.9M169.1,138.1 170.0,136.8M168.7,138.1 169.4,136.7M168.2,137.9 168.9,136.7M167.7,137.9 168.4,136.5M167.3,137.9 167.8,136.5M166.8,137.8 167.3,136.5M166.3,137.8 166.8,136.3M165.9,137.7 166.3,136.4M165.5,137.6 165.8,136.3M165.0,137.7 165.2,136.4M164.5,137.6 164.7,136.3M164.1,137.6 164.2,136.3M163.6,137.6 163.7,136.2"/><path stroke="#e20000" d="M174.0,141.1 175.8,139.9M173.6,140.9 175.2,139.7M173.1,140.7 174.8,139.4M172.6,140.6 174.2,139.3M172.2,140.4 173.6,139.2M171.8,140.3 173.2,139.0M171.3,140.1 172.6,138.9M170.9,140.0 172.1,138.7M170.5,139.9 171.7,138.5M170.0,139.8 171.1,138.5M169.6,139.7 170.6,138.4M169.2,139.5 170.1,138.3M168.8,139.4 169.6,138.2M168.4,139.4 169.1,138.1M168.0,139.3 168.7,138.1M167.6,139.2 168.2,137.9M167.2,139.1 167.7,137.9M166.8,139.1 167.3,137.9M166.4,139.0 166.8,137.8M166.0,138.9 166.3,137.8M165.6,139.0 165.9,137.7M165.2,138.9 165.5,137.6M164.8,138.9 165.0,137.7M164.4,138.8 164.5,137.6M164.0,138.9 164.1,137.6M163.6,138.9 163.6,137.6"/><path stroke="#c90000" d="M172.5,142.1 174.0,141.1M172.0,142.0 173.6,140.9M171.7,141.9 173.1,140.7M171.4,141.6 172.6,140.6M171.0,141.5 172.2,140.4M170.6,141.4 171.8,140.3M170.2,141.3 171.3,140.1M169.8,141.2 170.9,140.0M169.5,141.0 170.5,139.9M169.1,140.9 170.0,139.8M168.8,140.8 169.6,139.7M168.4,140.7 169.2,139.5M168.1,140.7 168.8,139.4M167.7,140.5 168.4,139.4M167.4,140.5 168.0,139.3M167.0,140.4 167.6,139.2M166.6,140.4 167.2,139.1M166.3,140.3 166.8,139.1M166.0,140.2 166.4,139.0M165.6,140.2 166.0,138.9M165.3,140.2 165.6,139.0M164.9,140.2 165.2,138.9M164.6,140.1 164.8,138.9M164.2,140.1 164.4,138.8M163.9,140.1 164.0,138.9M163.6,140.1 163.6,138.9"/><path stroke="#b10000" d="M171.1,143.2 172.5,142.1M170.7,143.0 172.0,142.0M170.5,142.8 171.7,141.9M170.2,142.7 171.4,141.6M169.8,142.6 171.0,141.5M169.6,142.4 170.6,141.4M169.2,142.3 170.2,141.3M168.9,142.2 169.8,141.2M168.6,142.1 169.5,141.0M168.3,142.0 169.1,140.9M168.0,141.9 168.8,140.8M167.7,141.8 168.4,140.7M167.4,141.7 168.1,140.7M167.1,141.6 167.7,140.5M166.8,141.6 167.4,140.5M166.5,141.5 167.0,140.4M166.2,141.5 166.6,140.4M165.9,141.4 166.3,140.3M165.6,141.4 166.0,140.2M165.3,141.4 165.6,140.2M165.0,141.3 165.3,140.2M164.7,141.3 164.9,140.2M164.4,141.2 164.6,140.1M164.1,141.2 164.2,140.1M163.8,141.2 163.9,140.1M163.5,141.2 163.6,140.1M206.2,164.3 212.4,165.4"/><path stroke="#980000" d="M169.9,144.0 171.1,143.2M169.6,143.9 170.7,143.0M169.4,143.7 170.5,142.8M169.1,143.6 170.2,142.7M168.9,143.5 169.8,142.6M168.6,143.3 169.6,142.4M168.3,143.3 169.2,142.3M168.1,143.1 168.9,142.2M167.8,143.1 168.6,142.1M167.6,143.0 168.3,142.0M167.3,142.8 168.0,141.9M167.0,142.8 167.7,141.8M166.8,142.7 167.4,141.7M166.6,142.6 167.1,141.6M166.3,142.6 166.8,141.6M166.0,142.6 166.5,141.5M165.8,142.5 166.2,141.5M165.5,142.4 165.9,141.4M165.3,142.4 165.6,141.4M165.0,142.3 165.3,141.4M164.8,142.4 165.0,141.3M164.5,142.3 164.7,141.3M164.3,142.3 164.4,141.2M164.0,142.3 164.1,141.2M163.7,142.3 163.8,141.2M163.5,142.3 163.5,141.2M190.6,160.8 206.2,164.3M195.9,163.6 202.2,165.4"/><path stroke="#800000" d="M163.3,148.4 169.9,144.0M163.3,148.4 169.6,143.9M163.3,148.4 169.4,143.7M163.3,148.4 169.1,143.6M163.3,148.4 168.9,143.5M163.3,148.4 168.6,143.3M163.3,148.4 168.3,143.3M163.3,148.4 168.1,143.1M163.3,148.4 167.8,143.1M163.3,148.4 167.6,143.0M163.3,148.4 167.3,142.8M163.3,148.4 167.0,142.8M163.3,148.4 166.8,142.7M163.3,148.4 166.6,142.6M163.3,148.4 166.3,142.6M163.3,148.4 166.0,142.6M163.3,148.4 165.8,142.5M163.3,148.4 165.5,142.4M163.3,148.4 165.3,142.4M163.3,148.4 165.0,142.3M163.3,148.4 164.8,142.4M163.3,148.4 164.5,142.3M163.3,148.4 164.3,142.3M163.3,148.4 164.0,142.3M163.3,148.4 163.7,142.3M163.3,148.4 163.5,142.3M163.3,148.4 169.5,152.8 174.2,155.3 181.6,158.2 190.6,160.8M163.3,148.4 169.6,153.2 175.4,156.3 184.2,159.9 195.9,163.6M163.3,148.4 169.3,153.2 175.1,156.7 184.3,160.8 196.4,165.4M163.3,148.4 168.8,153.2 173.8,156.5 181.8,160.6 192.5,165.5M163.3,148.4 168.3,153.0 172.7,156.3 179.8,160.5 189.3,165.4M163.3,148.4 167.9,153.0 171.8,156.1 186.7,165.4M163.3,148.4 167.5,152.9 171.0,156.0 184.6,165.5M163.3,148.4 170.4,155.9 182.7,165.4M163.3,148.4 169.7,155.8 181.0,165.4M163.3,148.4 169.2,155.8 179.5,165.5M163.3,148.4 168.7,155.7 178.1,165.5M163.3,148.4 168.3,155.7 176.8,165.4M163.3,148.4 167.8,155.6 175.5,165.4M163.3,148.4 167.4,155.6 174.5,165.4M163.3,148.4 167.0,155.6 173.4,165.4M163.3,148.4 166.7,155.6 172.4,165.5M163.3,148.4 166.3,155.6 171.4,165.4M163.3,148.4 166.0,155.5 170.4,165.4M163.3,148.4 165.6,155.5 169.6,165.5M163.3,148.4 168.7,165.4M163.3,148.4 167.8,165.5M163.3,148.4 167.0,165.5M163.3,148.4 166.1,165.4M163.3,148.4 165.3,165.5M163.3,148.4 164.5,165.4M163.3,148.4 163.7,165.5"/><path stroke="#38389c" d="M296.9,53.8 305.9,55.7 313.2,58.8 320.1,63.7 326.9,70.5M277.3,50.0 299.7,46.5 320.8,44.3 342.1,43.3 363.2,43.4 386.0,44.9 408.7,47.6 432.4,51.8 439.8,53.6 445.7,55.7 452.6,59.4 459.2,65.0 463.1,69.4 471.1,79.5 483.1,92.7 491.9,103.9 508.2,117.3 528.7,138.4 542.0,154.4 554.7,165.5M265.7,48.5 289.9,41.4 311.5,36.8 331.4,34.3 341.1,33.9 350.9,33.9 370.5,35.5 391.2,39.3 415.9,45.8 430.3,50.5 439.4,53.8 443.9,56.0 447.8,58.3 451.4,61.2 454.9,64.7 458.8,69.3 466.3,79.5 477.3,92.6 485.6,103.9 500.3,117.4 519.2,138.5 531.5,154.3 543.1,165.5M256.0,47.6 279.0,38.3 289.2,34.9 298.4,32.3 307.0,30.4 315.7,29.1 324.5,28.4 333.7,28.2 342.5,28.6 351.3,29.6 359.8,31.1 368.3,33.1 388.1,39.7 411.8,49.6 419.6,53.3 424.7,56.2 429.1,59.6 433.2,63.7 437.3,68.8 444.7,79.7 454.6,92.5 462.3,103.9 475.7,117.5 493.1,138.5 504.4,154.3 514.9,165.5M247.4,47.1 261.5,39.6 273.8,33.8 284.1,29.8 295.0,26.6M239.5,46.7 259.2,34.4 267.1,30.3 275.2,26.6M232.4,46.4 248.2,34.6 261.0,26.6M225.6,46.2 238.8,34.6 249.3,26.5M219.3,45.9 230.2,34.7 239.1,26.6M213.3,45.7 222.4,34.7 230.0,26.6M207.4,45.6 215.4,34.5 221.8,26.5M201.9,45.3 213.9,26.5M196.4,45.3 206.5,26.5M191.1,45.2 199.4,26.5M186.0,44.9 192.5,26.5M180.8,45.0 185.9,26.4M175.8,44.8 179.3,26.5M170.8,44.8 172.9,26.5M165.8,44.9 166.5,26.6"/><path stroke="#2c2caa" d="M290.9,53.2 296.9,53.8M326.9,70.5 329.8,74.0M273.8,50.6 277.3,50.0M262.9,49.4 265.7,48.5M253.6,48.7 256.0,47.6M245.2,48.3 247.4,47.1M237.7,47.9 239.5,46.7M230.7,47.7 232.4,46.4M224.2,47.4 225.6,46.2M218.2,47.1 219.3,45.9M212.3,46.9 213.3,45.7M206.5,46.9 207.4,45.6M201.1,46.6 201.9,45.3M195.8,46.5 196.4,45.3M190.6,46.4 191.1,45.2M185.5,46.4 186.0,44.9M180.5,46.2 180.8,45.0M175.5,46.1 175.8,44.8M170.6,46.0 170.8,44.8M165.7,46.2 165.8,44.9"/><path stroke="#2020bb" d="M285.0,53.0 290.9,53.2M329.8,74.0 332.3,77.1M270.2,51.3 273.8,50.6M259.8,50.5 262.9,49.4M250.9,50.0 253.6,48.7M242.9,49.6 245.2,48.3M235.7,49.3 237.7,47.9M229.0,49.0 230.7,47.7M222.7,48.8 224.2,47.4M216.8,48.6 218.2,47.1M211.0,48.5 212.3,46.9M205.5,48.3 206.5,46.9M200.2,48.1 201.1,46.6M195.0,48.0 195.8,46.5M189.9,48.0 190.6,46.4M185.0,47.8 185.5,46.4M180.1,47.7 180.5,46.2M175.2,47.8 175.5,46.1M170.4,47.7 170.6,46.0M165.7,47.7 165.7,46.2"/><path stroke="#1414ce" d="M352.4,62.6 358.9,65.7M279.1,53.2 285.0,53.0M332.3,77.1 334.7,79.8M265.8,52.3 270.2,51.3M256.1,51.8 259.8,50.5M247.8,51.4 250.9,50.0M240.2,51.1 242.9,49.6M233.2,51.0 235.7,49.3M226.9,50.8 229.0,49.0M220.7,50.7 222.7,48.8M215.1,50.4 216.8,48.6M209.6,50.2 211.0,48.5M204.2,50.2 205.5,48.3M199.1,50.0 200.2,48.1M194.0,50.0 195.0,48.0M189.2,49.8 189.9,48.0M184.3,49.9 185.0,47.8M179.6,49.8 180.1,47.7M174.9,49.7 175.2,47.8M170.2,49.6 170.4,47.7M165.6,49.6 165.7,47.7"/><path stroke="#0808e3" d="M317.9,65.8 324.7,62.5 331.7,60.5M345.7,60.6 352.4,62.6M358.9,65.7 367.1,71.4M272.8,53.8 279.1,53.2M334.7,79.8 337.3,82.5M260.4,53.7 265.8,52.3M251.8,53.4 256.1,51.8M244.0,53.3 247.8,51.4M237.0,53.1 240.2,51.1M230.4,53.0 233.2,51.0M224.2,53.0 226.9,50.8M218.5,52.8 220.7,50.7M213.1,52.6 215.1,50.4M207.9,52.3 209.6,50.2M202.7,52.4 204.2,50.2M197.8,52.3 199.1,50.0M193.0,52.1 194.0,50.0M188.2,52.2 189.2,49.8M183.6,52.1 184.3,49.9M179.0,52.0 179.6,49.8M174.5,52.0 174.9,49.7M170.0,52.0 170.2,49.6M165.5,51.9 165.6,49.6"/><path stroke="#0000fb" d="M311.4,70.2 317.9,65.8M331.7,60.5 335.3,60.0M343.2,60.2 345.7,60.6M367.1,71.4 371.4,75.0M300.0,63.7 305.4,61.3 310.8,59.8M326.9,60.3 331.4,61.9 335.9,64.0 340.1,66.5 344.4,69.7M318.2,60.9 322.8,63.1 327.2,65.9M303.3,60.2 309.9,64.2M262.0,56.2 266.9,54.8 272.8,53.8M337.3,82.5 340.1,85.4M253.1,56.3 260.4,53.7M246.0,56.1 251.8,53.4M239.2,55.9 244.0,53.3M232.9,55.8 237.0,53.1M227.0,55.6 230.4,53.0M221.2,55.6 224.2,53.0M215.9,55.4 218.5,52.8M210.8,55.2 213.1,52.6M205.8,55.1 207.9,52.3M201.0,55.1 202.7,52.4M196.3,54.9 197.8,52.3M191.6,55.0 193.0,52.1M187.2,54.7 188.2,52.2M182.8,54.7 183.6,52.1M178.4,54.6 179.0,52.0M174.0,54.6 174.5,52.0M169.7,54.6 170.0,52.0M165.4,54.6 165.5,51.9"/><path stroke="#0003ff" d="M307.4,73.5 311.4,70.2M335.3,60.0 337.0,59.9M341.7,60.0 343.2,60.2M371.4,75.0 375.1,77.9M292.8,68.4 300.0,63.7M310.8,59.8 315.1,59.2M323.9,59.6 326.9,60.3M344.4,69.7 348.9,73.6M282.7,65.7 287.3,62.9 292.1,60.7 296.7,59.2 301.5,58.4M313.3,59.3 318.2,60.9M327.2,65.9 333.8,71.3M274.5,63.8 278.7,61.4 282.9,59.5 287.2,58.2 291.6,57.5M307.6,59.4 315.2,63.0 322.6,68.5M267.0,62.5 271.3,60.0 275.5,58.3 280.2,57.0 284.8,56.4M298.0,58.0 303.3,60.2M309.9,64.2 316.7,70.2M259.6,61.7 266.4,58.0 273.9,55.8 282.0,55.2 290.0,56.2M252.7,61.0 257.2,58.3 262.0,56.2M340.1,85.4 342.9,88.1M246.2,60.5 253.1,56.3M240.1,60.1 246.0,56.1M234.3,59.6 239.2,55.9M228.8,59.3 232.9,55.8M223.4,59.0 227.0,55.6M218.1,58.9 221.2,55.6M213.1,58.7 215.9,55.4M208.3,58.5 210.8,55.2M203.8,58.2 205.8,55.1M199.1,58.2 201.0,55.1M194.7,58.0 196.3,54.9M190.3,58.0 191.6,55.0M186.1,57.8 187.2,54.7M181.8,57.8 182.8,54.7M177.7,57.6 178.4,54.6M173.5,57.6 174.0,54.6M169.4,57.6 169.7,54.6M165.3,57.7 165.4,54.6"/><path stroke="#0018ff" d="M303.9,76.3 307.4,73.5M337.0,59.9 338.0,59.8M340.9,59.9 341.7,60.0M375.1,77.9 378.5,80.3M288.5,71.9 292.8,68.4M315.1,59.2 316.9,59.1M322.3,59.4 323.9,59.6M348.9,73.6 352.7,77.0M277.6,69.7 282.7,65.7M301.5,58.4 304.2,58.3M311.2,58.8 313.3,59.3M333.8,71.3 337.7,74.9M269.1,67.9 274.5,63.8M291.6,57.5 295.4,57.3M304.5,58.4 307.6,59.4M322.6,68.5 327.1,72.8M261.6,66.5 267.0,62.5M284.8,56.4 288.2,56.3M295.6,57.3 298.0,58.0M316.7,70.2 320.4,74.1M254.4,65.7 259.6,61.7M290.0,56.2 294.4,57.5 298.5,59.2M247.9,64.9 252.7,61.0M342.9,88.1 346.0,91.2M241.8,64.3 246.2,60.5M236.2,63.7 240.1,60.1M230.7,63.2 234.3,59.6M225.4,62.8 228.8,59.3M220.4,62.5 223.4,59.0M215.5,62.2 218.1,58.9M210.8,62.1 213.1,58.7M206.3,61.8 208.3,58.5M201.8,61.6 203.8,58.2M197.5,61.4 199.1,58.2M193.3,61.3 194.7,58.0M189.1,61.1 190.3,58.0M185.1,61.0 186.1,57.8M181.0,60.9 181.8,57.8M177.1,60.8 177.7,57.6M173.1,60.8 173.5,57.6M169.2,60.8 169.4,57.6M165.3,60.7 165.3,57.7"/><path stroke="#002eff" d="M300.8,78.7 303.9,76.3M338.0,59.8 338.6,59.8M340.3,59.9 340.9,59.9M378.5,80.3 382.9,83.2M285.0,74.9 288.5,71.9M316.9,59.1 318.1,59.1M321.4,59.3 322.3,59.4M352.7,77.0 356.0,79.6M274.1,72.9 277.6,69.7M304.2,58.3 305.6,58.3M310.0,58.6 311.2,58.8M337.7,74.9 341.1,78.1M265.4,71.3 269.1,67.9M295.4,57.3 297.4,57.4M302.9,58.1 304.5,58.4M327.1,72.8 330.6,76.3M257.8,70.0 261.6,66.5M288.2,56.3 289.7,56.4M294.3,57.1 295.6,57.3M320.4,74.1 323.5,77.3M250.8,69.2 254.4,65.7M298.5,59.2 302.5,61.6M244.4,68.5 247.9,64.9M346.0,91.2 348.8,94.2M238.5,67.9 241.8,64.3M233.0,67.2 236.2,63.7M227.8,66.7 230.7,63.2M222.8,66.3 225.4,62.8M217.9,65.9 220.4,62.5M213.3,65.6 215.5,62.2M208.8,65.4 210.8,62.1M204.4,65.1 206.3,61.8M200.2,64.8 201.8,61.6M196.1,64.7 197.5,61.4M192.0,64.5 193.3,61.3M188.0,64.4 189.1,61.1M184.2,64.2 185.1,61.0M180.3,64.1 181.0,60.9M176.5,64.1 177.1,60.8M172.7,64.0 173.1,60.8M168.9,64.0 169.2,60.8M165.2,64.0 165.3,60.7"/><path stroke="#0044ff" d="M297.6,80.9 300.8,78.7M338.6,59.8 339.0,59.8M340.0,59.9 340.3,59.9M382.9,83.2 387.5,86.0M282.0,77.5 285.0,74.9M318.1,59.1 318.7,59.1M320.8,59.2 321.4,59.3M356.0,79.6 360.0,82.4M271.1,75.7 274.1,72.9M305.6,58.3 306.5,58.3M309.2,58.5 310.0,58.6M341.1,78.1 344.4,80.7M262.4,74.3 265.4,71.3M297.4,57.4 298.5,57.4M301.9,57.9 302.9,58.1M330.6,76.3 333.7,79.2M254.8,73.2 257.8,70.0M289.7,56.4 290.6,56.5M293.5,56.9 294.3,57.1M323.5,77.3 326.4,80.1M247.9,72.4 250.8,69.2M302.5,61.6 305.4,63.7M241.6,71.7 244.4,68.5M348.8,94.2 351.3,97.2M235.8,71.1 238.5,67.9M230.4,70.5 233.0,67.2M225.4,69.9 227.8,66.7M220.5,69.6 222.8,66.3M215.9,69.1 217.9,65.9M211.4,68.9 213.3,65.6M207.0,68.6 208.8,65.4M202.9,68.3 204.4,65.1M198.8,68.1 200.2,64.8M194.8,67.9 196.1,64.7M190.9,67.7 192.0,64.5M187.1,67.6 188.0,64.4M183.4,67.4 184.2,64.2M179.6,67.3 180.3,64.1M176.0,67.3 176.5,64.1M172.3,67.2 172.7,64.0M168.7,67.1 168.9,64.0M165.1,67.1 165.2,64.0"/><path stroke="#005aff" d="M293.7,83.4 297.6,80.9M339.0,59.8 339.2,59.8M339.8,59.9 340.0,59.9M387.5,86.0 392.5,89.0M279.2,79.7 282.0,77.5M318.7,59.1 319.1,59.1M320.4,59.2 320.8,59.2M360.0,82.4 364.4,85.4M268.3,78.2 271.1,75.7M306.5,58.3 307.1,58.3M308.6,58.5 309.2,58.5M344.4,80.7 348.4,83.7M259.6,77.0 262.4,74.3M298.5,57.4 299.1,57.5M301.2,57.8 301.9,57.9M333.7,79.2 337.2,82.1M252.2,76.0 254.8,73.2M290.6,56.5 291.3,56.6M292.8,56.8 293.5,56.9M326.4,80.1 329.9,83.3M245.4,75.2 247.9,72.4M305.4,63.7 307.4,65.4M239.3,74.5 241.6,71.7M351.3,97.2 353.6,100.1M233.6,74.0 235.8,71.1M228.3,73.4 230.4,70.5M223.4,72.9 225.4,69.9M218.6,72.5 220.5,69.6M214.2,72.1 215.9,69.1M209.8,71.8 211.4,68.9M205.5,71.6 207.0,68.6M201.5,71.3 202.9,68.3M197.6,71.1 198.8,68.1M193.7,70.9 194.8,67.9M190.0,70.7 190.9,67.7M186.3,70.6 187.1,67.6M182.6,70.4 183.4,67.4M179.1,70.3 179.6,67.3M175.5,70.3 176.0,67.3M172.0,70.2 172.3,67.2M168.5,70.1 168.7,67.1M165.0,70.1 165.1,67.1"/><path stroke="#006fff" d="M289.8,85.9 293.7,83.4M339.6,59.8 339.8,59.9M392.5,89.0 398.2,92.7M275.9,82.1 279.2,79.7M319.1,59.1 319.4,59.1M320.2,59.2 320.4,59.2M364.4,85.4 368.7,88.2M265.6,80.4 268.3,78.2M307.1,58.3 307.3,58.3M308.3,58.4 308.6,58.5M348.4,83.7 352.4,86.6M257.1,79.3 259.6,77.0M299.1,57.5 299.5,57.5M300.8,57.7 301.2,57.8M337.2,82.1 341.0,85.2M249.7,78.5 252.2,76.0M291.3,56.6 291.5,56.6M292.6,56.8 292.8,56.8M329.9,83.3 333.4,86.3M243.1,77.8 245.4,75.2M307.4,65.4 309.0,66.8M237.0,77.2 239.3,74.5M353.6,100.1 355.7,102.7M231.5,76.6 233.6,74.0M226.4,76.2 228.3,73.4M221.5,75.7 223.4,72.9M216.9,75.3 218.6,72.5M212.5,75.0 214.2,72.1M208.3,74.7 209.8,71.8M204.2,74.5 205.5,71.6M200.3,74.2 201.5,71.3M196.5,73.9 197.6,71.1M192.7,73.8 193.7,70.9M189.1,73.6 190.0,70.7M185.5,73.5 186.3,70.6M182.0,73.3 182.6,70.4M178.6,73.2 179.1,70.3M175.1,73.2 175.5,70.3M171.7,73.1 172.0,70.2M168.3,73.1 168.5,70.1M165.0,73.0 165.0,70.1"/><path stroke="#0085ff" d="M285.9,88.1 289.8,85.9M339.2,59.8 339.4,59.8M398.2,92.7 402.7,96.1M272.3,84.6 275.9,82.1M319.4,59.1 319.6,59.1M320.0,59.1 320.2,59.2M368.7,88.2 374.2,91.9M262.3,82.9 265.6,80.4M307.3,58.3 307.5,58.4M308.1,58.4 308.3,58.4M352.4,86.6 357.2,90.0M254.4,81.6 257.1,79.3M299.5,57.5 299.8,57.6M300.6,57.7 300.8,57.7M341.0,85.2 345.0,88.2M247.4,80.6 249.7,78.5M291.5,56.6 291.7,56.6M292.4,56.7 292.6,56.8M333.4,86.3 337.2,89.4M240.9,80.0 243.1,77.8M309.0,66.8 310.2,68.0M235.0,79.6 237.0,77.2M355.7,102.7 358.0,104.9M229.6,79.1 231.5,76.6M224.6,78.6 226.4,76.2M219.8,78.2 221.5,75.7M215.3,77.9 216.9,75.3M211.1,77.5 212.5,75.0M206.9,77.3 208.3,74.7M202.9,77.1 204.2,74.5M199.1,76.9 200.3,74.2M195.5,76.6 196.5,73.9M191.8,76.5 192.7,73.8M188.3,76.3 189.1,73.6M184.8,76.2 185.5,73.5M181.4,76.0 182.0,73.3M178.1,75.9 178.6,73.2M174.7,75.9 175.1,73.2M171.5,75.8 171.7,73.1M168.2,75.8 168.3,73.1M164.9,75.8 165.0,73.0"/><path stroke="#009bff" d="M280.8,91.2 285.9,88.1M402.7,96.1 406.3,99.3M268.9,86.8 272.3,84.6M319.8,59.1 320.0,59.1M374.2,91.9 378.5,95.4M259.1,85.3 262.3,82.9M307.5,58.4 307.7,58.4M307.9,58.4 308.1,58.4M357.2,90.0 361.6,93.5M251.3,84.1 254.4,81.6M299.8,57.6 300.0,57.6M300.4,57.6 300.6,57.7M345.0,88.2 349.5,91.9M244.6,83.1 247.4,80.6M291.7,56.6 292.0,56.7M292.2,56.7 292.4,56.7M337.2,89.4 341.1,92.9M238.3,82.5 240.9,80.0M310.2,68.0 311.2,69.0M232.7,81.9 235.0,79.6M358.0,104.9 361.0,107.2M227.5,81.4 229.6,79.1M222.7,80.9 224.6,78.6M218.1,80.5 219.8,78.2M213.7,80.3 215.3,77.9M209.6,79.9 211.1,77.5M205.6,79.7 206.9,77.3M201.8,79.5 202.9,77.1M198.0,79.3 199.1,76.9M194.4,79.1 195.5,76.6M190.9,78.9 191.8,76.5M187.5,78.7 188.3,76.3M184.2,78.7 184.8,76.2M180.8,78.6 181.4,76.0M177.6,78.5 178.1,75.9M174.4,78.4 174.7,75.9M171.2,78.3 171.5,75.8M168.0,78.3 168.2,75.8M164.9,78.3 164.9,75.8"/><path stroke="#00b0ff" d="M276.7,94.2 280.8,91.2M406.3,99.3 409.5,102.0M264.8,89.4 268.9,86.8M378.5,95.4 382.1,98.6M256.0,87.5 259.1,85.3M361.6,93.5 365.3,96.8M248.4,86.4 251.3,84.1M349.5,91.9 353.3,95.3M241.8,85.5 244.6,83.1M341.1,92.9 344.4,96.2M235.8,84.8 238.3,82.5M311.2,69.0 311.9,69.7M316.0,74.3 324.3,83.0M230.3,84.3 232.7,81.9M361.0,107.2 364.8,109.8M225.3,83.8 227.5,81.4M220.6,83.4 222.7,80.9M216.3,83.0 218.1,80.5M212.0,82.7 213.7,80.3M208.0,82.4 209.6,79.9M204.2,82.1 205.6,79.7M200.4,82.0 201.8,79.5M196.9,81.7 198.0,79.3M193.4,81.5 194.4,79.1M190.0,81.4 190.9,78.9M186.7,81.2 187.5,78.7M183.5,81.0 184.2,78.7M180.3,81.0 180.8,78.6M177.1,80.9 177.6,78.5M174.0,80.8 174.4,78.4M170.9,80.7 171.2,78.3M167.9,80.8 168.0,78.3M164.8,80.7 164.9,78.3"/><path stroke="#00c6ff" d="M273.1,97.1 276.7,94.2M409.5,102.0 412.2,103.8M260.7,92.3 264.8,89.4M382.1,98.6 385.2,101.4M252.1,90.2 256.0,87.5M365.3,96.8 368.5,99.9M245.2,88.8 248.4,86.4M300.0,57.6 300.4,57.6M353.3,95.3 356.4,98.5M239.2,87.7 241.8,85.5M344.4,96.2 347.2,99.3M233.3,87.2 235.8,84.8M311.9,69.7 312.4,70.2M314.6,72.7 316.0,74.3M324.3,83.0 330.6,88.6M228.0,86.7 230.3,84.3M364.8,109.8 369.2,112.8M223.1,86.2 225.3,83.8M218.6,85.8 220.6,83.4M214.4,85.4 216.3,83.0M210.3,85.1 212.0,82.7M206.5,84.8 208.0,82.4M202.8,84.5 204.2,82.1M199.1,84.3 200.4,82.0M195.7,84.1 196.9,81.7M192.4,83.9 193.4,81.5M189.1,83.7 190.0,81.4M185.9,83.6 186.7,81.2M182.8,83.5 183.5,81.0M179.7,83.4 180.3,81.0M176.6,83.3 177.1,80.9M173.7,83.2 174.0,80.8M170.7,83.2 170.9,80.7M167.7,83.2 167.9,80.8M164.8,83.2 164.8,80.7"/><path stroke="#00dcff" d="M270.0,99.8 273.1,97.1M339.4,59.8 339.6,59.8M412.2,103.8 415.1,105.3M257.2,95.1 260.7,92.3M319.6,59.1 319.8,59.1M385.2,101.4 388.0,103.6M248.7,93.0 252.1,90.2M368.5,99.9 371.3,102.5M241.8,91.5 245.2,88.8M356.4,98.5 359.3,101.5M236.0,90.4 239.2,87.7M347.2,99.3 349.8,102.2M230.5,89.7 233.3,87.2M312.4,70.2 312.7,70.6M314.1,72.1 314.6,72.7M330.6,88.6 335.6,93.5M225.6,89.0 228.0,86.7M369.2,112.8 373.6,116.2M220.9,88.6 223.1,86.2M216.6,88.0 218.6,85.8M212.5,87.7 214.4,85.4M208.6,87.4 210.3,85.1M204.9,87.1 206.5,84.8M201.3,86.8 202.8,84.5M197.9,86.6 199.1,84.3M194.6,86.4 195.7,84.1M191.4,86.2 192.4,83.9M188.2,86.1 189.1,83.7M185.1,86.0 185.9,83.6M182.1,85.9 182.8,83.5M179.1,85.7 179.7,83.4M176.2,85.7 176.6,83.3M173.3,85.6 173.7,83.2M170.4,85.6 170.7,83.2M167.6,85.5 167.7,83.2M164.7,85.6 164.8,83.2"/><path stroke="#0af1ed" d="M267.2,102.1 270.0,99.8M415.1,105.3 419.1,106.7M254.0,97.9 257.2,95.1M388.0,103.6 390.9,105.3M245.6,95.7 248.7,93.0M371.3,102.5 374.0,104.5M238.8,94.2 241.8,91.5M359.3,101.5 361.8,103.7M233.1,93.0 236.0,90.4M349.8,102.2 352.4,104.4M227.9,92.2 230.5,89.7M312.7,70.6 313.0,70.9M313.7,71.7 314.1,72.1M335.6,93.5 339.2,97.5M223.1,91.5 225.6,89.0M373.6,116.2 377.1,119.4M218.6,91.1 220.9,88.6M214.5,90.5 216.6,88.0M210.5,90.2 212.5,87.7M206.8,89.9 208.6,87.4M203.3,89.4 204.9,87.1M199.8,89.3 201.3,86.8M196.5,89.1 197.9,86.6M193.4,88.8 194.6,86.4M190.3,88.6 191.4,86.2M187.2,88.6 188.2,86.1M184.3,88.3 185.1,86.0M181.4,88.2 182.1,85.9M178.5,88.1 179.1,85.7M175.7,88.1 176.2,85.7M172.9,88.0 173.3,85.6M170.1,88.0 170.4,85.6M167.4,87.9 167.6,85.5M164.7,87.8 164.7,85.6"/><path stroke="#1bffdc" d="M264.8,103.8 267.2,102.1M419.1,106.7 424.2,107.9M251.3,100.4 254.0,97.9M390.9,105.3 394.9,106.9M242.7,98.4 245.6,95.7M374.0,104.5 377.4,106.3M236.1,96.8 238.8,94.2M361.8,103.7 364.9,105.7M230.5,95.6 233.1,93.0M352.4,104.4 355.7,106.6M225.4,94.8 227.9,92.2M313.0,70.9 313.0,71.0M313.5,71.6 313.7,71.7M339.2,97.5 342.1,100.9M220.7,94.1 223.1,91.5M377.1,119.4 380.1,122.4M216.4,93.6 218.6,91.1M212.5,93.1 214.5,90.5M208.7,92.7 210.5,90.2M205.1,92.3 206.8,89.9M201.7,92.0 203.3,89.4M198.4,91.7 199.8,89.3M195.2,91.5 196.5,89.1M192.2,91.2 193.4,88.8M189.2,91.1 190.3,88.6M186.3,90.9 187.2,88.6M183.4,90.8 184.3,88.3M180.7,90.6 181.4,88.2M177.9,90.5 178.5,88.1M175.2,90.4 175.7,88.1M172.5,90.4 172.9,88.0M169.9,90.4 170.1,88.0M167.2,90.3 167.4,87.9M164.6,90.3 164.7,87.8"/><path stroke="#2dffca" d="M262.4,105.1 264.8,103.8M424.2,107.9 440.7,110.8 450.9,113.1 458.8,115.8 465.6,119.3M248.9,102.6 251.3,100.4M394.9,106.9 403.6,109.4M240.2,100.9 242.7,98.4M377.4,106.3 383.4,108.7M233.6,99.4 236.1,96.8M364.9,105.7 369.5,108.1M228.1,98.3 230.5,95.6M292.0,56.7 292.2,56.7M355.7,106.6 361.0,109.4M223.1,97.4 225.4,94.8M313.0,71.0 313.1,71.1M313.5,71.5 313.5,71.6M342.1,100.9 344.9,103.8M218.6,96.6 220.7,94.1M380.1,122.4 382.9,125.1M214.4,96.1 216.4,93.6M210.6,95.6 212.5,93.1M207.0,95.1 208.7,92.7M203.5,94.8 205.1,92.3M200.2,94.4 201.7,92.0M197.0,94.2 198.4,91.7M194.0,93.9 195.2,91.5M191.0,93.7 192.2,91.2M188.2,93.5 189.2,91.1M185.4,93.4 186.3,90.9M182.7,93.1 183.4,90.8M180.0,93.0 180.7,90.6M177.3,93.0 177.9,90.5M174.7,92.8 175.2,90.4M172.2,92.8 172.5,90.4M169.6,92.7 169.9,90.4M167.1,92.6 167.2,90.3M164.6,92.7 164.6,90.3"/><path stroke="#3effb9" d="M259.3,106.2 262.4,105.1M465.6,119.3 470.8,122.4M246.5,104.2 248.9,102.6M403.6,109.4 416.4,113.4 424.9,117.3M238.0,102.9 240.2,100.9M383.4,108.7 397.7,114.4M231.3,101.8 233.6,99.4M369.5,108.1 378.6,112.1M225.9,100.7 228.1,98.3M361.0,109.4 368.5,113.5M221.0,99.8 223.1,97.4M313.1,71.1 313.2,71.2M313.4,71.4 313.5,71.5M344.9,103.8 348.5,106.6M216.6,99.2 218.6,96.6M382.9,125.1 385.8,127.9M212.5,98.7 214.4,96.1M208.9,98.0 210.6,95.6M205.3,97.5 207.0,95.1M202.0,97.2 203.5,94.8M198.8,96.8 200.2,94.4M195.8,96.6 197.0,94.2M192.8,96.3 194.0,93.9M190.0,96.0 191.0,93.7M187.2,95.9 188.2,93.5M184.5,95.7 185.4,93.4M181.9,95.6 182.7,93.1M179.3,95.4 180.0,93.0M176.8,95.2 177.3,93.0M174.3,95.2 174.7,92.8M171.8,95.1 172.2,92.8M169.4,95.1 169.6,92.7M166.9,95.1 167.1,92.6M164.5,95.0 164.6,92.7"/><path stroke="#50ffa7" d="M255.8,107.2 259.3,106.2M470.8,122.4 475.5,125.2M244.0,105.5 246.5,104.2M424.9,117.3 430.8,121.0M235.6,104.5 238.0,102.9M397.7,114.4 405.8,119.2M229.2,103.6 231.3,101.8M378.6,112.1 387.4,117.1M223.8,102.8 225.9,100.7M368.5,113.5 375.0,117.8M219.0,102.2 221.0,99.8M348.5,106.6 356.0,111.1M214.7,101.6 216.6,99.2M385.8,127.9 388.8,130.7M210.8,101.0 212.5,98.7M207.2,100.5 208.9,98.0M203.7,100.1 205.3,97.5M200.5,99.7 202.0,97.2M197.5,99.2 198.8,96.8M194.5,99.0 195.8,96.6M191.7,98.7 192.8,96.3M189.0,98.4 190.0,96.0M186.3,98.3 187.2,95.9M183.7,98.1 184.5,95.7M181.2,97.9 181.9,95.6M178.7,97.8 179.3,95.4M176.3,97.6 176.8,95.2M173.9,97.5 174.3,95.2M171.5,97.5 171.8,95.1M169.1,97.4 169.4,95.1M166.8,97.4 166.9,95.1M164.5,97.4 164.5,95.0"/><path stroke="#61ff96" d="M280.4,112.3 287.6,113.4 293.8,115.0 299.7,117.2 305.7,120.2M252.3,108.0 255.8,107.2M475.5,125.2 480.3,127.8M240.9,106.8 244.0,105.5M430.8,121.0 435.3,123.9M233.0,106.0 235.6,104.5M405.8,119.2 410.2,122.3M226.9,105.2 229.2,103.6M387.4,117.1 392.3,120.7M221.8,104.5 223.8,102.8M375.0,117.8 379.0,121.1M217.1,104.0 219.0,102.2M313.2,71.2 313.4,71.4M356.0,111.1 363.6,116.2M212.9,103.6 214.7,101.6M388.8,130.7 391.9,133.4M209.0,103.2 210.8,101.0M205.6,102.7 207.2,100.5M202.3,102.3 203.7,100.1M199.1,102.1 200.5,99.7M196.2,101.6 197.5,99.2M193.3,101.3 194.5,99.0M190.6,101.0 191.7,98.7M188.0,100.8 189.0,98.4M185.4,100.6 186.3,98.3M182.9,100.4 183.7,98.1M180.5,100.3 181.2,97.9M178.1,100.1 178.7,97.8M175.8,100.0 176.3,97.6M173.5,99.9 173.9,97.5M171.2,99.9 171.5,97.5M168.9,99.8 169.1,97.4M166.7,99.7 166.8,97.4M164.4,99.8 164.5,97.4"/><path stroke="#73ff84" d="M264.0,111.2 280.4,112.3M305.7,120.2 311.3,123.3M247.8,108.8 252.3,108.0M480.3,127.8 485.6,130.6M237.4,107.9 240.9,106.8M435.3,123.9 439.7,126.7M229.9,107.3 233.0,106.0M410.2,122.3 414.4,125.2M224.2,106.7 226.9,105.2M392.3,120.7 396.3,123.8M219.3,106.2 221.8,104.5M379.0,121.1 382.6,124.2M215.0,105.7 217.1,104.0M363.6,116.2 368.3,120.2M211.0,105.3 212.9,103.6M391.9,133.4 395.1,136.4M207.3,105.0 209.0,103.2M203.9,104.7 205.6,102.7M200.7,104.4 202.3,102.3M197.7,104.0 199.1,102.1M194.9,103.7 196.2,101.6M192.1,103.6 193.3,101.3M189.5,103.3 190.6,101.0M187.0,103.1 188.0,100.8M184.5,103.0 185.4,100.6M182.2,102.7 182.9,100.4M179.8,102.6 180.5,100.3M177.5,102.4 178.1,100.1M175.3,102.4 175.8,100.0M173.1,102.2 173.5,99.9M170.9,102.2 171.2,99.9M168.7,102.1 168.9,99.8M166.5,102.1 166.7,99.7M164.4,102.1 164.4,99.8"/><path stroke="#84ff73" d="M253.1,111.3 264.0,111.2M311.3,123.3 316.3,126.0M241.4,109.8 247.8,108.8M485.6,130.6 491.5,133.6M232.8,109.2 237.4,107.9M439.7,126.7 444.4,129.5M226.4,108.7 229.9,107.3M414.4,125.2 418.6,128.0M221.1,108.2 224.2,106.7M396.3,123.8 400.0,126.6M216.5,107.8 219.3,106.2M382.6,124.2 386.2,127.1M212.4,107.4 215.0,105.7M368.3,120.2 371.8,123.4M208.5,107.2 211.0,105.3M395.1,136.4 398.3,139.6M205.1,106.8 207.3,105.0M201.9,106.6 203.9,104.7M199.0,106.2 200.7,104.4M196.0,106.1 197.7,104.0M193.4,105.8 194.9,103.7M190.7,105.7 192.1,103.6M188.3,105.4 189.5,103.3M185.9,105.2 187.0,103.1M183.5,105.1 184.5,103.0M181.3,104.9 182.2,102.7M179.0,104.8 179.8,102.6M176.9,104.7 177.5,102.4M174.7,104.6 175.3,102.4M172.6,104.5 173.1,102.2M170.5,104.4 170.9,102.2M168.5,104.3 168.7,102.1M166.4,104.3 166.5,102.1M164.3,104.4 164.4,102.1"/><path stroke="#96ff61" d="M244.8,111.8 253.1,111.3M316.3,126.0 321.7,128.6M234.8,111.1 241.4,109.8M491.5,133.6 497.7,137.0M227.5,110.7 232.8,109.2M444.4,129.5 449.5,132.4M221.8,110.3 226.4,108.7M418.6,128.0 423.1,130.9M217.1,109.9 221.1,108.2M400.0,126.6 404.1,129.5M213.1,109.5 216.5,107.8M386.2,127.1 390.0,130.0M209.4,109.2 212.4,107.4M371.8,123.4 375.2,126.4M205.8,109.0 208.5,107.2M398.3,139.6 400.9,142.5M202.7,108.7 205.1,106.8M199.8,108.4 201.9,106.6M197.0,108.2 199.0,106.2M194.2,108.1 196.0,106.1M191.8,107.7 193.4,105.8M189.3,107.6 190.7,105.7M187.0,107.4 188.3,105.4M184.7,107.3 185.9,105.2M182.5,107.1 183.5,105.1M180.3,107.0 181.3,104.9M178.2,107.0 179.0,104.8M176.2,106.8 176.9,104.7M174.1,106.8 174.7,104.6M172.1,106.7 172.6,104.5M170.1,106.6 170.5,104.4M168.2,106.5 168.5,104.3M166.2,106.5 166.4,104.3M164.3,106.5 164.3,104.4"/><path stroke="#a7ff50" d="M237.0,112.7 244.8,111.8M321.7,128.6 327.5,131.3M228.4,112.5 234.8,111.1M497.7,137.0 503.7,141.0M222.2,112.3 227.5,110.7M449.5,132.4 455.1,135.7M217.3,112.0 221.8,110.3M423.1,130.9 428.0,134.0M213.1,111.8 217.1,109.9M404.1,129.5 408.5,132.6M209.5,111.4 213.1,109.5M390.0,130.0 393.9,133.0M206.1,111.2 209.4,109.2M375.2,126.4 378.9,129.6M203.0,110.9 205.8,109.0M400.9,142.5 403.3,145.3M200.0,110.7 202.7,108.7M197.4,110.4 199.8,108.4M194.8,110.2 197.0,108.2M192.3,110.1 194.2,108.1M190.0,109.8 191.8,107.7M187.7,109.7 189.3,107.6M185.5,109.5 187.0,107.4M183.4,109.4 184.7,107.3M181.3,109.3 182.5,107.1M179.3,109.1 180.3,107.0M177.4,108.9 178.2,107.0M175.4,108.9 176.2,106.8M173.5,108.8 174.1,106.8M171.6,108.7 172.1,106.7M169.7,108.8 170.1,106.6M167.9,108.7 168.2,106.5M166.1,108.6 166.2,106.5M164.2,108.7 164.3,106.5"/><path stroke="#b9ff3e" d="M225.3,115.3 230.8,113.8 237.0,112.7M327.5,131.3 334.4,134.5M220.6,114.8 228.4,112.5M503.7,141.0 507.6,143.9M216.3,114.5 222.2,112.3M455.1,135.7 460.9,139.5M212.5,114.1 217.3,112.0M428.0,134.0 433.1,137.5M209.1,113.8 213.1,111.8M408.5,132.6 413.1,135.8M205.9,113.4 209.5,111.4M393.9,133.0 398.1,136.2M202.9,113.1 206.1,111.2M378.9,129.6 382.9,132.9M200.2,112.8 203.0,110.9M403.3,145.3 405.8,148.0M197.5,112.6 200.0,110.7M195.1,112.4 197.4,110.4M192.7,112.2 194.8,110.2M190.4,112.1 192.3,110.1M188.3,111.8 190.0,109.8M186.1,111.7 187.7,109.7M184.1,111.6 185.5,109.5M182.1,111.4 183.4,109.4M180.2,111.3 181.3,109.3M178.3,111.1 179.3,109.1M176.5,111.1 177.4,108.9M174.6,111.1 175.4,108.9M172.8,111.0 173.5,108.8M171.1,110.8 171.6,108.7M169.3,110.9 169.7,108.8M167.6,110.8 167.9,108.7M165.9,110.7 166.1,108.6M164.2,110.8 164.2,108.7"/><path stroke="#caff2d" d="M218.0,118.3 225.3,115.3M334.4,134.5 341.7,138.2M214.5,117.5 220.6,114.8M507.6,143.9 511.2,146.6M211.1,117.0 216.3,114.5M460.9,139.5 465.0,142.8M208.0,116.5 212.5,114.1M433.1,137.5 437.8,141.1M205.1,116.0 209.1,113.8M413.1,135.8 417.7,139.3M202.5,115.6 205.9,113.4M398.1,136.2 402.3,139.8M199.8,115.3 202.9,113.1M382.9,132.9 386.8,136.2M197.4,115.0 200.2,112.8M405.8,148.0 408.4,151.0M195.0,114.7 197.5,112.6M192.8,114.4 195.1,112.4M190.6,114.2 192.7,112.2M188.6,114.0 190.4,112.1M186.6,113.8 188.3,111.8M184.6,113.7 186.1,111.7M182.7,113.6 184.1,111.6M180.8,113.5 182.1,111.4M179.1,113.3 180.2,111.3M177.3,113.2 178.3,111.1M175.6,113.1 176.5,111.1M173.9,113.0 174.6,111.1M172.2,113.0 172.8,111.0M170.6,113.0 171.1,110.8M169.0,112.9 169.3,110.9M167.3,112.9 167.6,110.8M165.7,112.7 165.9,110.7M164.1,112.8 164.2,110.8"/><path stroke="#dcff1b" d="M213.9,120.5 218.0,118.3M341.7,138.2 347.4,141.9M210.4,119.8 214.5,117.5M511.2,146.6 515.4,149.7M207.2,119.3 211.1,117.0M465.0,142.8 468.4,145.6M204.3,118.8 208.0,116.5M307.7,58.4 307.9,58.4M437.8,141.1 441.2,144.1M201.7,118.4 205.1,116.0M417.7,139.3 421.2,142.6M199.4,117.8 202.5,115.6M402.3,139.8 405.4,142.9M197.1,117.4 199.8,115.3M386.8,136.2 390.7,139.8M194.8,117.1 197.4,115.0M408.4,151.0 410.6,153.5M192.7,116.9 195.0,114.7M190.6,116.6 192.8,114.4M188.7,116.3 190.6,114.2M186.8,116.1 188.6,114.0M184.9,115.9 186.6,113.8M183.2,115.7 184.6,113.7M181.4,115.6 182.7,113.6M179.7,115.5 180.8,113.5M178.0,115.4 179.1,113.3M176.4,115.3 177.3,113.2M174.8,115.2 175.6,113.1M173.2,115.1 173.9,113.0M171.6,115.1 172.2,113.0M170.1,114.9 170.6,113.0M168.6,114.9 169.0,112.9M167.1,114.9 167.3,112.9M165.6,114.9 165.7,112.7M164.1,114.8 164.1,112.8"/><path stroke="#edff0a" d="M210.1,122.5 213.9,120.5M347.4,141.9 351.5,144.9M206.9,121.9 210.4,119.8M515.4,149.7 518.9,152.4M204.0,121.4 207.2,119.3M468.4,145.6 472.1,148.4M201.3,120.9 204.3,118.8M441.2,144.1 444.5,146.9M198.9,120.4 201.7,118.4M421.2,142.6 424.4,145.5M196.8,119.9 199.4,117.8M405.4,142.9 408.3,145.8M194.6,119.6 197.1,117.4M390.7,139.8 393.7,143.0M192.5,119.3 194.8,117.1M410.6,153.5 413.3,156.0M190.5,119.0 192.7,116.9M188.6,118.8 190.6,116.6M186.8,118.5 188.7,116.3M185.1,118.2 186.8,116.1M183.4,118.0 184.9,115.9M181.7,117.9 183.2,115.7M180.2,117.6 181.4,115.6M178.6,117.5 179.7,115.5M177.0,117.4 178.0,115.4M175.5,117.4 176.4,115.3M174.0,117.3 174.8,115.2M172.5,117.2 173.2,115.1M171.1,117.0 171.6,115.1M169.7,116.9 170.1,114.9M168.2,116.9 168.6,114.9M166.8,116.9 167.1,114.9M165.4,116.9 165.6,114.9M164.0,116.9 164.1,114.8"/><path stroke="#ffed00" d="M206.7,124.4 210.1,122.5M351.5,144.9 355.5,147.6M203.7,123.9 206.9,121.9M518.9,152.4 522.0,154.4M201.0,123.3 204.0,121.4M472.1,148.4 476.0,151.6M198.7,122.8 201.3,120.9M444.5,146.9 448.2,150.0M196.4,122.4 198.9,120.4M424.4,145.5 427.6,148.4M194.3,122.0 196.8,119.9M408.3,145.8 411.4,148.8M192.3,121.7 194.6,119.6M393.7,143.0 396.5,146.0M190.4,121.3 192.5,119.3M413.3,156.0 416.3,158.5M188.6,121.0 190.5,119.0M186.9,120.7 188.6,118.8M185.2,120.5 186.8,118.5M183.6,120.3 185.1,118.2M182.1,120.0 183.4,118.0M180.5,119.9 181.7,117.9M179.0,119.7 180.2,117.6M177.5,119.6 178.6,117.5M176.1,119.4 177.0,117.4M174.7,119.3 175.5,117.4M173.3,119.2 174.0,117.3M171.9,119.2 172.5,117.2M170.6,119.1 171.1,117.0M169.2,119.0 169.7,116.9M167.9,119.0 168.2,116.9M166.6,119.0 166.8,116.9M165.3,118.9 165.4,116.9M164.0,118.8 164.0,116.9"/><path stroke="#ffd800" d="M203.5,126.1 206.7,124.4M355.5,147.6 360.1,150.8M200.8,125.6 203.7,123.9M522.0,154.4 526.2,156.5M198.3,125.1 201.0,123.3M476.0,151.6 478.9,153.8M196.0,124.7 198.7,122.8M448.2,150.0 451.2,152.7M193.9,124.3 196.4,122.4M427.6,148.4 431.0,151.6M192.1,123.9 194.3,122.0M411.4,148.8 414.4,151.8M190.2,123.5 192.3,121.7M396.5,146.0 399.5,149.1M188.4,123.3 190.4,121.3M416.3,158.5 419.7,161.2M186.8,123.0 188.6,121.0M185.2,122.7 186.9,120.7M183.7,122.4 185.2,120.5M182.2,122.2 183.6,120.3M180.7,122.0 182.1,120.0M179.2,121.9 180.5,119.9M177.9,121.7 179.0,119.7M176.5,121.6 177.5,119.6M175.2,121.5 176.1,119.4M173.9,121.4 174.7,119.3M172.6,121.3 173.3,119.2M171.3,121.1 171.9,119.2M170.1,121.0 170.6,119.1M168.8,121.0 169.2,119.0M167.6,121.0 167.9,119.0M166.4,121.0 166.6,119.0M165.1,120.9 165.3,118.9M163.9,120.9 164.0,118.8"/><path stroke="#ffc400" d="M200.3,127.7 203.5,126.1M360.1,150.8 363.4,153.1M197.8,127.2 200.8,125.6M526.2,156.5 531.4,158.7M195.5,126.8 198.3,125.1M478.9,153.8 482.5,155.9M193.5,126.4 196.0,124.7M451.2,152.7 454.4,155.0M191.6,126.1 193.9,124.3M431.0,151.6 433.7,153.9M189.9,125.7 192.1,123.9M414.4,151.8 417.0,154.2M188.2,125.4 190.2,123.5M399.5,149.1 402.3,152.1M186.6,125.1 188.4,123.3M419.7,161.2 423.3,163.8M185.0,124.9 186.8,123.0M183.5,124.6 185.2,122.7M182.1,124.4 183.7,122.4M180.7,124.2 182.2,122.2M179.4,124.0 180.7,122.0M178.1,123.8 179.2,121.9M176.8,123.6 177.9,121.7M175.5,123.6 176.5,121.6M174.3,123.5 175.2,121.5M173.1,123.3 173.9,121.4M171.9,123.2 172.6,121.3M170.7,123.1 171.3,121.1M169.6,123.0 170.1,121.0M168.4,123.0 168.8,121.0M167.3,122.9 167.6,121.0M166.1,122.8 166.4,121.0M165.0,122.9 165.1,120.9M163.9,122.9 163.9,120.9"/><path stroke="#ffb000" d="M197.1,129.2 200.3,127.7M363.4,153.1 366.9,155.0M194.9,128.8 197.8,127.2M531.4,158.7 538.0,161.1M192.8,128.4 195.5,126.8M482.5,155.9 487.3,158.3M191.0,128.1 193.5,126.4M454.4,155.0 458.4,157.4M189.3,127.8 191.6,126.1M433.7,153.9 437.2,156.3M187.8,127.4 189.9,125.7M417.0,154.2 420.4,156.7M186.1,127.2 188.2,125.4M402.3,152.1 405.0,154.7M184.8,126.8 186.6,125.1M423.3,163.8 425.6,165.5M183.3,126.7 185.0,124.9M182.0,126.4 183.5,124.6M180.6,126.2 182.1,124.4M179.4,126.0 180.7,124.2M178.1,125.9 179.4,124.0M177.0,125.6 178.1,123.8M175.7,125.6 176.8,123.6M174.6,125.4 175.5,123.6M173.5,125.3 174.3,123.5M172.4,125.2 173.1,123.3M171.2,125.1 171.9,123.2M170.2,125.0 170.7,123.1M169.1,125.0 169.6,123.0M168.0,124.9 168.4,123.0M167.0,124.8 167.3,122.9M165.9,124.8 166.1,122.8M164.9,124.8 165.0,122.9M163.8,124.7 163.9,122.9"/><path stroke="#ff9c00" d="M193.9,130.7 197.1,129.2M366.9,155.0 371.3,156.8M191.9,130.3 194.9,128.8M538.0,161.1 545.7,163.5M190.1,130.0 192.8,128.4M487.3,158.3 493.0,160.8M188.6,129.7 191.0,128.1M458.4,157.4 463.4,159.9M187.0,129.4 189.3,127.8M437.2,156.3 441.4,158.9M185.6,129.1 187.8,127.4M420.4,156.7 424.4,159.4M184.2,128.8 186.1,127.2M405.0,154.7 408.5,157.4M182.9,128.6 184.8,126.8M181.6,128.4 183.3,126.7M180.4,128.1 182.0,126.4M179.2,127.9 180.6,126.2M178.1,127.7 179.4,126.0M176.9,127.6 178.1,125.9M175.8,127.4 177.0,125.6M174.8,127.3 175.7,125.6M173.7,127.2 174.6,125.4M172.6,127.1 173.5,125.3M171.6,127.0 172.4,125.2M170.6,126.8 171.2,125.1M169.6,126.9 170.2,125.0M168.6,126.8 169.1,125.0M167.7,126.7 168.0,124.9M166.7,126.7 167.0,124.8M165.7,126.6 165.9,124.8M164.7,126.7 164.9,124.8M163.8,126.6 163.8,124.7"/><path stroke="#ff8800" d="M191.0,132.0 193.9,130.7M371.3,156.8 376.6,158.7M189.2,131.7 191.9,130.3M545.7,163.5 552.6,165.4M187.6,131.5 190.1,130.0M493.0,160.8 500.0,163.5M186.2,131.2 188.6,129.7M463.4,159.9 469.3,162.7M184.8,130.9 187.0,129.4M441.4,158.9 446.4,161.7M183.5,130.7 185.6,129.1M424.4,159.4 429.1,162.3M182.3,130.4 184.2,128.8M408.5,157.4 412.5,160.3M181.1,130.2 182.9,128.6M179.9,130.1 181.6,128.4M178.9,129.8 180.4,128.1M177.8,129.6 179.2,127.9M176.7,129.5 178.1,127.7M175.7,129.3 176.9,127.6M174.7,129.2 175.8,127.4M173.8,129.0 174.8,127.3M172.8,129.0 173.7,127.2M171.9,128.8 172.6,127.1M170.9,128.8 171.6,127.0M170.0,128.7 170.6,126.8M169.1,128.6 169.6,126.9M168.2,128.6 168.6,126.8M167.3,128.4 167.7,126.7M166.4,128.5 166.7,126.7M165.5,128.4 165.7,126.6M164.6,128.5 164.7,126.7M163.7,128.4 163.8,126.6"/><path stroke="#ff7400" d="M188.0,133.4 191.0,132.0M376.6,158.7 383.1,160.6M186.5,133.1 189.2,131.7M185.1,132.9 187.6,131.5M500.0,163.5 505.3,165.4M183.9,132.6 186.2,131.2M469.3,162.7 475.5,165.5M182.6,132.4 184.8,130.9M446.4,161.7 452.0,164.6M181.5,132.2 183.5,130.7M429.1,162.3 434.1,165.2M180.4,132.0 182.3,130.4M412.5,160.3 417.1,163.4M179.4,131.8 181.1,130.2M178.4,131.6 179.9,130.1M177.4,131.4 178.9,129.8M176.4,131.2 177.8,129.6M175.4,131.1 176.7,129.5M174.5,131.0 175.7,129.3M173.6,130.9 174.7,129.2M172.8,130.7 173.8,129.0M171.9,130.6 172.8,129.0M171.1,130.5 171.9,128.8M170.2,130.5 170.9,128.8M169.3,130.4 170.0,128.7M168.6,130.2 169.1,128.6M167.7,130.2 168.2,128.6M166.9,130.2 167.3,128.4M166.1,130.1 166.4,128.5M165.3,130.2 165.5,128.4M164.5,130.1 164.6,128.5M163.7,130.1 163.7,128.4"/><path stroke="#ff6000" d="M185.1,134.7 188.0,133.4M383.1,160.6 390.3,162.3M184.0,134.4 186.5,133.1M182.7,134.3 185.1,132.9M181.6,134.1 183.9,132.6M180.6,133.8 182.6,132.4M452.0,164.6 453.6,165.4M179.6,133.6 181.5,132.2M434.1,165.2 434.6,165.5M178.6,133.5 180.4,132.0M417.1,163.4 420.2,165.4M177.7,133.3 179.4,131.8M176.8,133.1 178.4,131.6M175.9,133.0 177.4,131.4M175.1,132.8 176.4,131.2M174.2,132.7 175.4,131.1M173.4,132.6 174.5,131.0M172.6,132.5 173.6,130.9M171.8,132.3 172.8,130.7M171.1,132.2 171.9,130.6M170.3,132.2 171.1,130.5M169.5,132.1 170.2,130.5M168.8,132.0 169.3,130.4M168.1,131.9 168.6,130.2M167.3,131.9 167.7,130.2M166.6,131.9 166.9,130.2M165.8,131.8 166.1,130.1M165.1,131.7 165.3,130.2M164.4,131.8 164.5,130.1M163.7,131.8 163.7,130.1"/><path stroke="#ff4c00" d="M182.6,136.0 185.1,134.7M390.3,162.3 397.8,163.9M181.5,135.8 184.0,134.4M180.5,135.6 182.7,134.3M179.5,135.4 181.6,134.1M178.7,135.2 180.6,133.8M177.8,135.0 179.6,133.6M177.0,134.9 178.6,133.5M176.1,134.7 177.7,133.3M175.3,134.6 176.8,133.1M174.6,134.4 175.9,133.0M173.8,134.3 175.1,132.8M173.1,134.2 174.2,132.7M172.4,134.0 173.4,132.6M171.6,134.0 172.6,132.5M171.0,133.8 171.8,132.3M170.3,133.7 171.1,132.2M169.6,133.6 170.3,132.2M168.9,133.6 169.5,132.1M168.2,133.5 168.8,132.0M167.5,133.5 168.1,131.9M166.9,133.4 167.3,131.9M166.2,133.4 166.6,131.9M165.6,133.3 165.8,131.8M164.9,133.4 165.1,131.7M164.3,133.3 164.4,131.8M163.6,133.3 163.7,131.8"/><path stroke="#ff3800" d="M180.2,137.2 182.6,136.0M397.8,163.9 406.0,165.4M179.3,137.0 181.5,135.8M178.4,136.9 180.5,135.6M177.6,136.7 179.5,135.4M176.8,136.5 178.7,135.2M176.1,136.3 177.8,135.0M175.3,136.2 177.0,134.9M174.7,136.1 176.1,134.7M174.0,135.9 175.3,134.6M173.3,135.8 174.6,134.4M172.6,135.8 173.8,134.3M172.0,135.6 173.1,134.2M171.4,135.4 172.4,134.0M170.7,135.4 171.6,134.0M170.1,135.3 171.0,133.8M169.5,135.2 170.3,133.7M168.9,135.2 169.6,133.6M168.3,135.1 168.9,133.6M167.7,135.0 168.2,133.5M167.1,135.0 167.5,133.5M166.5,134.9 166.9,133.4M165.9,134.9 166.2,133.4M165.3,134.8 165.6,133.3M164.8,134.8 164.9,133.4M164.2,134.9 164.3,133.3M163.6,134.9 163.6,133.3"/><path stroke="#ff2400" d="M177.8,138.5 180.2,137.2M177.2,138.3 179.3,137.0M176.5,138.1 178.4,136.9M175.8,138.0 177.6,136.7M175.1,137.8 176.8,136.5M174.5,137.7 176.1,136.3M173.9,137.5 175.3,136.2M173.3,137.4 174.7,136.1M172.6,137.3 174.0,135.9M172.1,137.1 173.3,135.8M171.5,137.1 172.6,135.8M170.9,137.0 172.0,135.6M170.4,136.9 171.4,135.4M169.9,136.8 170.7,135.4M169.3,136.7 170.1,135.3M168.8,136.6 169.5,135.2M168.2,136.6 168.9,135.2M167.7,136.4 168.3,135.1M167.2,136.4 167.7,135.0M166.7,136.3 167.1,135.0M166.1,136.4 166.5,134.9M165.6,136.3 165.9,134.9M165.1,136.3 165.3,134.8M164.6,136.3 164.8,134.8M164.1,136.3 164.2,134.9M163.6,136.2 163.6,134.9"/><path stroke="#fb0f00" d="M175.7,139.8 177.8,138.5M175.2,139.6 177.2,138.3M174.6,139.4 176.5,138.1M174.0,139.3 175.8,138.0M173.6,139.1 175.1,137.8M173.0,139.0 174.5,137.7M172.5,138.8 173.9,137.5M172.0,138.6 173.3,137.4M171.5,138.6 172.6,137.3M171.0,138.4 172.1,137.1M170.5,138.3 171.5,137.1M170.0,138.2 170.9,137.0M169.5,138.1 170.4,136.9M169.0,138.1 169.9,136.8M168.6,138.0 169.3,136.7M168.1,138.0 168.8,136.6M167.6,137.9 168.2,136.6M167.2,137.8 167.7,136.4M166.7,137.7 167.2,136.4M166.2,137.8 166.7,136.3M165.8,137.7 166.1,136.4M165.3,137.6 165.6,136.3M164.9,137.7 165.1,136.3M164.4,137.6 164.6,136.3M164.0,137.6 164.1,136.3M163.5,137.6 163.6,136.2"/><path stroke="#e20000" d="M173.9,141.0 175.7,139.8M173.5,140.8 175.2,139.6M173.0,140.7 174.6,139.4M172.5,140.5 174.0,139.3M172.1,140.4 173.6,139.1M171.7,140.2 173.0,139.0M171.2,140.1 172.5,138.8M170.8,139.9 172.0,138.6M170.4,139.8 171.5,138.6M169.9,139.7 171.0,138.4M169.5,139.6 170.5,138.3M169.2,139.5 170.0,138.2M168.7,139.4 169.5,138.1M168.3,139.4 169.0,138.1M167.9,139.2 168.6,138.0M167.5,139.2 168.1,138.0M167.1,139.1 167.6,137.9M166.7,139.1 167.2,137.8M166.3,139.0 166.7,137.7M165.9,139.0 166.2,137.8M165.5,139.0 165.8,137.7M165.1,138.9 165.3,137.6M164.7,138.9 164.9,137.7M164.3,138.8 164.4,137.6M163.9,138.9 164.0,137.6M163.5,138.9 163.5,137.6"/><path stroke="#c90000" d="M172.4,142.1 173.9,141.0M172.0,142.0 173.5,140.8M171.6,141.8 173.0,140.7M171.2,141.7 172.5,140.5M170.8,141.5 172.1,140.4M170.5,141.3 171.7,140.2M170.2,141.2 171.2,140.1M169.8,141.1 170.8,139.9M169.4,141.0 170.4,139.8M169.1,140.9 169.9,139.7M168.7,140.8 169.5,139.6M168.4,140.7 169.2,139.5M168.0,140.6 168.7,139.4M167.7,140.5 168.3,139.4M167.3,140.5 167.9,139.2M166.9,140.4 167.5,139.2M166.6,140.4 167.1,139.1M166.2,140.3 166.7,139.1M165.9,140.2 166.3,139.0M165.6,140.1 165.9,139.0M165.2,140.2 165.5,139.0M164.8,140.2 165.1,138.9M164.5,140.1 164.7,138.9M164.2,140.1 164.3,138.8M163.8,140.1 163.9,138.9M163.5,140.1 163.5,138.9"/><path stroke="#b10000" d="M171.0,143.1 172.4,142.1M170.7,143.0 172.0,142.0M170.4,142.8 171.6,141.8M170.1,142.6 171.2,141.7M169.8,142.5 170.8,141.5M169.4,142.4 170.5,141.3M169.2,142.3 170.2,141.2M168.8,142.2 169.8,141.1M168.6,142.0 169.4,141.0M168.2,142.0 169.1,140.9M167.9,141.9 168.7,140.8M167.6,141.8 168.4,140.7M167.3,141.7 168.0,140.6M167.0,141.6 167.7,140.5M166.7,141.6 167.3,140.5M166.4,141.5 166.9,140.4M166.1,141.4 166.6,140.4M165.8,141.4 166.2,140.3M165.5,141.4 165.9,140.2M165.2,141.3 165.6,140.1M164.9,141.3 165.2,140.2M164.6,141.3 164.8,140.2M164.3,141.2 164.5,140.1M164.0,141.2 164.2,140.1M163.7,141.2 163.8,140.1M163.4,141.2 163.5,140.1M209.0,165.4 209.2,165.4"/><path stroke="#980000" d="M169.8,144.0 171.0,143.1M169.5,143.9 170.7,143.0M169.3,143.7 170.4,142.8M169.0,143.6 170.1,142.6M168.8,143.4 169.8,142.5M168.5,143.4 169.4,142.4M168.3,143.2 169.2,142.3M168.1,143.1 168.8,142.2M167.7,143.0 168.6,142.0M167.5,142.9 168.2,142.0M167.3,142.8 167.9,141.9M167.0,142.8 167.6,141.8M166.7,142.7 167.3,141.7M166.5,142.6 167.0,141.6M166.2,142.6 166.7,141.6M166.0,142.5 166.4,141.5M165.7,142.5 166.1,141.4M165.5,142.4 165.8,141.4M165.2,142.3 165.5,141.4M165.0,142.3 165.2,141.3M164.7,142.4 164.9,141.3M164.4,142.3 164.6,141.3M164.2,142.3 164.3,141.2M163.9,142.3 164.0,141.2M163.7,142.3 163.7,141.2M163.4,142.3 163.4,141.2M191.2,161.3 209.0,165.4M198.0,164.7 200.6,165.4"/><path stroke="#800000" d="M163.3,148.4 169.8,144.0M163.3,148.4 169.5,143.9M163.3,148.4 169.3,143.7M163.3,148.4 169.0,143.6M163.3,148.4 168.8,143.4M163.3,148.4 168.5,143.4M163.3,148.4 168.3,143.2M163.3,148.4 168.1,143.1M163.3,148.4 167.7,143.0M163.3,148.4 167.5,142.9M163.3,148.4 167.3,142.8M163.3,148.4 167.0,142.8M163.3,148.4 166.7,142.7M163.3,148.4 166.5,142.6M163.3,148.4 166.2,142.6M163.3,148.4 166.0,142.5M163.3,148.4 165.7,142.5M163.3,148.4 165.5,142.4M163.3,148.4 165.2,142.3M163.3,148.4 165.0,142.3M163.3,148.4 164.7,142.4M163.3,148.4 164.4,142.3M163.3,148.4 164.2,142.3M163.3,148.4 163.9,142.3M163.3,148.4 163.7,142.3M163.3,148.4 163.4,142.3M163.3,148.4 169.5,152.9 174.3,155.5 181.9,158.5 191.2,161.3M163.3,148.4 169.5,153.2 175.7,156.6 185.5,160.6 198.0,164.7M163.3,148.4 169.1,153.2 174.7,156.6 183.6,160.8 195.4,165.4M163.3,148.4 168.6,153.1 173.5,156.4 181.2,160.6 191.7,165.5M163.3,148.4 168.1,153.0 172.4,156.2 179.2,160.4 188.7,165.5M163.3,148.4 167.7,152.9 171.6,156.1 186.2,165.5M163.3,148.4 167.5,152.9 170.8,155.9 184.1,165.5M163.3,148.4 170.2,155.9 182.2,165.4M163.3,148.4 169.7,155.9 180.6,165.5M163.3,148.4 169.1,155.7 179.1,165.4M163.3,148.4 168.6,155.7 177.7,165.4M163.3,148.4 168.2,155.7 176.5,165.4M163.3,148.4 167.7,155.6 175.4,165.5M163.3,148.4 167.3,155.6 174.2,165.4M163.3,148.4 167.0,155.6 173.2,165.5M163.3,148.4 166.6,155.6 172.1,165.5M163.3,148.4 166.2,155.6 171.2,165.5M163.3,148.4 165.9,155.6 170.2,165.5M163.3,148.4 165.5,155.5 169.3,165.4M163.3,148.4 168.5,165.5M163.3,148.4 167.6,165.5M163.3,148.4 166.8,165.5M163.3,148.4 165.9,165.5M163.3,148.4 165.1,165.5M163.3,148.4 164.3,165.4M163.3,148.4 163.5,165.5"/></g></defs><g clip-path="url(#ca)" fill="none" stroke="#000"><path d="M108.50,27.40C104.62,30.52 90.45,42.23 85.20,46.10C79.95,49.97 79.53,49.22 77.00,50.60C74.47,51.98 72.50,53.27 70.00,54.40C67.50,55.53 64.67,56.37 62.00,57.40C59.33,58.43 56.25,59.45 54.00,60.60C51.75,61.75 50.00,62.98 48.50,64.30C47.00,65.62 45.72,67.22 45.00,68.50C44.28,69.78 44.12,70.75 44.20,72.00C44.28,73.25 44.62,74.33 45.50,76.00C46.38,77.67 48.67,80.17 49.50,82.00C50.33,83.83 50.75,85.25 50.50,87.00C50.25,88.75 48.92,90.67 48.00,92.50C47.08,94.33 45.25,96.25 45.00,98.00C44.75,99.75 45.58,101.00 46.50,103.00C47.42,105.00 49.50,107.75 50.50,110.00C51.50,112.25 52.17,114.50 52.50,116.50C52.83,118.50 52.58,120.25 52.50,122.00C52.42,123.75 52.25,125.33 52.00,127.00C51.75,128.67 51.42,130.50 51.00,132.00C50.58,133.50 50.17,134.67 49.50,136.00C48.83,137.33 47.67,138.58 47.00,140.00C46.33,141.42 45.92,142.83 45.50,144.50C45.08,146.17 44.33,148.25 44.50,150.00C44.67,151.75 45.58,153.33 46.50,155.00C47.42,156.67 48.75,158.17 50.00,160.00C51.25,161.83 53.33,165.00 54.00,166.00" stroke-width="1.4" stroke-dasharray="5.2,2.5"/><path d="M93.20,27.00C93.20,27.17 94.28,26.38 93.20,28.00C92.12,29.62 88.25,34.28 86.70,36.70C85.15,39.12 84.58,40.57 83.90,42.50C83.22,44.43 83.00,46.75 82.60,48.30C82.20,49.85 82.52,50.62 81.50,51.80C80.48,52.98 78.63,54.37 76.50,55.40C74.37,56.43 71.30,57.12 68.70,58.00C66.10,58.88 63.52,59.75 60.90,60.70C58.28,61.65 55.32,62.77 53.00,63.70C50.68,64.63 48.73,65.37 47.00,66.30C45.27,67.23 43.65,68.22 42.60,69.30C41.55,70.38 40.93,71.65 40.70,72.80C40.47,73.95 40.73,75.23 41.20,76.20C41.67,77.17 42.65,77.90 43.50,78.60C44.35,79.30 45.47,79.37 46.30,80.40C47.13,81.43 48.05,83.60 48.50,84.80C48.95,86.00 49.47,86.58 49.00,87.60C48.53,88.62 47.00,89.60 45.70,90.90C44.40,92.20 42.28,94.10 41.20,95.40C40.12,96.70 39.32,97.72 39.20,98.70C39.08,99.68 39.20,100.55 40.50,101.30C41.80,102.05 44.40,102.45 47.00,103.20C49.60,103.95 53.93,104.92 56.10,105.80C58.27,106.68 59.55,107.52 60.00,108.50C60.45,109.48 59.88,110.52 58.80,111.70C57.72,112.88 55.47,114.40 53.50,115.60C51.53,116.80 48.30,117.70 47.00,118.90C45.70,120.10 45.48,121.50 45.70,122.80C45.92,124.10 47.53,125.68 48.30,126.70C49.07,127.72 49.87,128.10 50.30,128.90C50.73,129.70 51.02,130.42 50.90,131.50C50.78,132.58 50.25,134.32 49.60,135.40C48.95,136.48 48.08,137.23 47.00,138.00C45.92,138.77 43.85,139.13 43.10,140.00C42.35,140.87 42.38,142.23 42.50,143.20C42.62,144.17 43.80,144.82 43.80,145.80C43.80,146.78 42.83,148.23 42.50,149.10C42.17,149.97 41.27,150.35 41.80,151.00C42.33,151.65 44.18,152.12 45.70,153.00C47.22,153.88 49.38,155.10 50.90,156.30C52.42,157.50 53.70,158.90 54.80,160.20C55.90,161.50 56.87,163.05 57.50,164.10C58.13,165.15 58.42,166.10 58.60,166.50" stroke-width="2.9" stroke-linejoin="round"/></g><g clip-path="url(#cb)"><g fill="none" mask="url(#md)"><use href="#R" stroke-width="2.0" stroke-opacity="0.3"/></g></g><g clip-path="url(#cb)"><g fill="none" mask="url(#mt)"><use href="#R" stroke-width="1.2" stroke-opacity="0.8"/></g></g><g clip-path="url(#cc)"><circle cx="163.6" cy="307.7" r="1.9" fill="#dd0000"/><circle cx="164.1" cy="307.7" r="1.9" fill="#e30000"/><circle cx="164.6" cy="307.7" r="1.9" fill="#e80100"/><circle cx="165.1" cy="307.6" r="1.9" fill="#ee0500"/><circle cx="165.6" cy="307.6" r="1.9" fill="#f60b00"/><circle cx="166.1" cy="307.6" r="1.9" fill="#ff1600"/><circle cx="166.6" cy="307.6" r="1.9" fill="#ff2100"/><circle cx="167.1" cy="307.6" r="1.9" fill="#ff2c00"/><circle cx="167.5" cy="307.6" r="1.9" fill="#ff3b00"/><circle cx="168.0" cy="307.5" r="1.9" fill="#ff4d00"/><circle cx="168.5" cy="307.5" r="1.9" fill="#ff5e00"/><circle cx="169.0" cy="307.5" r="1.9" fill="#ff7200"/><circle cx="169.5" cy="307.4" r="1.9" fill="#ff8900"/><circle cx="170.0" cy="307.4" r="1.9" fill="#ffa000"/><circle cx="170.5" cy="307.4" r="1.9" fill="#ffb700"/><circle cx="171.0" cy="307.3" r="1.9" fill="#ffce00"/><circle cx="171.5" cy="307.3" r="1.9" fill="#ffe500"/><circle cx="171.9" cy="307.2" r="1.9" fill="#f5f802"/><circle cx="172.4" cy="307.2" r="1.9" fill="#e6ff11"/><circle cx="172.9" cy="307.1" r="1.9" fill="#d7ff1f"/><circle cx="173.4" cy="307.1" r="1.9" fill="#c9ff2e"/><circle cx="173.9" cy="307.0" r="1.9" fill="#baff3d"/><circle cx="174.4" cy="307.0" r="1.9" fill="#abff4b"/><circle cx="174.9" cy="306.9" r="1.9" fill="#9dff5a"/><circle cx="175.4" cy="306.8" r="1.9" fill="#8eff69"/><circle cx="175.9" cy="306.8" r="1.9" fill="#7fff77"/><circle cx="176.4" cy="306.7" r="1.9" fill="#76ff81"/><circle cx="176.8" cy="306.6" r="1.9" fill="#6eff89"/><circle cx="177.3" cy="306.6" r="1.9" fill="#65ff91"/><circle cx="177.8" cy="306.5" r="1.9" fill="#5dff99"/><circle cx="178.3" cy="306.4" r="1.9" fill="#55ffa1"/><circle cx="178.8" cy="306.4" r="1.9" fill="#4dffa9"/><circle cx="179.3" cy="306.3" r="1.9" fill="#45ffb2"/><circle cx="179.8" cy="306.2" r="1.9" fill="#3dffba"/><circle cx="180.3" cy="306.1" r="1.9" fill="#35ffc2"/><circle cx="180.8" cy="306.0" r="1.9" fill="#2dffca"/><circle cx="181.2" cy="306.0" r="1.9" fill="#25ffd2"/><circle cx="181.7" cy="305.9" r="1.9" fill="#1dffda"/><circle cx="182.2" cy="305.8" r="1.9" fill="#15ffe2"/><circle cx="182.7" cy="305.7" r="1.9" fill="#0df6ea"/><circle cx="183.2" cy="305.6" r="1.9" fill="#06ecf1"/><circle cx="183.7" cy="305.6" r="1.9" fill="#00e3f9"/><circle cx="184.2" cy="305.5" r="1.9" fill="#00daff"/><circle cx="184.7" cy="305.4" r="1.9" fill="#00d0ff"/><circle cx="185.2" cy="305.3" r="1.9" fill="#00c7ff"/><circle cx="185.7" cy="305.2" r="1.9" fill="#00beff"/><circle cx="186.1" cy="305.1" r="1.9" fill="#00b4ff"/><circle cx="186.6" cy="305.0" r="1.9" fill="#00abff"/><circle cx="187.1" cy="304.9" r="1.9" fill="#00a2ff"/><circle cx="187.6" cy="304.8" r="1.9" fill="#0098ff"/><circle cx="188.1" cy="304.7" r="1.9" fill="#008fff"/><circle cx="188.6" cy="304.7" r="1.9" fill="#0085ff"/><circle cx="189.1" cy="304.6" r="1.9" fill="#007cff"/><circle cx="189.6" cy="304.5" r="1.9" fill="#0073ff"/><circle cx="190.1" cy="304.4" r="1.9" fill="#0069ff"/><circle cx="190.5" cy="304.3" r="1.9" fill="#0060ff"/><circle cx="191.0" cy="304.2" r="1.9" fill="#005bff"/><circle cx="191.5" cy="304.1" r="1.9" fill="#0056ff"/><circle cx="192.0" cy="304.0" r="1.9" fill="#0050ff"/><circle cx="192.5" cy="303.9" r="1.9" fill="#004bff"/><circle cx="193.0" cy="303.8" r="1.9" fill="#0045ff"/><circle cx="193.5" cy="303.7" r="1.9" fill="#0040ff"/><circle cx="194.0" cy="303.6" r="1.9" fill="#003bff"/><circle cx="194.5" cy="303.5" r="1.9" fill="#0035ff"/><circle cx="195.0" cy="303.4" r="1.9" fill="#0030ff"/><circle cx="195.4" cy="303.3" r="1.9" fill="#002bff"/><circle cx="195.9" cy="303.2" r="1.9" fill="#0025ff"/><circle cx="196.4" cy="303.1" r="1.9" fill="#0020ff"/><circle cx="196.9" cy="303.0" r="1.9" fill="#001aff"/><circle cx="197.4" cy="302.9" r="1.9" fill="#0017ff"/><circle cx="197.9" cy="302.8" r="1.9" fill="#0013ff"/><circle cx="198.4" cy="302.7" r="1.9" fill="#000fff"/><circle cx="198.9" cy="302.6" r="1.9" fill="#000cff"/><circle cx="199.4" cy="302.5" r="1.9" fill="#0008ff"/><circle cx="199.8" cy="302.4" r="1.9" fill="#0005ff"/><circle cx="200.3" cy="302.3" r="1.9" fill="#0001ff"/><circle cx="200.8" cy="302.2" r="1.9" fill="#0000ff"/><circle cx="201.3" cy="302.1" r="1.9" fill="#0000ff"/><circle cx="201.8" cy="302.0" r="1.9" fill="#0000ff"/><circle cx="202.3" cy="301.9" r="1.9" fill="#0000ff"/><circle cx="202.8" cy="301.7" r="1.9" fill="#0000fd"/><circle cx="203.3" cy="301.6" r="1.9" fill="#0000f9"/><circle cx="203.8" cy="301.5" r="1.9" fill="#0000f5"/><circle cx="204.3" cy="301.4" r="1.9" fill="#0000f2"/><circle cx="204.7" cy="301.3" r="1.9" fill="#0000ee"/><circle cx="205.2" cy="301.2" r="1.9" fill="#0000eb"/><circle cx="205.7" cy="301.1" r="1.9" fill="#0000e7"/><circle cx="206.2" cy="301.0" r="1.9" fill="#0000e4"/><circle cx="206.7" cy="300.9" r="1.9" fill="#0000e0"/><circle cx="207.2" cy="300.9" r="1.9" fill="#0000dd"/><circle cx="210.5" cy="299.7" r="1.9" fill="#0000b9"/><circle cx="214.7" cy="298.8" r="1.9" fill="#0000ae"/><circle cx="223.9" cy="296.9" r="1.9" fill="#000097"/><circle cx="402.9" cy="246.1" r="1.9" fill="#0000ae"/><circle cx="410.1" cy="244.4" r="1.9" fill="#0000e8"/><circle cx="422.2" cy="241.6" r="1.9" fill="#0000f3"/><circle cx="424.2" cy="241.3" r="1.9" fill="#0000ff"/><circle cx="424.2" cy="222.2" r="1.9" fill="#4affad"/><circle cx="424.9" cy="222.1" r="1.9" fill="#49ffae"/><circle cx="425.6" cy="222.0" r="1.9" fill="#47ffb0"/><circle cx="426.3" cy="221.8" r="1.9" fill="#45ffb1"/><circle cx="427.0" cy="221.7" r="1.9" fill="#44ffb3"/><circle cx="427.7" cy="221.6" r="1.9" fill="#42ffb4"/><circle cx="428.4" cy="221.5" r="1.9" fill="#40ffb7"/><circle cx="429.1" cy="221.4" r="1.9" fill="#3cffbb"/><circle cx="429.8" cy="221.3" r="1.9" fill="#38ffbf"/><circle cx="430.5" cy="221.1" r="1.9" fill="#34ffc3"/><circle cx="431.2" cy="221.0" r="1.9" fill="#2fffc8"/><circle cx="431.9" cy="220.9" r="1.9" fill="#26ffd0"/><circle cx="432.6" cy="220.8" r="1.9" fill="#1effd9"/><circle cx="433.3" cy="220.7" r="1.9" fill="#15ffe1"/><circle cx="434.0" cy="220.6" r="1.9" fill="#10fae6"/><circle cx="439.9" cy="219.3" r="1.9" fill="#00ccff"/><circle cx="443.5" cy="218.8" r="1.9" fill="#00c7ff"/><circle cx="447.2" cy="218.0" r="1.9" fill="#00bdff"/><circle cx="451.2" cy="217.3" r="1.9" fill="#00b2ff"/><circle cx="455.6" cy="216.4" r="1.9" fill="#00a8ff"/><circle cx="459.8" cy="215.4" r="1.9" fill="#00a3ff"/><circle cx="464.6" cy="214.6" r="1.9" fill="#009eff"/><circle cx="469.9" cy="213.5" r="1.9" fill="#008fff"/><circle cx="475.6" cy="212.4" r="1.9" fill="#0080ff"/><circle cx="481.4" cy="211.3" r="1.9" fill="#0070ff"/><circle cx="488.3" cy="209.8" r="1.9" fill="#0061ff"/><circle cx="495.3" cy="208.4" r="1.9" fill="#004dff"/><circle cx="503.3" cy="206.7" r="1.9" fill="#0042ff"/><circle cx="436.6" cy="220.0" r="1.9" fill="#63ff94"/><circle cx="453.4" cy="217.3" r="1.9" fill="#63ff94"/><circle cx="511.5" cy="207.4" r="1.9" fill="#6bff8c"/><circle cx="518.9" cy="205.6" r="1.9" fill="#8cff6b"/><circle cx="526.1" cy="204.5" r="1.9" fill="#8cff6b"/><circle cx="532.4" cy="203.5" r="1.9" fill="#8cff6b"/><circle cx="538.2" cy="202.4" r="1.9" fill="#8cff6b"/><circle cx="543.8" cy="201.6" r="1.9" fill="#8cff6b"/><circle cx="549.2" cy="201.0" r="1.9" fill="#8cff6b"/><circle cx="555.3" cy="200.1" r="1.9" fill="#8cff6b"/><circle cx="559.9" cy="199.4" r="1.9" fill="#8cff6b"/><circle cx="512.4" cy="204.6" r="1.9" fill="#0029ff"/><circle cx="522.0" cy="202.5" r="1.9" fill="#002eff"/><circle cx="534.3" cy="200.1" r="1.9" fill="#002eff"/><circle cx="549.5" cy="196.9" r="1.9" fill="#002eff"/><circle cx="570.4" cy="192.5" r="1.9" fill="#002eff"/><circle cx="613.4" cy="183.0" r="1.9" fill="#002eff"/></g><rect x="636.2" y="28.3" width="6.6" height="137.0" fill="url(#gj)"/><rect x="636.2" y="177.1" width="6.6" height="136.8" fill="url(#gj)"/><path fill="none" stroke="#555" stroke-width="1.15" d="M35.8,28.3H110.8V165.3H35.8ZM163.3,28.3H613.8V165.3H163.3ZM163.3,177.1H613.8V313.9H163.3ZM636.2,28.3H642.8V165.3H636.2ZM636.2,177.1H642.8V313.9H636.2Z"/><path fill="none" stroke="#555" stroke-width="1.15" d="M35.8,142.47h-3.2M163.3,142.47h-3.2M35.8,119.63h-3.2M163.3,119.63h-3.2M35.8,96.80h-3.2M163.3,96.80h-3.2M35.8,73.97h-3.2M163.3,73.97h-3.2M35.8,51.13h-3.2M163.3,51.13h-3.2M69.20,28.3v-3.2M109.40,28.3v-3.2M163.30,28.3v-3.2M163.30,313.9v3.2M217.69,28.3v-3.2M217.69,313.9v3.2M272.08,28.3v-3.2M272.08,313.9v3.2M326.46,28.3v-3.2M326.46,313.9v3.2M380.85,28.3v-3.2M380.85,313.9v3.2M435.24,28.3v-3.2M435.24,313.9v3.2M489.62,28.3v-3.2M489.62,313.9v3.2M544.01,28.3v-3.2M544.01,313.9v3.2M598.40,28.3v-3.2M598.40,313.9v3.2M163.3,313.10h-3.2M163.3,292.15h-3.2M163.3,271.20h-3.2M163.3,250.25h-3.2M163.3,229.30h-3.2M163.3,208.35h-3.2M163.3,187.40h-3.2M642.8,28.30h3.2M642.8,55.70h3.2M642.8,83.10h3.2M642.8,110.50h3.2M642.8,137.90h3.2M642.8,165.30h3.2M642.8,288.19h3.2M642.8,256.45h3.2M642.8,224.71h3.2M642.8,192.97h3.2"/><g stroke="#1c1c1c" stroke-width="0.25"><text x="30.20" y="146.07" font-size="10" text-anchor="end">25</text><text x="157.20" y="146.07" font-size="10" text-anchor="end">25</text><text x="30.20" y="123.23" font-size="10" text-anchor="end">50</text><text x="157.20" y="123.23" font-size="10" text-anchor="end">50</text><text x="30.20" y="100.40" font-size="10" text-anchor="end">75</text><text x="157.20" y="100.40" font-size="10" text-anchor="end">75</text><text x="30.20" y="77.57" font-size="10" text-anchor="end">100</text><text x="157.20" y="77.57" font-size="10" text-anchor="end">100</text><text x="30.20" y="54.73" font-size="10" text-anchor="end">125</text><text x="157.20" y="54.73" font-size="10" text-anchor="end">125</text><text x="69.20" y="19.90" font-size="10" text-anchor="middle">400</text><text x="109.40" y="19.90" font-size="10" text-anchor="middle">600</text><text x="163.30" y="19.90" font-size="10" text-anchor="middle">0</text><text x="163.30" y="328.60" font-size="10" text-anchor="middle">0</text><text x="217.69" y="19.90" font-size="10" text-anchor="middle">50</text><text x="217.69" y="328.60" font-size="10" text-anchor="middle">50</text><text x="272.08" y="19.90" font-size="10" text-anchor="middle">100</text><text x="272.08" y="328.60" font-size="10" text-anchor="middle">100</text><text x="326.46" y="19.90" font-size="10" text-anchor="middle">150</text><text x="326.46" y="328.60" font-size="10" text-anchor="middle">150</text><text x="380.85" y="19.90" font-size="10" text-anchor="middle">200</text><text x="380.85" y="328.60" font-size="10" text-anchor="middle">200</text><text x="435.24" y="19.90" font-size="10" text-anchor="middle">250</text><text x="435.24" y="328.60" font-size="10" text-anchor="middle">250</text><text x="489.62" y="19.90" font-size="10" text-anchor="middle">300</text><text x="489.62" y="328.60" font-size="10" text-anchor="middle">300</text><text x="544.01" y="19.90" font-size="10" text-anchor="middle">350</text><text x="544.01" y="328.60" font-size="10" text-anchor="middle">350</text><text x="598.40" y="19.90" font-size="10" text-anchor="middle">400</text><text x="598.40" y="328.60" font-size="10" text-anchor="middle">400</text><text x="157.20" y="316.70" font-size="10" text-anchor="end">0</text><text x="157.20" y="295.75" font-size="10" text-anchor="end">250</text><text x="157.20" y="274.80" font-size="10" text-anchor="end">500</text><text x="157.20" y="253.85" font-size="10" text-anchor="end">750</text><text x="157.20" y="232.90" font-size="10" text-anchor="end">1000</text><text x="157.20" y="211.95" font-size="10" text-anchor="end">1250</text><text x="157.20" y="191.00" font-size="10" text-anchor="end">1500</text><text x="649.00" y="31.90" font-size="10" text-anchor="start">−20</text><text x="649.00" y="59.30" font-size="10" text-anchor="start">−40</text><text x="649.00" y="86.70" font-size="10" text-anchor="start">−60</text><text x="649.00" y="114.10" font-size="10" text-anchor="start">−80</text><text x="649.00" y="141.50" font-size="10" text-anchor="start">−100</text><text x="649.00" y="168.90" font-size="10" text-anchor="start">−120</text><text x="648.60" y="291.79" font-size="10" text-anchor="start">20</text><text x="648.60" y="260.05" font-size="10" text-anchor="start">40</text><text x="648.60" y="228.31" font-size="10" text-anchor="start">60</text><text x="648.60" y="196.57" font-size="10" text-anchor="start">80</text></g><g stroke="#1c1c1c" stroke-width="0.25"><text x="73.05" y="7.90" font-size="9.7" text-anchor="middle" textLength="83.2" lengthAdjust="spacingAndGlyphs">Sound Speed [m/s]</text><text x="388.90" y="8.00" font-size="9.8" text-anchor="middle" textLength="50.4" lengthAdjust="spacingAndGlyphs">Range [km]</text><text x="388.90" y="341.40" font-size="9.8" text-anchor="middle" textLength="50.4" lengthAdjust="spacingAndGlyphs">Range [km]</text><text transform="translate(8.10,97.20) rotate(-90)" x="0" y="0" font-size="10" text-anchor="middle" textLength="63.6" lengthAdjust="spacingAndGlyphs">Altitude [km]</text><text transform="translate(129.60,245.20) rotate(-90)" x="0" y="0" font-size="10" text-anchor="middle" textLength="97.3" lengthAdjust="spacingAndGlyphs">Propagation time [s]</text><text transform="translate(683.10,97.50) rotate(-90)" x="0" y="0" font-size="10" text-anchor="middle" textLength="102.2" lengthAdjust="spacingAndGlyphs">Amp. (rel. 1 km) [dB]</text><text transform="translate(669.80,245.50) rotate(-90)" x="0" y="0" font-size="10" text-anchor="middle" textLength="133.2" lengthAdjust="spacingAndGlyphs">Inclination at receiver [deg]</text><text x="7.40" y="163.90" font-size="16.5" text-anchor="start">(a)</text><text x="126.60" y="164.80" font-size="16.5" text-anchor="start">(b)</text><text x="126.60" y="336.60" font-size="16.5" text-anchor="start">(c)</text></g></svg></body></html>
